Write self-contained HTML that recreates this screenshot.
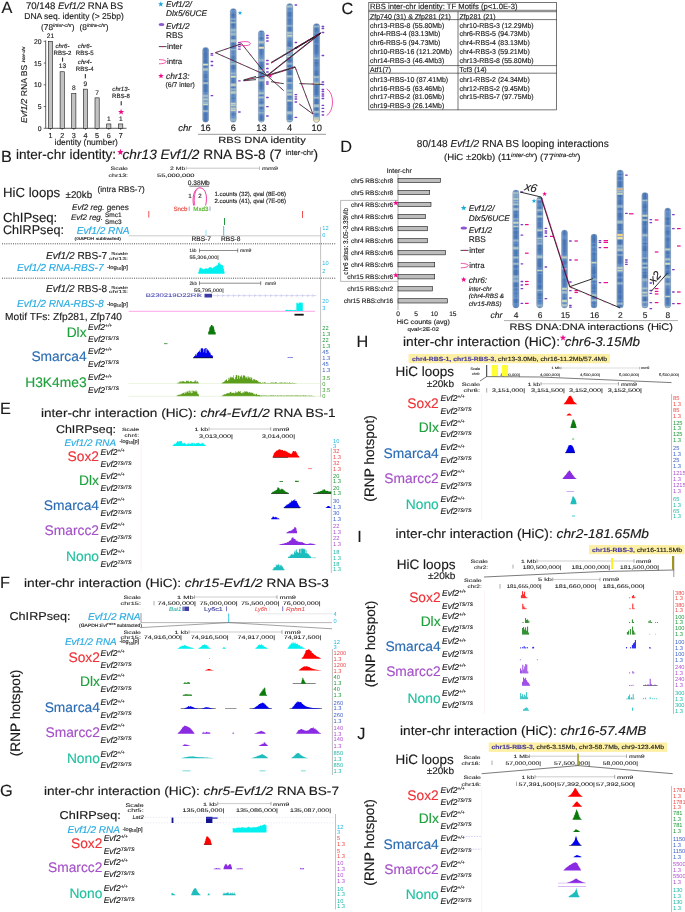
<!DOCTYPE html>
<html lang="en"><head><meta charset="utf-8"><title>Figure</title>
<style>
html,body{margin:0;padding:0;background:#fff}
body{width:685px;height:912px;overflow:hidden}
svg text{stroke-width:.14px}
svg{display:block;text-rendering:geometricPrecision;font-family:"Liberation Sans",Arial,Helvetica,sans-serif;fill:#1a1a1a}
</style></head><body>
<svg width="685" height="912" viewBox="0 0 685 912">
<defs><linearGradient id="cyl" x1="0" x2="1" y1="0" y2="0"><stop offset="0" stop-color="#8a9ab0" stop-opacity=".55"/><stop offset=".25" stop-color="#fff" stop-opacity=".08"/><stop offset=".6" stop-color="#fff" stop-opacity="0"/><stop offset="1" stop-color="#7a8aa2" stop-opacity=".5"/></linearGradient></defs>
<text x="1.5" y="13.17" font-size="16.3" stroke="#1a1a1a">A</text>
<text x="74.5" y="8.66" font-size="9.6" stroke="#1a1a1a" text-anchor="middle"><tspan>70/148 </tspan><tspan font-style="italic">Evf1/2</tspan><tspan> RNA BS</tspan></text>
<text x="74" y="19.36" font-size="8.5" text-anchor="middle" stroke="#1a1a1a">DNA seq. identity (&gt; 25bp)</text>
<text x="41" y="29.99" font-size="8.3" stroke="#1a1a1a"><tspan>(78</tspan><tspan font-style="italic" font-size="5.15" dy="-3.49">inter-chr</tspan><tspan dy="3.49">)</tspan></text>
<text x="79.5" y="29.99" font-size="8.3" stroke="#1a1a1a"><tspan>(8</tspan><tspan font-style="italic" font-size="5.15" dy="-3.49">intra-chr</tspan><tspan dy="3.49">)</tspan></text>
<line x1="45.7" y1="40.5" x2="45.7" y2="128.3" stroke="#1a1a1a" stroke-width="0.7"/>
<line x1="45.7" y1="128.3" x2="126.5" y2="128.3" stroke="#1a1a1a" stroke-width="0.7"/>
<line x1="43.7" y1="128.3" x2="45.7" y2="128.3" stroke="#1a1a1a" stroke-width="0.6"/>
<text x="41.5" y="130.75" font-size="6.8" text-anchor="end" stroke="#1a1a1a">0</text>
<line x1="43.7" y1="106.55" x2="45.7" y2="106.55" stroke="#1a1a1a" stroke-width="0.6"/>
<text x="41.5" y="109" font-size="6.8" text-anchor="end" stroke="#1a1a1a">5</text>
<line x1="43.7" y1="84.8" x2="45.7" y2="84.8" stroke="#1a1a1a" stroke-width="0.6"/>
<text x="41.5" y="87.25" font-size="6.8" text-anchor="end" stroke="#1a1a1a">10</text>
<line x1="43.7" y1="63.05" x2="45.7" y2="63.05" stroke="#1a1a1a" stroke-width="0.6"/>
<text x="41.5" y="65.5" font-size="6.8" text-anchor="end" stroke="#1a1a1a">15</text>
<line x1="43.7" y1="41.3" x2="45.7" y2="41.3" stroke="#1a1a1a" stroke-width="0.6"/>
<text x="41.5" y="43.75" font-size="6.8" text-anchor="end" stroke="#1a1a1a">20</text>
<rect x="48.3" y="41.3" width="4.2" height="87" fill="#c2c2c2" stroke="#1a1a1a" stroke-width="0.6"/>
<text x="50.4" y="137.89" font-size="7.2" text-anchor="middle" stroke="#1a1a1a">1</text>
<line x1="50.4" y1="128.3" x2="50.4" y2="129.9" stroke="#1a1a1a" stroke-width="0.6"/>
<rect x="60.1" y="71.75" width="4.2" height="56.55" fill="#c2c2c2" stroke="#1a1a1a" stroke-width="0.6"/>
<text x="62.2" y="137.89" font-size="7.2" text-anchor="middle" stroke="#1a1a1a">2</text>
<line x1="62.2" y1="128.3" x2="62.2" y2="129.9" stroke="#1a1a1a" stroke-width="0.6"/>
<rect x="71.7" y="93.5" width="4.2" height="34.8" fill="#c2c2c2" stroke="#1a1a1a" stroke-width="0.6"/>
<text x="73.8" y="137.89" font-size="7.2" text-anchor="middle" stroke="#1a1a1a">3</text>
<line x1="73.8" y1="128.3" x2="73.8" y2="129.9" stroke="#1a1a1a" stroke-width="0.6"/>
<rect x="83.3" y="89.15" width="4.2" height="39.15" fill="#c2c2c2" stroke="#1a1a1a" stroke-width="0.6"/>
<text x="85.4" y="137.89" font-size="7.2" text-anchor="middle" stroke="#1a1a1a">4</text>
<line x1="85.4" y1="128.3" x2="85.4" y2="129.9" stroke="#1a1a1a" stroke-width="0.6"/>
<rect x="95" y="97.85" width="4.2" height="30.45" fill="#c2c2c2" stroke="#1a1a1a" stroke-width="0.6"/>
<text x="97.1" y="137.89" font-size="7.2" text-anchor="middle" stroke="#1a1a1a">5</text>
<line x1="97.1" y1="128.3" x2="97.1" y2="129.9" stroke="#1a1a1a" stroke-width="0.6"/>
<rect x="106.7" y="123.95" width="4.2" height="4.35" fill="#c2c2c2" stroke="#1a1a1a" stroke-width="0.6"/>
<text x="108.8" y="137.89" font-size="7.2" text-anchor="middle" stroke="#1a1a1a">6</text>
<line x1="108.8" y1="128.3" x2="108.8" y2="129.9" stroke="#1a1a1a" stroke-width="0.6"/>
<rect x="118.6" y="123.95" width="4.2" height="4.35" fill="#c2c2c2" stroke="#1a1a1a" stroke-width="0.6"/>
<text x="120.7" y="137.89" font-size="7.2" text-anchor="middle" stroke="#1a1a1a">7</text>
<line x1="120.7" y1="128.3" x2="120.7" y2="129.9" stroke="#1a1a1a" stroke-width="0.6"/>
<text x="86.2" y="144.54" font-size="8.45" text-anchor="middle" stroke="#1a1a1a">identity (number)</text>
<text x="27.3" y="123" font-size="8.6" stroke="#1a1a1a" transform="rotate(-90 27.3 123)"><tspan font-style="italic">Evf1/2</tspan><tspan> RNA BS </tspan><tspan font-style="italic" font-size="4.3" dy="-2.58">inter-chr</tspan></text>
<text x="50.4" y="38.38" font-size="6.6" text-anchor="middle" stroke="#1a1a1a">21</text>
<text x="62.5" y="48.4" font-size="6.1" text-anchor="middle" font-style="italic" stroke="#1a1a1a">chr6-</text>
<text x="62.5" y="55.4" font-size="6.1" text-anchor="middle" stroke="#1a1a1a">RBS-2</text>
<line x1="62.6" y1="57.6" x2="62.6" y2="61.6" stroke="#1a1a1a" stroke-width="1"/>
<text x="62.4" y="68.38" font-size="6.6" text-anchor="middle" stroke="#1a1a1a">13</text>
<text x="84.8" y="48.4" font-size="6.1" text-anchor="middle" font-style="italic" stroke="#1a1a1a">chr6-</text>
<text x="84.8" y="55.4" font-size="6.1" text-anchor="middle" stroke="#1a1a1a">RBS-5</text>
<text x="84.8" y="63.5" font-size="6.1" text-anchor="middle" font-style="italic" stroke="#1a1a1a">chr4-</text>
<text x="84.8" y="70.5" font-size="6.1" text-anchor="middle" stroke="#1a1a1a">RBS-4</text>
<line x1="85.3" y1="74" x2="85.3" y2="78.4" stroke="#1a1a1a" stroke-width="1"/>
<text x="85.4" y="85.68" font-size="6.6" text-anchor="middle" stroke="#1a1a1a">9</text>
<text x="73.9" y="90.18" font-size="6.6" text-anchor="middle" stroke="#1a1a1a">8</text>
<text x="97.2" y="94.68" font-size="6.6" text-anchor="middle" stroke="#1a1a1a">7</text>
<text x="121" y="91.2" font-size="6.1" text-anchor="middle" font-style="italic" stroke="#1a1a1a">chr13-</text>
<text x="121" y="98.4" font-size="6.1" text-anchor="middle" stroke="#1a1a1a">RBS-8</text>
<line x1="121.2" y1="101.2" x2="121.2" y2="105.4" stroke="#1a1a1a" stroke-width="1"/>
<polygon points="121.1,108.8 121.89,110.91 124.14,111.01 122.38,112.42 122.98,114.59 121.1,113.34 119.22,114.59 119.82,112.42 118.06,111.01 120.31,110.91" fill="#ec0c8c"/>
<text x="108.8" y="121.08" font-size="6.6" text-anchor="middle" stroke="#1a1a1a">1</text>
<text x="120.8" y="121.08" font-size="6.6" text-anchor="middle" stroke="#1a1a1a">1</text>
<polygon points="160.8,1.3 161.52,3.21 163.56,3.3 161.96,4.58 162.5,6.55 160.8,5.42 159.1,6.55 159.64,4.58 158.04,3.3 160.08,3.21" fill="#1aa7e0"/>
<text x="166" y="7.29" font-size="8.3" font-style="italic" stroke="#1a1a1a">Evf1/2/</text>
<text x="166" y="15.99" font-size="8.3" font-style="italic" stroke="#1a1a1a">Dlx5/6UCE</text>
<ellipse cx="161.5" cy="24.6" rx="2.9" ry="1.5" fill="#8a55d0"/>
<text x="166" y="29.19" font-size="8.3" font-style="italic" stroke="#1a1a1a">Evf1/2</text>
<text x="166" y="37.79" font-size="8.3" stroke="#1a1a1a">RBS</text>
<line x1="158.8" y1="46.6" x2="166.6" y2="46.6" stroke="#1a1a1a" stroke-width="0.8"/>
<line x1="161.5" y1="46.6" x2="164" y2="46.6" stroke="#ec0c8c" stroke-width="0.8"/>
<text x="167" y="49.44" font-size="7.9" stroke="#1a1a1a">inter</text>
<path d="M159 59.6 C163 59.6 166.3 60.6 166.3 61.6 C166.3 62.8 163 63.8 159 63.8" fill="none" stroke="#ec0c8c" stroke-width="0.7"/>
<text x="167" y="64.11" font-size="7.8" stroke="#1a1a1a">intra</text>
<polygon points="161,73.1 161.72,75.01 163.76,75.1 162.16,76.38 162.7,78.35 161,77.22 159.3,78.35 159.84,76.38 158.24,75.1 160.28,75.01" fill="#ec0c8c"/>
<text x="166" y="79.26" font-size="8.5" font-style="italic" stroke="#1a1a1a">chr13:</text>
<text x="165.6" y="86.75" font-size="6.8" stroke="#1a1a1a">(6/7 inter)</text>
<clipPath id="c1"><rect x="202.6" y="47.3" width="6" height="75" rx="3" ry="3"/></clipPath>
<g clip-path="url(#c1)">
<rect x="202.6" y="47.3" width="6" height="75" fill="#4677b8"/>
<rect x="202.6" y="48.8" width="6" height="2.13" fill="#4474b6"/>
<rect x="202.6" y="50.83" width="6" height="2.02" fill="#4877b9"/>
<rect x="202.6" y="52.75" width="6" height="2.67" fill="#4070b0"/>
<rect x="202.6" y="55.32" width="6" height="2.64" fill="#4272b4"/>
<rect x="202.6" y="57.86" width="6" height="1.21" fill="#4877b9"/>
<rect x="202.6" y="58.97" width="6" height="2.43" fill="#4272b4"/>
<rect x="202.6" y="61.3" width="6" height="1.77" fill="#4070b0"/>
<rect x="202.6" y="62.97" width="6" height="2.25" fill="#4b7cbc"/>
<rect x="202.6" y="65.13" width="6" height="2.73" fill="#4272b4"/>
<rect x="202.6" y="67.75" width="6" height="0.7" fill="#7da2c6"/>
<rect x="202.6" y="68.35" width="6" height="2.46" fill="#a9c2c4"/>
<rect x="202.6" y="70.71" width="6" height="0.7" fill="#7da2c6"/>
<rect x="202.6" y="71.51" width="6" height="2.61" fill="#5585c2"/>
<rect x="202.6" y="74.03" width="6" height="2.75" fill="#4877b9"/>
<rect x="202.6" y="76.68" width="6" height="1.55" fill="#4272b4"/>
<rect x="202.6" y="78.13" width="6" height="1.91" fill="#5585c2"/>
<rect x="202.6" y="79.93" width="6" height="2.11" fill="#4474b6"/>
<rect x="202.6" y="81.95" width="6" height="0.7" fill="#7da2c6"/>
<rect x="202.6" y="82.55" width="6" height="1.33" fill="#b6c9be"/>
<rect x="202.6" y="83.78" width="6" height="0.7" fill="#7da2c6"/>
<rect x="202.6" y="84.58" width="6" height="1.54" fill="#4272b4"/>
<rect x="202.6" y="86.01" width="6" height="1.14" fill="#4272b4"/>
<rect x="202.6" y="87.05" width="6" height="1.75" fill="#4272b4"/>
<rect x="202.6" y="88.7" width="6" height="0.9" fill="#4b7cbc"/>
<rect x="202.6" y="89.5" width="6" height="1.02" fill="#4070b0"/>
<rect x="202.6" y="90.42" width="6" height="1.77" fill="#4272b4"/>
<rect x="202.6" y="92.09" width="6" height="1.34" fill="#5c8bc6"/>
<rect x="202.6" y="93.33" width="6" height="1.09" fill="#5585c2"/>
<rect x="202.6" y="94.32" width="6" height="0.7" fill="#7da2c6"/>
<rect x="202.6" y="94.92" width="6" height="2.22" fill="#93b4c8"/>
<rect x="202.6" y="97.03" width="6" height="0.7" fill="#7da2c6"/>
<rect x="202.6" y="97.83" width="6" height="0.7" fill="#7da2c6"/>
<rect x="202.6" y="98.43" width="6" height="2.11" fill="#a9c2c4"/>
<rect x="202.6" y="100.45" width="6" height="0.7" fill="#7da2c6"/>
<rect x="202.6" y="101.25" width="6" height="0.7" fill="#7da2c6"/>
<rect x="202.6" y="101.85" width="6" height="2.29" fill="#93b4c8"/>
<rect x="202.6" y="104.04" width="6" height="0.7" fill="#7da2c6"/>
<rect x="202.6" y="104.84" width="6" height="2.13" fill="#4070b0"/>
<rect x="202.6" y="106.87" width="6" height="3.07" fill="#4474b6"/>
<rect x="202.6" y="109.84" width="6" height="0.7" fill="#7da2c6"/>
<rect x="202.6" y="110.44" width="6" height="1.47" fill="#a4bfc6"/>
<rect x="202.6" y="111.81" width="6" height="0.7" fill="#7da2c6"/>
<rect x="202.6" y="112.61" width="6" height="3.08" fill="#4272b4"/>
<rect x="202.6" y="115.59" width="6" height="3.04" fill="#4474b6"/>
<rect x="202.6" y="118.52" width="6" height="3.1" fill="#4272b4"/>
<rect x="202.6" y="63.5" width="6" height="2.2" fill="#8fb0c6"/>
<rect x="202.6" y="64" width="6" height="1.2" fill="#d9e2b8"/>
<rect x="202.6" y="103.5" width="6" height="2" fill="#8fb0c6"/>
<rect x="202.6" y="104" width="6" height="1" fill="#c6d4bc"/>
<rect x="202.6" y="47.3" width="6" height="75" fill="url(#cyl)"/>
</g>
<rect x="202.6" y="47.3" width="6" height="75" rx="3" ry="3" fill="none" stroke="#93a0b0" stroke-width="0.45"/>
<clipPath id="c2"><rect x="230.3" y="8.4" width="6" height="113.9" rx="3" ry="3"/></clipPath>
<g clip-path="url(#c2)">
<rect x="230.3" y="8.4" width="6" height="113.9" fill="#4677b8"/>
<rect x="230.3" y="9.9" width="6" height="2.35" fill="#5c8bc6"/>
<rect x="230.3" y="12.15" width="6" height="1.74" fill="#5585c2"/>
<rect x="230.3" y="13.79" width="6" height="2.32" fill="#4070b0"/>
<rect x="230.3" y="16" width="6" height="2.22" fill="#4877b9"/>
<rect x="230.3" y="18.12" width="6" height="0.7" fill="#7da2c6"/>
<rect x="230.3" y="18.72" width="6" height="0.99" fill="#8aadc8"/>
<rect x="230.3" y="19.62" width="6" height="0.7" fill="#7da2c6"/>
<rect x="230.3" y="20.42" width="6" height="1.26" fill="#4b7cbc"/>
<rect x="230.3" y="21.57" width="6" height="0.7" fill="#7da2c6"/>
<rect x="230.3" y="22.17" width="6" height="0.85" fill="#a9c2c4"/>
<rect x="230.3" y="22.92" width="6" height="0.7" fill="#7da2c6"/>
<rect x="230.3" y="23.72" width="6" height="1.64" fill="#4070b0"/>
<rect x="230.3" y="25.26" width="6" height="1.09" fill="#4272b4"/>
<rect x="230.3" y="26.26" width="6" height="2.36" fill="#4b7cbc"/>
<rect x="230.3" y="28.51" width="6" height="0.7" fill="#7da2c6"/>
<rect x="230.3" y="29.11" width="6" height="2.59" fill="#93b4c8"/>
<rect x="230.3" y="31.61" width="6" height="0.7" fill="#7da2c6"/>
<rect x="230.3" y="32.41" width="6" height="0.7" fill="#7da2c6"/>
<rect x="230.3" y="33.01" width="6" height="2.64" fill="#93b4c8"/>
<rect x="230.3" y="35.55" width="6" height="0.7" fill="#7da2c6"/>
<rect x="230.3" y="36.35" width="6" height="2.84" fill="#4877b9"/>
<rect x="230.3" y="39.09" width="6" height="0.7" fill="#7da2c6"/>
<rect x="230.3" y="39.69" width="6" height="2.47" fill="#a4bfc6"/>
<rect x="230.3" y="42.06" width="6" height="0.7" fill="#7da2c6"/>
<rect x="230.3" y="42.86" width="6" height="2.02" fill="#4272b4"/>
<rect x="230.3" y="44.78" width="6" height="1.82" fill="#4877b9"/>
<rect x="230.3" y="46.5" width="6" height="2.24" fill="#4877b9"/>
<rect x="230.3" y="48.64" width="6" height="0.7" fill="#7da2c6"/>
<rect x="230.3" y="49.24" width="6" height="0.87" fill="#a4bfc6"/>
<rect x="230.3" y="50" width="6" height="0.7" fill="#7da2c6"/>
<rect x="230.3" y="50.8" width="6" height="2.63" fill="#5585c2"/>
<rect x="230.3" y="53.33" width="6" height="1.7" fill="#5c8bc6"/>
<rect x="230.3" y="54.93" width="6" height="1.58" fill="#5585c2"/>
<rect x="230.3" y="56.42" width="6" height="1.7" fill="#4877b9"/>
<rect x="230.3" y="58.01" width="6" height="2.58" fill="#4b7cbc"/>
<rect x="230.3" y="60.5" width="6" height="0.7" fill="#7da2c6"/>
<rect x="230.3" y="61.1" width="6" height="0.77" fill="#93b4c8"/>
<rect x="230.3" y="61.76" width="6" height="0.7" fill="#7da2c6"/>
<rect x="230.3" y="62.56" width="6" height="0.7" fill="#7da2c6"/>
<rect x="230.3" y="63.16" width="6" height="1.55" fill="#a4bfc6"/>
<rect x="230.3" y="64.62" width="6" height="0.7" fill="#7da2c6"/>
<rect x="230.3" y="65.42" width="6" height="2.6" fill="#4272b4"/>
<rect x="230.3" y="67.92" width="6" height="1.39" fill="#4272b4"/>
<rect x="230.3" y="69.2" width="6" height="0.98" fill="#5585c2"/>
<rect x="230.3" y="70.08" width="6" height="2.22" fill="#5c8bc6"/>
<rect x="230.3" y="72.21" width="6" height="0.7" fill="#7da2c6"/>
<rect x="230.3" y="72.81" width="6" height="1.44" fill="#93b4c8"/>
<rect x="230.3" y="74.14" width="6" height="0.7" fill="#7da2c6"/>
<rect x="230.3" y="74.94" width="6" height="1.9" fill="#5c8bc6"/>
<rect x="230.3" y="76.75" width="6" height="1.96" fill="#4b7cbc"/>
<rect x="230.3" y="78.6" width="6" height="2.11" fill="#4b7cbc"/>
<rect x="230.3" y="80.61" width="6" height="2.55" fill="#4877b9"/>
<rect x="230.3" y="83.06" width="6" height="0.7" fill="#7da2c6"/>
<rect x="230.3" y="83.66" width="6" height="2.53" fill="#b6c9be"/>
<rect x="230.3" y="86.09" width="6" height="0.7" fill="#7da2c6"/>
<rect x="230.3" y="86.89" width="6" height="1.29" fill="#4474b6"/>
<rect x="230.3" y="88.08" width="6" height="0.7" fill="#7da2c6"/>
<rect x="230.3" y="88.68" width="6" height="1.2" fill="#9fbcc8"/>
<rect x="230.3" y="89.78" width="6" height="0.7" fill="#7da2c6"/>
<rect x="230.3" y="90.58" width="6" height="0.7" fill="#7da2c6"/>
<rect x="230.3" y="91.18" width="6" height="2.7" fill="#b6c9be"/>
<rect x="230.3" y="93.78" width="6" height="0.7" fill="#7da2c6"/>
<rect x="230.3" y="94.58" width="6" height="0.95" fill="#5585c2"/>
<rect x="230.3" y="95.43" width="6" height="2.37" fill="#5585c2"/>
<rect x="230.3" y="97.7" width="6" height="1.4" fill="#4877b9"/>
<rect x="230.3" y="99" width="6" height="1.98" fill="#5585c2"/>
<rect x="230.3" y="100.88" width="6" height="2.98" fill="#5c8bc6"/>
<rect x="230.3" y="103.76" width="6" height="0.7" fill="#7da2c6"/>
<rect x="230.3" y="104.36" width="6" height="1.93" fill="#b6c9be"/>
<rect x="230.3" y="106.2" width="6" height="0.7" fill="#7da2c6"/>
<rect x="230.3" y="107" width="6" height="0.7" fill="#7da2c6"/>
<rect x="230.3" y="107.6" width="6" height="2.59" fill="#b6c9be"/>
<rect x="230.3" y="110.09" width="6" height="0.7" fill="#7da2c6"/>
<rect x="230.3" y="110.89" width="6" height="2.43" fill="#5c8bc6"/>
<rect x="230.3" y="113.22" width="6" height="2.51" fill="#4877b9"/>
<rect x="230.3" y="115.63" width="6" height="2.4" fill="#5c8bc6"/>
<rect x="230.3" y="117.94" width="6" height="0.7" fill="#7da2c6"/>
<rect x="230.3" y="118.54" width="6" height="2.47" fill="#8aadc8"/>
<rect x="230.3" y="120.91" width="6" height="0.7" fill="#7da2c6"/>
<rect x="230.3" y="75.5" width="6" height="2.3" fill="#8fb0c6"/>
<rect x="230.3" y="76" width="6" height="1.3" fill="#d9e2b8"/>
<rect x="230.3" y="102.5" width="6" height="2.2" fill="#8fb0c6"/>
<rect x="230.3" y="103" width="6" height="1.2" fill="#c6d4bc"/>
<rect x="230.3" y="109.5" width="6" height="2" fill="#8fb0c6"/>
<rect x="230.3" y="110" width="6" height="1" fill="#c6d4bc"/>
<rect x="230.3" y="8.4" width="6" height="113.9" fill="url(#cyl)"/>
</g>
<rect x="230.3" y="8.4" width="6" height="113.9" rx="3" ry="3" fill="none" stroke="#93a0b0" stroke-width="0.45"/>
<clipPath id="c3"><rect x="258.4" y="30.4" width="6" height="91.9" rx="3" ry="3"/></clipPath>
<g clip-path="url(#c3)">
<rect x="258.4" y="30.4" width="6" height="91.9" fill="#4677b8"/>
<rect x="258.4" y="31.9" width="6" height="2.41" fill="#5c8bc6"/>
<rect x="258.4" y="34.21" width="6" height="2.86" fill="#5c8bc6"/>
<rect x="258.4" y="36.97" width="6" height="1.22" fill="#4b7cbc"/>
<rect x="258.4" y="38.09" width="6" height="1.31" fill="#4272b4"/>
<rect x="258.4" y="39.3" width="6" height="1.37" fill="#5585c2"/>
<rect x="258.4" y="40.57" width="6" height="0.7" fill="#7da2c6"/>
<rect x="258.4" y="41.17" width="6" height="2.38" fill="#a9c2c4"/>
<rect x="258.4" y="43.45" width="6" height="0.7" fill="#7da2c6"/>
<rect x="258.4" y="44.25" width="6" height="0.93" fill="#5585c2"/>
<rect x="258.4" y="45.08" width="6" height="1.09" fill="#4474b6"/>
<rect x="258.4" y="46.07" width="6" height="2.67" fill="#4474b6"/>
<rect x="258.4" y="48.64" width="6" height="1.86" fill="#4b7cbc"/>
<rect x="258.4" y="50.4" width="6" height="1.46" fill="#4474b6"/>
<rect x="258.4" y="51.77" width="6" height="2.88" fill="#4877b9"/>
<rect x="258.4" y="54.54" width="6" height="1.85" fill="#5585c2"/>
<rect x="258.4" y="56.29" width="6" height="2.31" fill="#5c8bc6"/>
<rect x="258.4" y="58.49" width="6" height="0.7" fill="#7da2c6"/>
<rect x="258.4" y="59.09" width="6" height="2.3" fill="#8aadc8"/>
<rect x="258.4" y="61.29" width="6" height="0.7" fill="#7da2c6"/>
<rect x="258.4" y="62.09" width="6" height="2.42" fill="#4877b9"/>
<rect x="258.4" y="64.41" width="6" height="3.07" fill="#4070b0"/>
<rect x="258.4" y="67.38" width="6" height="1.88" fill="#4b7cbc"/>
<rect x="258.4" y="69.16" width="6" height="1.29" fill="#5585c2"/>
<rect x="258.4" y="70.35" width="6" height="1.91" fill="#4877b9"/>
<rect x="258.4" y="72.16" width="6" height="2.86" fill="#4877b9"/>
<rect x="258.4" y="74.92" width="6" height="1.42" fill="#4b7cbc"/>
<rect x="258.4" y="76.23" width="6" height="2.44" fill="#4b7cbc"/>
<rect x="258.4" y="78.58" width="6" height="0.7" fill="#7da2c6"/>
<rect x="258.4" y="79.18" width="6" height="1.96" fill="#a4bfc6"/>
<rect x="258.4" y="81.04" width="6" height="0.7" fill="#7da2c6"/>
<rect x="258.4" y="81.84" width="6" height="0.9" fill="#4070b0"/>
<rect x="258.4" y="82.64" width="6" height="1" fill="#4b7cbc"/>
<rect x="258.4" y="83.54" width="6" height="2.44" fill="#4070b0"/>
<rect x="258.4" y="85.87" width="6" height="1.25" fill="#4070b0"/>
<rect x="258.4" y="87.02" width="6" height="1.45" fill="#4474b6"/>
<rect x="258.4" y="88.38" width="6" height="1.35" fill="#4474b6"/>
<rect x="258.4" y="89.62" width="6" height="2.04" fill="#5c8bc6"/>
<rect x="258.4" y="91.57" width="6" height="0.7" fill="#7da2c6"/>
<rect x="258.4" y="92.17" width="6" height="1.91" fill="#a4bfc6"/>
<rect x="258.4" y="93.98" width="6" height="0.7" fill="#7da2c6"/>
<rect x="258.4" y="94.78" width="6" height="1.37" fill="#4877b9"/>
<rect x="258.4" y="96.04" width="6" height="0.7" fill="#7da2c6"/>
<rect x="258.4" y="96.64" width="6" height="1.88" fill="#a4bfc6"/>
<rect x="258.4" y="98.42" width="6" height="0.7" fill="#7da2c6"/>
<rect x="258.4" y="99.22" width="6" height="2.5" fill="#5585c2"/>
<rect x="258.4" y="101.62" width="6" height="1.32" fill="#4474b6"/>
<rect x="258.4" y="102.85" width="6" height="1.15" fill="#4b7cbc"/>
<rect x="258.4" y="103.9" width="6" height="0.7" fill="#7da2c6"/>
<rect x="258.4" y="104.5" width="6" height="1.99" fill="#93b4c8"/>
<rect x="258.4" y="106.38" width="6" height="0.7" fill="#7da2c6"/>
<rect x="258.4" y="107.18" width="6" height="2.1" fill="#4272b4"/>
<rect x="258.4" y="109.18" width="6" height="2.72" fill="#5c8bc6"/>
<rect x="258.4" y="111.79" width="6" height="0.7" fill="#7da2c6"/>
<rect x="258.4" y="112.39" width="6" height="0.95" fill="#9fbcc8"/>
<rect x="258.4" y="113.25" width="6" height="0.7" fill="#7da2c6"/>
<rect x="258.4" y="114.05" width="6" height="1.8" fill="#5585c2"/>
<rect x="258.4" y="115.74" width="6" height="2.44" fill="#4070b0"/>
<rect x="258.4" y="118.08" width="6" height="2.77" fill="#4272b4"/>
<rect x="258.4" y="120.76" width="6" height="0.7" fill="#7da2c6"/>
<rect x="258.4" y="121.36" width="6" height="1.01" fill="#b6c9be"/>
<rect x="258.4" y="122.27" width="6" height="0.7" fill="#7da2c6"/>
<rect x="258.4" y="46.5" width="6" height="2.5" fill="#8fb0c6"/>
<rect x="258.4" y="47" width="6" height="1.5" fill="#f1e0a0"/>
<rect x="258.4" y="69.5" width="6" height="2" fill="#8fb0c6"/>
<rect x="258.4" y="70" width="6" height="1" fill="#c6d4bc"/>
<rect x="258.4" y="30.4" width="6" height="91.9" fill="url(#cyl)"/>
</g>
<rect x="258.4" y="30.4" width="6" height="91.9" rx="3" ry="3" fill="none" stroke="#93a0b0" stroke-width="0.45"/>
<clipPath id="c4"><rect x="286.6" y="3.4" width="6.2" height="118.9" rx="3.1" ry="3.1"/></clipPath>
<g clip-path="url(#c4)">
<rect x="286.6" y="3.4" width="6.2" height="118.9" fill="#4677b8"/>
<rect x="286.6" y="4.9" width="6.2" height="0.7" fill="#7da2c6"/>
<rect x="286.6" y="5.5" width="6.2" height="2.21" fill="#a4bfc6"/>
<rect x="286.6" y="7.61" width="6.2" height="0.7" fill="#7da2c6"/>
<rect x="286.6" y="8.41" width="6.2" height="1.44" fill="#5c8bc6"/>
<rect x="286.6" y="9.75" width="6.2" height="2.51" fill="#5c8bc6"/>
<rect x="286.6" y="12.17" width="6.2" height="1.93" fill="#4474b6"/>
<rect x="286.6" y="14" width="6.2" height="2.61" fill="#4272b4"/>
<rect x="286.6" y="16.51" width="6.2" height="2.82" fill="#5585c2"/>
<rect x="286.6" y="19.22" width="6.2" height="1.47" fill="#4474b6"/>
<rect x="286.6" y="20.59" width="6.2" height="2.04" fill="#4b7cbc"/>
<rect x="286.6" y="22.53" width="6.2" height="2.36" fill="#4b7cbc"/>
<rect x="286.6" y="24.79" width="6.2" height="0.7" fill="#7da2c6"/>
<rect x="286.6" y="25.39" width="6.2" height="0.95" fill="#9fbcc8"/>
<rect x="286.6" y="26.24" width="6.2" height="0.7" fill="#7da2c6"/>
<rect x="286.6" y="27.04" width="6.2" height="1.08" fill="#4b7cbc"/>
<rect x="286.6" y="28.02" width="6.2" height="1.74" fill="#4877b9"/>
<rect x="286.6" y="29.66" width="6.2" height="1.87" fill="#4877b9"/>
<rect x="286.6" y="31.43" width="6.2" height="0.7" fill="#7da2c6"/>
<rect x="286.6" y="32.03" width="6.2" height="2.07" fill="#a4bfc6"/>
<rect x="286.6" y="34" width="6.2" height="0.7" fill="#7da2c6"/>
<rect x="286.6" y="34.8" width="6.2" height="0.7" fill="#7da2c6"/>
<rect x="286.6" y="35.4" width="6.2" height="1.97" fill="#8aadc8"/>
<rect x="286.6" y="37.27" width="6.2" height="0.7" fill="#7da2c6"/>
<rect x="286.6" y="38.07" width="6.2" height="2.8" fill="#5c8bc6"/>
<rect x="286.6" y="40.78" width="6.2" height="2.03" fill="#4b7cbc"/>
<rect x="286.6" y="42.71" width="6.2" height="2.27" fill="#4070b0"/>
<rect x="286.6" y="44.88" width="6.2" height="2" fill="#4272b4"/>
<rect x="286.6" y="46.78" width="6.2" height="0.7" fill="#7da2c6"/>
<rect x="286.6" y="47.38" width="6.2" height="1.26" fill="#9fbcc8"/>
<rect x="286.6" y="48.54" width="6.2" height="0.7" fill="#7da2c6"/>
<rect x="286.6" y="49.34" width="6.2" height="0.7" fill="#7da2c6"/>
<rect x="286.6" y="49.94" width="6.2" height="2.18" fill="#a9c2c4"/>
<rect x="286.6" y="52.02" width="6.2" height="0.7" fill="#7da2c6"/>
<rect x="286.6" y="52.82" width="6.2" height="0.7" fill="#7da2c6"/>
<rect x="286.6" y="53.42" width="6.2" height="1.87" fill="#8aadc8"/>
<rect x="286.6" y="55.19" width="6.2" height="0.7" fill="#7da2c6"/>
<rect x="286.6" y="55.99" width="6.2" height="3.04" fill="#4b7cbc"/>
<rect x="286.6" y="58.93" width="6.2" height="1.9" fill="#4070b0"/>
<rect x="286.6" y="60.73" width="6.2" height="1.82" fill="#4474b6"/>
<rect x="286.6" y="62.45" width="6.2" height="0.7" fill="#7da2c6"/>
<rect x="286.6" y="63.05" width="6.2" height="1.49" fill="#93b4c8"/>
<rect x="286.6" y="64.44" width="6.2" height="0.7" fill="#7da2c6"/>
<rect x="286.6" y="65.24" width="6.2" height="2.25" fill="#4070b0"/>
<rect x="286.6" y="67.4" width="6.2" height="0.7" fill="#7da2c6"/>
<rect x="286.6" y="68" width="6.2" height="1.68" fill="#a9c2c4"/>
<rect x="286.6" y="69.57" width="6.2" height="0.7" fill="#7da2c6"/>
<rect x="286.6" y="70.37" width="6.2" height="1.87" fill="#4474b6"/>
<rect x="286.6" y="72.14" width="6.2" height="2.98" fill="#4070b0"/>
<rect x="286.6" y="75.02" width="6.2" height="0.7" fill="#7da2c6"/>
<rect x="286.6" y="75.62" width="6.2" height="1.84" fill="#a4bfc6"/>
<rect x="286.6" y="77.36" width="6.2" height="0.7" fill="#7da2c6"/>
<rect x="286.6" y="78.16" width="6.2" height="1.48" fill="#5585c2"/>
<rect x="286.6" y="79.54" width="6.2" height="0.99" fill="#4877b9"/>
<rect x="286.6" y="80.43" width="6.2" height="1.46" fill="#4070b0"/>
<rect x="286.6" y="81.8" width="6.2" height="0.7" fill="#7da2c6"/>
<rect x="286.6" y="82.4" width="6.2" height="1.32" fill="#a9c2c4"/>
<rect x="286.6" y="83.62" width="6.2" height="0.7" fill="#7da2c6"/>
<rect x="286.6" y="84.42" width="6.2" height="2.19" fill="#5585c2"/>
<rect x="286.6" y="86.51" width="6.2" height="2.67" fill="#5585c2"/>
<rect x="286.6" y="89.08" width="6.2" height="0.7" fill="#7da2c6"/>
<rect x="286.6" y="89.68" width="6.2" height="2.25" fill="#a9c2c4"/>
<rect x="286.6" y="91.83" width="6.2" height="0.7" fill="#7da2c6"/>
<rect x="286.6" y="92.63" width="6.2" height="0.7" fill="#7da2c6"/>
<rect x="286.6" y="93.23" width="6.2" height="2.45" fill="#b6c9be"/>
<rect x="286.6" y="95.58" width="6.2" height="0.7" fill="#7da2c6"/>
<rect x="286.6" y="96.38" width="6.2" height="1.45" fill="#4877b9"/>
<rect x="286.6" y="97.72" width="6.2" height="1.63" fill="#5c8bc6"/>
<rect x="286.6" y="99.25" width="6.2" height="1.71" fill="#4877b9"/>
<rect x="286.6" y="100.87" width="6.2" height="2.53" fill="#4474b6"/>
<rect x="286.6" y="103.3" width="6.2" height="2.02" fill="#4474b6"/>
<rect x="286.6" y="105.21" width="6.2" height="1.98" fill="#4b7cbc"/>
<rect x="286.6" y="107.09" width="6.2" height="2.1" fill="#4474b6"/>
<rect x="286.6" y="109.09" width="6.2" height="1.97" fill="#4877b9"/>
<rect x="286.6" y="110.97" width="6.2" height="0.7" fill="#7da2c6"/>
<rect x="286.6" y="111.57" width="6.2" height="2.57" fill="#a4bfc6"/>
<rect x="286.6" y="114.04" width="6.2" height="0.7" fill="#7da2c6"/>
<rect x="286.6" y="114.84" width="6.2" height="1.65" fill="#5585c2"/>
<rect x="286.6" y="116.38" width="6.2" height="1.19" fill="#4272b4"/>
<rect x="286.6" y="117.47" width="6.2" height="1.21" fill="#5585c2"/>
<rect x="286.6" y="118.58" width="6.2" height="1.18" fill="#4070b0"/>
<rect x="286.6" y="119.65" width="6.2" height="0.7" fill="#7da2c6"/>
<rect x="286.6" y="120.25" width="6.2" height="1.21" fill="#9fbcc8"/>
<rect x="286.6" y="121.37" width="6.2" height="0.7" fill="#7da2c6"/>
<rect x="286.6" y="34.5" width="6.2" height="2.3" fill="#8fb0c6"/>
<rect x="286.6" y="35" width="6.2" height="1.3" fill="#c6d4bc"/>
<rect x="286.6" y="55.5" width="6.2" height="2" fill="#8fb0c6"/>
<rect x="286.6" y="56" width="6.2" height="1" fill="#c6d4bc"/>
<rect x="286.6" y="99.5" width="6.2" height="2.2" fill="#8fb0c6"/>
<rect x="286.6" y="100" width="6.2" height="1.2" fill="#c6d4bc"/>
<rect x="286.6" y="3.4" width="6.2" height="118.9" fill="url(#cyl)"/>
</g>
<rect x="286.6" y="3.4" width="6.2" height="118.9" rx="3.1" ry="3.1" fill="none" stroke="#93a0b0" stroke-width="0.45"/>
<clipPath id="c5"><rect x="313.4" y="23.4" width="6.2" height="98.9" rx="3.1" ry="3.1"/></clipPath>
<g clip-path="url(#c5)">
<rect x="313.4" y="23.4" width="6.2" height="98.9" fill="#4677b8"/>
<rect x="313.4" y="24.9" width="6.2" height="0.93" fill="#5c8bc6"/>
<rect x="313.4" y="25.73" width="6.2" height="0.7" fill="#7da2c6"/>
<rect x="313.4" y="26.33" width="6.2" height="0.73" fill="#a9c2c4"/>
<rect x="313.4" y="26.96" width="6.2" height="0.7" fill="#7da2c6"/>
<rect x="313.4" y="27.76" width="6.2" height="2.4" fill="#4474b6"/>
<rect x="313.4" y="30.06" width="6.2" height="1.71" fill="#4272b4"/>
<rect x="313.4" y="31.67" width="6.2" height="2.46" fill="#5585c2"/>
<rect x="313.4" y="34.02" width="6.2" height="1.66" fill="#4474b6"/>
<rect x="313.4" y="35.58" width="6.2" height="1.68" fill="#5585c2"/>
<rect x="313.4" y="37.16" width="6.2" height="2.93" fill="#4877b9"/>
<rect x="313.4" y="40" width="6.2" height="2.17" fill="#4474b6"/>
<rect x="313.4" y="42.07" width="6.2" height="1.07" fill="#4877b9"/>
<rect x="313.4" y="43.04" width="6.2" height="1.87" fill="#5585c2"/>
<rect x="313.4" y="44.81" width="6.2" height="2.32" fill="#4070b0"/>
<rect x="313.4" y="47.03" width="6.2" height="2.68" fill="#4272b4"/>
<rect x="313.4" y="49.61" width="6.2" height="2.98" fill="#4272b4"/>
<rect x="313.4" y="52.49" width="6.2" height="2.07" fill="#4877b9"/>
<rect x="313.4" y="54.46" width="6.2" height="2.42" fill="#5c8bc6"/>
<rect x="313.4" y="56.78" width="6.2" height="0.7" fill="#7da2c6"/>
<rect x="313.4" y="57.38" width="6.2" height="1.69" fill="#8aadc8"/>
<rect x="313.4" y="58.97" width="6.2" height="0.7" fill="#7da2c6"/>
<rect x="313.4" y="59.77" width="6.2" height="1.12" fill="#4272b4"/>
<rect x="313.4" y="60.79" width="6.2" height="1.06" fill="#5c8bc6"/>
<rect x="313.4" y="61.75" width="6.2" height="2.12" fill="#4070b0"/>
<rect x="313.4" y="63.77" width="6.2" height="1.41" fill="#4877b9"/>
<rect x="313.4" y="65.09" width="6.2" height="1.68" fill="#4b7cbc"/>
<rect x="313.4" y="66.66" width="6.2" height="1.26" fill="#5c8bc6"/>
<rect x="313.4" y="67.83" width="6.2" height="2.89" fill="#5585c2"/>
<rect x="313.4" y="70.62" width="6.2" height="2.62" fill="#4474b6"/>
<rect x="313.4" y="73.14" width="6.2" height="2.65" fill="#4070b0"/>
<rect x="313.4" y="75.69" width="6.2" height="0.7" fill="#7da2c6"/>
<rect x="313.4" y="76.29" width="6.2" height="1.68" fill="#a4bfc6"/>
<rect x="313.4" y="77.87" width="6.2" height="0.7" fill="#7da2c6"/>
<rect x="313.4" y="78.67" width="6.2" height="2.75" fill="#5c8bc6"/>
<rect x="313.4" y="81.32" width="6.2" height="0.7" fill="#7da2c6"/>
<rect x="313.4" y="81.92" width="6.2" height="0.78" fill="#9fbcc8"/>
<rect x="313.4" y="82.6" width="6.2" height="0.7" fill="#7da2c6"/>
<rect x="313.4" y="83.4" width="6.2" height="2.98" fill="#4b7cbc"/>
<rect x="313.4" y="86.28" width="6.2" height="2.14" fill="#4474b6"/>
<rect x="313.4" y="88.33" width="6.2" height="0.99" fill="#4272b4"/>
<rect x="313.4" y="89.22" width="6.2" height="1.08" fill="#4070b0"/>
<rect x="313.4" y="90.2" width="6.2" height="2.56" fill="#4070b0"/>
<rect x="313.4" y="92.66" width="6.2" height="1.46" fill="#4272b4"/>
<rect x="313.4" y="94.02" width="6.2" height="1.02" fill="#4474b6"/>
<rect x="313.4" y="94.95" width="6.2" height="1.74" fill="#5585c2"/>
<rect x="313.4" y="96.58" width="6.2" height="0.7" fill="#7da2c6"/>
<rect x="313.4" y="97.18" width="6.2" height="1.3" fill="#a4bfc6"/>
<rect x="313.4" y="98.39" width="6.2" height="0.7" fill="#7da2c6"/>
<rect x="313.4" y="99.19" width="6.2" height="2.11" fill="#4272b4"/>
<rect x="313.4" y="101.19" width="6.2" height="2.87" fill="#4070b0"/>
<rect x="313.4" y="103.96" width="6.2" height="0.7" fill="#7da2c6"/>
<rect x="313.4" y="104.56" width="6.2" height="2.53" fill="#a4bfc6"/>
<rect x="313.4" y="106.99" width="6.2" height="0.7" fill="#7da2c6"/>
<rect x="313.4" y="107.79" width="6.2" height="2.9" fill="#4272b4"/>
<rect x="313.4" y="110.59" width="6.2" height="0.7" fill="#7da2c6"/>
<rect x="313.4" y="111.19" width="6.2" height="1.7" fill="#a9c2c4"/>
<rect x="313.4" y="112.79" width="6.2" height="0.7" fill="#7da2c6"/>
<rect x="313.4" y="113.59" width="6.2" height="1.61" fill="#4b7cbc"/>
<rect x="313.4" y="115.1" width="6.2" height="1.59" fill="#5585c2"/>
<rect x="313.4" y="116.59" width="6.2" height="0.7" fill="#7da2c6"/>
<rect x="313.4" y="117.19" width="6.2" height="2.1" fill="#b6c9be"/>
<rect x="313.4" y="119.2" width="6.2" height="0.7" fill="#7da2c6"/>
<rect x="313.4" y="120" width="6.2" height="1.03" fill="#4b7cbc"/>
<rect x="313.4" y="120.93" width="6.2" height="2.01" fill="#4272b4"/>
<rect x="313.4" y="82.5" width="6.2" height="2.2" fill="#8fb0c6"/>
<rect x="313.4" y="83" width="6.2" height="1.2" fill="#e9dfa0"/>
<rect x="313.4" y="119.3" width="6.2" height="3" fill="#f3e2a8"/>
<rect x="313.4" y="23.4" width="6.2" height="98.9" fill="url(#cyl)"/>
</g>
<rect x="313.4" y="23.4" width="6.2" height="98.9" rx="3.1" ry="3.1" fill="none" stroke="#93a0b0" stroke-width="0.45"/>
<rect x="210.5" y="52.95" width="2.8" height="1.3" fill="#7a3fc4" rx="0.6"/>
<rect x="210.5" y="54.55" width="2.8" height="1.3" fill="#7a3fc4" rx="0.6"/>
<rect x="210.5" y="60.85" width="2.8" height="1.3" fill="#7a3fc4" rx="0.6"/>
<rect x="210.5" y="64.85" width="2.8" height="1.3" fill="#7a3fc4" rx="0.6"/>
<rect x="210.5" y="95.05" width="2.8" height="1.3" fill="#7a3fc4" rx="0.6"/>
<rect x="238" y="41.95" width="2.8" height="1.3" fill="#7a3fc4" rx="0.6"/>
<rect x="238" y="43.95" width="2.8" height="1.3" fill="#7a3fc4" rx="0.6"/>
<rect x="238" y="45.95" width="2.8" height="1.3" fill="#7a3fc4" rx="0.6"/>
<rect x="238" y="48.55" width="2.8" height="1.3" fill="#7a3fc4" rx="0.6"/>
<rect x="238" y="80.15" width="2.8" height="1.3" fill="#7a3fc4" rx="0.6"/>
<rect x="238" y="111.35" width="2.8" height="1.3" fill="#7a3fc4" rx="0.6"/>
<rect x="266" y="34.85" width="2.8" height="1.3" fill="#7a3fc4" rx="0.6"/>
<rect x="266" y="37.35" width="2.8" height="1.3" fill="#7a3fc4" rx="0.6"/>
<rect x="266" y="40.35" width="2.8" height="1.3" fill="#7a3fc4" rx="0.6"/>
<rect x="266" y="59.85" width="2.8" height="1.3" fill="#7a3fc4" rx="0.6"/>
<rect x="266" y="63.35" width="2.8" height="1.3" fill="#7a3fc4" rx="0.6"/>
<rect x="266" y="67.85" width="2.8" height="1.3" fill="#7a3fc4" rx="0.6"/>
<rect x="266" y="71.35" width="2.8" height="1.3" fill="#7a3fc4" rx="0.6"/>
<rect x="266" y="81.35" width="2.8" height="1.3" fill="#7a3fc4" rx="0.6"/>
<rect x="266" y="83.35" width="2.8" height="1.3" fill="#7a3fc4" rx="0.6"/>
<rect x="266" y="96.85" width="2.8" height="1.3" fill="#7a3fc4" rx="0.6"/>
<rect x="266" y="106.05" width="2.8" height="1.3" fill="#7a3fc4" rx="0.6"/>
<rect x="266" y="115.35" width="2.8" height="1.3" fill="#7a3fc4" rx="0.6"/>
<rect x="294.5" y="4.35" width="2.8" height="1.3" fill="#7a3fc4" rx="0.6"/>
<rect x="294.5" y="41.85" width="2.8" height="1.3" fill="#7a3fc4" rx="0.6"/>
<rect x="294.5" y="47.35" width="2.8" height="1.3" fill="#7a3fc4" rx="0.6"/>
<rect x="294.5" y="93.95" width="2.8" height="1.3" fill="#7a3fc4" rx="0.6"/>
<rect x="294.5" y="96.15" width="2.8" height="1.3" fill="#7a3fc4" rx="0.6"/>
<rect x="294.5" y="98.35" width="2.8" height="1.3" fill="#7a3fc4" rx="0.6"/>
<rect x="294.5" y="101.35" width="2.8" height="1.3" fill="#7a3fc4" rx="0.6"/>
<rect x="294.5" y="116.75" width="2.8" height="1.3" fill="#7a3fc4" rx="0.6"/>
<rect x="321.5" y="25.85" width="2.8" height="1.3" fill="#7a3fc4" rx="0.6"/>
<rect x="321.5" y="27.85" width="2.8" height="1.3" fill="#7a3fc4" rx="0.6"/>
<rect x="321.5" y="31.85" width="2.8" height="1.3" fill="#7a3fc4" rx="0.6"/>
<rect x="321.5" y="54.85" width="2.8" height="1.3" fill="#7a3fc4" rx="0.6"/>
<rect x="321.5" y="81.35" width="2.8" height="1.3" fill="#7a3fc4" rx="0.6"/>
<rect x="321.5" y="83.85" width="2.8" height="1.3" fill="#7a3fc4" rx="0.6"/>
<rect x="321.5" y="88.85" width="2.8" height="1.3" fill="#7a3fc4" rx="0.6"/>
<rect x="321.5" y="90.85" width="2.8" height="1.3" fill="#7a3fc4" rx="0.6"/>
<rect x="321.5" y="93.35" width="2.8" height="1.3" fill="#7a3fc4" rx="0.6"/>
<rect x="321.5" y="95.35" width="2.8" height="1.3" fill="#7a3fc4" rx="0.6"/>
<rect x="321.5" y="97.85" width="2.8" height="1.3" fill="#7a3fc4" rx="0.6"/>
<rect x="321.5" y="104.65" width="2.8" height="1.3" fill="#7a3fc4" rx="0.6"/>
<rect x="321.5" y="107.75" width="2.8" height="1.3" fill="#7a3fc4" rx="0.6"/>
<rect x="321.5" y="110.95" width="2.8" height="1.3" fill="#7a3fc4" rx="0.6"/>
<rect x="321.5" y="114.35" width="2.8" height="1.3" fill="#7a3fc4" rx="0.6"/>
<line x1="215.4" y1="52.7" x2="241.6" y2="43.7" stroke="#1a1a1a" stroke-width="0.8"/>
<line x1="215.4" y1="52.7" x2="241.6" y2="43.7" stroke="#ec0c8c" stroke-width="0.8" stroke-dasharray="2.5 7" stroke-dashoffset="0" opacity=".75"/>
<line x1="215.4" y1="52.7" x2="266.9" y2="75.5" stroke="#1a1a1a" stroke-width="0.8"/>
<line x1="215.4" y1="52.7" x2="266.9" y2="75.5" stroke="#ec0c8c" stroke-width="0.8" stroke-dasharray="2.5 7" stroke-dashoffset="3" opacity=".75"/>
<line x1="241.6" y1="43.7" x2="266.9" y2="75.5" stroke="#1a1a1a" stroke-width="0.8"/>
<line x1="241.6" y1="43.7" x2="266.9" y2="75.5" stroke="#ec0c8c" stroke-width="0.8" stroke-dasharray="2.5 7" stroke-dashoffset="6" opacity=".75"/>
<line x1="266.9" y1="75.5" x2="320.5" y2="33" stroke="#1a1a1a" stroke-width="0.8"/>
<line x1="266.9" y1="75.5" x2="320.5" y2="33" stroke="#ec0c8c" stroke-width="0.8" stroke-dasharray="2.5 7" stroke-dashoffset="9" opacity=".75"/>
<line x1="267.2" y1="75.9" x2="320.5" y2="33.6" stroke="#1a1a1a" stroke-width="0.8"/>
<line x1="267.2" y1="75.9" x2="320.5" y2="33.6" stroke="#ec0c8c" stroke-width="0.8" stroke-dasharray="2.5 7" stroke-dashoffset="12" opacity=".75"/>
<line x1="271" y1="62.5" x2="320.5" y2="33" stroke="#1a1a1a" stroke-width="0.8"/>
<line x1="271" y1="62.5" x2="320.5" y2="33" stroke="#ec0c8c" stroke-width="0.8" stroke-dasharray="2.5 7" stroke-dashoffset="15" opacity=".75"/>
<line x1="271.2" y1="63.1" x2="320.5" y2="33.5" stroke="#1a1a1a" stroke-width="0.8"/>
<line x1="271.2" y1="63.1" x2="320.5" y2="33.5" stroke="#ec0c8c" stroke-width="0.8" stroke-dasharray="2.5 7" stroke-dashoffset="18" opacity=".75"/>
<line x1="266.9" y1="75.5" x2="295" y2="66.8" stroke="#1a1a1a" stroke-width="0.8"/>
<line x1="266.9" y1="75.5" x2="295" y2="66.8" stroke="#ec0c8c" stroke-width="0.8" stroke-dasharray="2.5 7" stroke-dashoffset="21" opacity=".75"/>
<line x1="267.2" y1="76" x2="295.2" y2="67.3" stroke="#1a1a1a" stroke-width="0.8"/>
<line x1="267.2" y1="76" x2="295.2" y2="67.3" stroke="#ec0c8c" stroke-width="0.8" stroke-dasharray="2.5 7" stroke-dashoffset="24" opacity=".75"/>
<line x1="295" y1="66.8" x2="312.9" y2="114" stroke="#1a1a1a" stroke-width="0.8"/>
<line x1="295" y1="66.8" x2="312.9" y2="114" stroke="#ec0c8c" stroke-width="0.8" stroke-dasharray="2.5 7" stroke-dashoffset="27" opacity=".75"/>
<line x1="243.6" y1="80.4" x2="266.9" y2="75.5" stroke="#1a1a1a" stroke-width="0.8"/>
<line x1="243.6" y1="80.4" x2="266.9" y2="75.5" stroke="#ec0c8c" stroke-width="0.8" stroke-dasharray="2.5 7" stroke-dashoffset="30" opacity=".75"/>
<line x1="243.6" y1="80" x2="256" y2="76.4" stroke="#1a1a1a" stroke-width="0.8"/>
<line x1="243.6" y1="80" x2="256" y2="76.4" stroke="#ec0c8c" stroke-width="0.8" stroke-dasharray="2.5 7" stroke-dashoffset="33" opacity=".75"/>
<line x1="243.6" y1="80.8" x2="256" y2="79.6" stroke="#1a1a1a" stroke-width="0.8"/>
<line x1="243.6" y1="80.8" x2="256" y2="79.6" stroke="#ec0c8c" stroke-width="0.8" stroke-dasharray="2.5 7" stroke-dashoffset="36" opacity=".75"/>
<line x1="266.9" y1="75.5" x2="283.8" y2="90.7" stroke="#1a1a1a" stroke-width="0.8"/>
<line x1="266.9" y1="75.5" x2="283.8" y2="90.7" stroke="#ec0c8c" stroke-width="0.8" stroke-dasharray="2.5 7" stroke-dashoffset="39" opacity=".75"/>
<line x1="271" y1="81.7" x2="283.8" y2="83.7" stroke="#1a1a1a" stroke-width="0.8"/>
<line x1="271" y1="81.7" x2="283.8" y2="83.7" stroke="#ec0c8c" stroke-width="0.8" stroke-dasharray="2.5 7" stroke-dashoffset="42" opacity=".75"/>
<line x1="299.4" y1="83.6" x2="322" y2="84.4" stroke="#1a1a1a" stroke-width="0.8"/>
<line x1="299.4" y1="83.6" x2="322" y2="84.4" stroke="#ec0c8c" stroke-width="0.8" stroke-dasharray="2.5 7" stroke-dashoffset="45" opacity=".75"/>
<line x1="299.3" y1="104" x2="312.9" y2="114" stroke="#1a1a1a" stroke-width="0.8"/>
<line x1="299.3" y1="104" x2="312.9" y2="114" stroke="#ec0c8c" stroke-width="0.8" stroke-dasharray="2.5 7" stroke-dashoffset="48" opacity=".75"/>
<line x1="295" y1="48" x2="320.5" y2="33" stroke="#1a1a1a" stroke-width="0.8"/>
<line x1="295" y1="48" x2="320.5" y2="33" stroke="#ec0c8c" stroke-width="0.8" stroke-dasharray="2.5 7" stroke-dashoffset="51" opacity=".75"/>
<line x1="295.3" y1="48.6" x2="320.5" y2="33.5" stroke="#1a1a1a" stroke-width="0.8"/>
<line x1="295.3" y1="48.6" x2="320.5" y2="33.5" stroke="#ec0c8c" stroke-width="0.8" stroke-dasharray="2.5 7" stroke-dashoffset="54" opacity=".75"/>
<path d="M238.5 42.6 C246 40.5 250.5 42 250.3 43.8 C250 45.5 245 46.2 240 45" fill="none" stroke="#ec0c8c" stroke-width="0.7"/>
<path d="M326.6 88.8 C334.5 93 334.5 111 326.6 115.6" fill="none" stroke="#ec0c8c" stroke-width="0.7"/>
<polygon points="270.2,73.6 270.79,75.18 272.48,75.26 271.16,76.31 271.61,77.94 270.2,77.01 268.79,77.94 269.24,76.31 267.92,75.26 269.61,75.18" fill="#ec0c8c"/>
<polygon points="240,10.7 240.57,12.22 242.19,12.29 240.92,13.3 241.35,14.86 240,13.97 238.65,14.86 239.08,13.3 237.81,12.29 239.43,12.22" fill="#1aa7e0"/>
<text x="178.2" y="130.91" font-size="9.2" font-style="italic" stroke="#1a1a1a" textLength="13.4" lengthAdjust="spacingAndGlyphs">chr</text>
<text x="205.6" y="131.15" font-size="9.3" text-anchor="middle" stroke="#1a1a1a">16</text>
<text x="233.3" y="131.15" font-size="9.3" text-anchor="middle" stroke="#1a1a1a">6</text>
<text x="261.5" y="131.15" font-size="9.3" text-anchor="middle" stroke="#1a1a1a">13</text>
<text x="289.7" y="131.15" font-size="9.3" text-anchor="middle" stroke="#1a1a1a">4</text>
<text x="316.7" y="131.15" font-size="9.3" text-anchor="middle" stroke="#1a1a1a">10</text>
<line x1="198" y1="134.3" x2="326" y2="134.3" stroke="#555" stroke-width="0.6"/>
<text x="218.3" y="143.18" font-size="9.1" stroke="#1a1a1a" textLength="87.5" lengthAdjust="spacingAndGlyphs">RBS DNA identity</text>
<text x="1" y="162.07" font-size="16.3" stroke="#1a1a1a">B</text>
<text x="16" y="159.28" font-size="13.55" stroke="#1a1a1a">inter-chr identity:</text>
<polygon points="120.4,148.8 121.24,151.04 123.63,151.15 121.76,152.64 122.4,154.95 120.4,153.63 118.4,154.95 119.04,152.64 117.17,151.15 119.56,151.04" fill="#ec0c8c"/>
<text x="122.5" y="159.28" font-size="13.55" stroke="#1a1a1a" textLength="195.7" lengthAdjust="spacingAndGlyphs"><tspan font-style="italic">chr13 Evf1/2</tspan><tspan> RNA BS-8 (7 </tspan><tspan font-size="7.59" dy="-4.07">inter-chr</tspan><tspan dy="4.07">)</tspan></text>
<text x="110.5" y="170.33" font-size="4.8" stroke="#1a1a1a" textLength="17.5" lengthAdjust="spacingAndGlyphs" style="stroke-width:.08px">Scale</text>
<text x="108.5" y="176.53" font-size="4.8" stroke="#1a1a1a" textLength="19.5" lengthAdjust="spacingAndGlyphs" style="stroke-width:.08px">chr13:</text>
<text x="170" y="170.33" font-size="4.8" stroke="#1a1a1a" textLength="15.3" lengthAdjust="spacingAndGlyphs" style="stroke-width:.08px">2 Mb</text>
<line x1="186.3" y1="168.2" x2="259.5" y2="168.2" stroke="#8a8a8a" stroke-width="0.5"/>
<line x1="186.3" y1="166.4" x2="186.3" y2="170" stroke="#8a8a8a" stroke-width="0.5"/>
<line x1="259.5" y1="166.4" x2="259.5" y2="170" stroke="#8a8a8a" stroke-width="0.5"/>
<text x="262" y="170.33" font-size="4.8" stroke="#1a1a1a" textLength="16" lengthAdjust="spacingAndGlyphs" style="stroke-width:.08px">mm9</text>
<text x="157" y="176.53" font-size="4.8" stroke="#1a1a1a" textLength="37.5" lengthAdjust="spacingAndGlyphs" style="stroke-width:.08px">55,000,000</text>
<text x="3" y="197.05" font-size="13.2" stroke="#1a1a1a">HiC loops</text>
<text x="65.5" y="197.83" font-size="9.8" stroke="#1a1a1a">±20kb</text>
<text x="97.5" y="192.22" font-size="8.1" stroke="#1a1a1a">(intra RBS-7)</text>
<text x="198.8" y="184.68" font-size="6.6" text-anchor="middle" stroke="#1a1a1a">0.38Mb</text>
<line x1="189.5" y1="186.2" x2="209" y2="186.2" stroke="#1a1a1a" stroke-width="0.6"/>
<text x="190" y="198.23" font-size="6.2" text-anchor="middle" stroke="#1a1a1a">1</text>
<text x="200" y="198.23" font-size="6.2" text-anchor="middle" stroke="#1a1a1a">2</text>
<path d="M193.6 205.5 C192.2 199 193.4 188.2 199.5 187.8 C206.8 187.6 207.4 199 205.6 205.5" fill="none" stroke="#ec0c8c" stroke-width="0.8"/>
<path d="M194.8 205.5 C193.6 199 194.6 191.5 197.2 189.3" fill="none" stroke="#ec0c8c" stroke-width="0.7"/>
<text x="214.5" y="196.18" font-size="6.05" stroke="#1a1a1a">1.counts (32), qval (8E-06)</text>
<text x="214.5" y="203.18" font-size="6.05" stroke="#1a1a1a">2.counts (41), qval (7E-06)</text>
<text x="173.4" y="210.83" font-size="6.2" fill="#e8453c" stroke="#e8453c">Sncb</text>
<line x1="189.2" y1="206.5" x2="189.2" y2="210.8" stroke="#5a5ac8" stroke-width="0.6"/>
<text x="193.3" y="210.83" font-size="6.2" fill="#4caf1e" stroke="#4caf1e">Mxd3</text>
<line x1="210" y1="206.5" x2="210" y2="210.8" stroke="#5a5ac8" stroke-width="0.6"/>
<text x="72" y="210.32" font-size="8.1" stroke="#1a1a1a"><tspan font-style="italic">Evf2 reg.</tspan><tspan> genes</tspan></text>
<text x="3" y="221.75" font-size="13.2" stroke="#1a1a1a">ChIPseq:</text>
<text x="71" y="220.08" font-size="8" font-style="italic" stroke="#1a1a1a">Evf2 reg.</text>
<text x="105" y="216.84" font-size="6.5" stroke="#1a1a1a">Smc1</text>
<text x="105" y="224.04" font-size="6.5" stroke="#1a1a1a">Smc3</text>
<text x="3" y="234.14" font-size="12.6" stroke="#1a1a1a">ChIRPseq:</text>
<text x="76.7" y="234.24" font-size="10.1" font-style="italic" fill="#27aae1" stroke="#27aae1">Evf1/2 RNA</text>
<text x="74.5" y="240.28" font-size="4.1" stroke="#1a1a1a" textLength="46.5" lengthAdjust="spacingAndGlyphs">(GAPDH subtracted)</text>
<line x1="148.8" y1="211" x2="148.8" y2="217.6" stroke="#ee4040" stroke-width="0.9"/>
<line x1="302.5" y1="211" x2="302.5" y2="218" stroke="#ee4040" stroke-width="0.9"/>
<line x1="224.5" y1="218" x2="224.5" y2="225" stroke="#0a8a2a" stroke-width="0.9"/>
<line x1="206" y1="230" x2="206" y2="235.7" stroke="#7fe0f5" stroke-width="0.9"/>
<line x1="223.7" y1="226" x2="223.7" y2="235.7" stroke="#22c0e8" stroke-width="0.9"/>
<line x1="128.5" y1="235.8" x2="320.6" y2="235.8" stroke="#999" stroke-width="0.5"/>
<line x1="320.6" y1="227" x2="320.6" y2="397" stroke="#999" stroke-width="0.6"/>
<text x="322.3" y="229.65" font-size="5.7" fill="#22b8e6" stroke="#22b8e6" style="stroke-width:0">12</text>
<text x="322.3" y="237.05" font-size="5.7" fill="#22b8e6" stroke="#22b8e6" style="stroke-width:0">0</text>
<text x="191.5" y="241.28" font-size="6.6" stroke="#1a1a1a">RBS-7</text>
<text x="221" y="241.28" font-size="6.6" stroke="#1a1a1a">RBS-8</text>
<line x1="2" y1="243.8" x2="335.5" y2="243.8" stroke="#222" stroke-width="0.8" stroke-dasharray="1 1.2"/>
<text x="46" y="258.64" font-size="10.1" stroke="#1a1a1a"><tspan font-style="italic">Evf1/2</tspan><tspan> RBS-7</tspan></text>
<text x="111" y="255.31" font-size="4.2" stroke="#1a1a1a" textLength="17" lengthAdjust="spacingAndGlyphs" style="stroke-width:.08px">Scale</text>
<text x="109" y="259.71" font-size="4.2" stroke="#1a1a1a" textLength="19" lengthAdjust="spacingAndGlyphs" style="stroke-width:.08px">chr13:</text>
<text x="17" y="270.67" font-size="10.2" stroke="#1a1a1a"><tspan font-style="italic" fill="#27aae1" stroke="#27aae1">Evf1/2 RNA-RBS-7</tspan></text>
<text x="107" y="268.94" font-size="5.4" stroke="#1a1a1a" textLength="21" lengthAdjust="spacingAndGlyphs"><tspan>-log</tspan><tspan font-size="3.78" dy="1.08">10</tspan><tspan dy="-1.08">[p]</tspan></text>
<text x="189.5" y="252.33" font-size="4.8" stroke="#1a1a1a" textLength="7" lengthAdjust="spacingAndGlyphs" style="stroke-width:.08px">1kb</text>
<line x1="199.5" y1="250.5" x2="237.7" y2="250.5" stroke="#1a1a1a" stroke-width="0.5"/>
<line x1="199.5" y1="248.5" x2="199.5" y2="252.5" stroke="#1a1a1a" stroke-width="0.5"/>
<line x1="237.7" y1="248.5" x2="237.7" y2="252.5" stroke="#1a1a1a" stroke-width="0.5"/>
<text x="240" y="252.33" font-size="4.8" stroke="#1a1a1a" textLength="11.5" lengthAdjust="spacingAndGlyphs" style="stroke-width:.08px">mm9</text>
<text x="189.5" y="259.4" font-size="5" stroke="#1a1a1a" textLength="29.2" lengthAdjust="spacingAndGlyphs" style="stroke-width:.08px">55,306,000|</text>
<path d="M197.7 273.8 L197.69 273.8 L198.25 273.8 L198.25 271.94 L198.79 271.94 L198.79 269.98 L199.34 269.98 L199.34 268.29 L199.89 268.29 L199.89 267.94 L200.43 267.94 L200.43 267.58 L200.98 267.58 L200.98 267.71 L201.53 267.71 L201.53 268.7 L202.08 268.7 L202.08 268.55 L202.62 268.55 L202.62 268.89 L203.17 268.89 L203.17 269.65 L203.72 269.65 L203.72 268.93 L204.26 268.93 L204.26 268.9 L204.81 268.9 L204.81 268.25 L205.36 268.25 L205.36 268.53 L205.9 268.53 L205.9 268.28 L206.45 268.28 L206.45 268.86 L207 268.86 L207 268.89 L207.54 268.89 L207.54 268.26 L208.09 268.26 L208.09 268.13 L208.64 268.13 L208.64 267.8 L209.19 267.8 L209.19 267.01 L209.73 267.01 L209.73 267.56 L210.28 267.56 L210.28 267.28 L210.83 267.28 L210.83 267.32 L211.37 267.32 L211.37 267.41 L211.92 267.41 L211.92 268.54 L212.47 268.54 L212.47 267.78 L213.01 267.78 L213.01 267.53 L213.56 267.53 L213.56 267.22 L214.11 267.22 L214.11 266.74 L214.66 266.74 L214.66 266.82 L215.2 266.82 L215.2 266.01 L215.75 266.01 L215.75 266.25 L216.3 266.25 L216.3 265.27 L216.84 265.27 L216.84 265.47 L217.39 265.47 L217.39 264.91 L217.94 264.91 L217.94 263.17 L218.48 263.17 L218.48 262.69 L219.03 262.69 L219.03 262.3 L219.58 262.3 L219.58 264.04 L220.12 264.04 L220.12 263.82 L220.67 263.82 L220.67 264.79 L221.22 264.79 L221.22 264.73 L221.77 264.73 L221.77 265.19 L222.31 265.19 L222.31 265.19 L222.86 265.19 L222.86 265.97 L223.41 265.97 L223.41 268.77 L223.95 268.77 L223.95 271.29 L224.5 271.29 L224.5 273.8 L224.5 273.8Z" fill="#00f0f0"/>
<text x="322.3" y="264.55" font-size="5.7" fill="#22b8e6" stroke="#22b8e6" style="stroke-width:0">10</text>
<text x="322.3" y="273.05" font-size="5.7" fill="#22b8e6" stroke="#22b8e6" style="stroke-width:0">2</text>
<line x1="2" y1="278.2" x2="335.5" y2="278.2" stroke="#222" stroke-width="0.8" stroke-dasharray="1 1.2"/>
<text x="46" y="292.34" font-size="10.1" stroke="#1a1a1a"><tspan font-style="italic">Evf1/2</tspan><tspan> RBS-8</tspan></text>
<text x="111" y="288.91" font-size="4.2" stroke="#1a1a1a" textLength="17" lengthAdjust="spacingAndGlyphs" style="stroke-width:.08px">Scale</text>
<text x="109" y="293.31" font-size="4.2" stroke="#1a1a1a" textLength="19" lengthAdjust="spacingAndGlyphs" style="stroke-width:.08px">chr13:</text>
<text x="189.5" y="284.93" font-size="4.8" stroke="#1a1a1a" textLength="7.5" lengthAdjust="spacingAndGlyphs" style="stroke-width:.08px">2kb</text>
<line x1="199.5" y1="283.2" x2="260.7" y2="283.2" stroke="#1a1a1a" stroke-width="0.5"/>
<line x1="199.5" y1="281.2" x2="199.5" y2="285.2" stroke="#1a1a1a" stroke-width="0.5"/>
<line x1="260.7" y1="281.2" x2="260.7" y2="285.2" stroke="#1a1a1a" stroke-width="0.5"/>
<text x="265" y="284.93" font-size="4.8" stroke="#1a1a1a" textLength="11" lengthAdjust="spacingAndGlyphs" style="stroke-width:.08px">mm9</text>
<text x="194" y="291.8" font-size="5" stroke="#1a1a1a" textLength="29.7" lengthAdjust="spacingAndGlyphs" style="stroke-width:.08px">55,795,000|</text>
<text x="145.7" y="297.47" font-size="5.2" fill="#4848b0" stroke="#4848b0" textLength="56.3" lengthAdjust="spacingAndGlyphs" style="stroke-width:.08px">B230219D22Rik</text>
<rect x="204.5" y="293.8" width="7.5" height="3.7" fill="#3a3aa8"/>
<line x1="212" y1="295.6" x2="316.5" y2="295.6" stroke="#b8b8e8" stroke-width="0.5"/>
<path d="M217 294.4l1.4 1.2l-1.4 1.2M222.3 294.4l1.4 1.2l-1.4 1.2M227.6 294.4l1.4 1.2l-1.4 1.2M232.9 294.4l1.4 1.2l-1.4 1.2M238.2 294.4l1.4 1.2l-1.4 1.2M243.5 294.4l1.4 1.2l-1.4 1.2M248.8 294.4l1.4 1.2l-1.4 1.2M254.1 294.4l1.4 1.2l-1.4 1.2M259.4 294.4l1.4 1.2l-1.4 1.2M264.7 294.4l1.4 1.2l-1.4 1.2M270 294.4l1.4 1.2l-1.4 1.2M275.3 294.4l1.4 1.2l-1.4 1.2M280.6 294.4l1.4 1.2l-1.4 1.2M285.9 294.4l1.4 1.2l-1.4 1.2M291.2 294.4l1.4 1.2l-1.4 1.2M296.5 294.4l1.4 1.2l-1.4 1.2M301.8 294.4l1.4 1.2l-1.4 1.2M307.1 294.4l1.4 1.2l-1.4 1.2M312.4 294.4l1.4 1.2l-1.4 1.2" fill="none" stroke="#a0a0e0" stroke-width="0.45"/>
<text x="17" y="307.37" font-size="10.2" stroke="#1a1a1a"><tspan font-style="italic" fill="#27aae1" stroke="#27aae1">Evf1/2 RNA-RBS-8</tspan></text>
<text x="107" y="305.64" font-size="5.4" stroke="#1a1a1a" textLength="21" lengthAdjust="spacingAndGlyphs"><tspan>-log</tspan><tspan font-size="3.78" dy="1.08">10</tspan><tspan dy="-1.08">[p]</tspan></text>
<line x1="128.7" y1="311.3" x2="315" y2="311.3" stroke="#ff7fe0" stroke-width="0.7"/>
<path d="M284.5 311 L284.49 311 L285.05 311 L285.05 310.57 L285.59 310.57 L285.59 310.11 L286.14 310.11 L286.14 309.65 L286.68 309.65 L286.68 309.82 L287.23 309.82 L287.23 309.67 L287.77 309.67 L287.77 310.42 L288.32 310.42 L288.32 310.05 L288.86 310.05 L288.86 309.65 L289.41 309.65 L289.41 309.89 L289.95 309.89 L289.95 309.68 L290.5 309.68 L290.5 310.34 L291.05 310.34 L291.05 310.05 L291.59 310.05 L291.59 310.23 L292.14 310.23 L292.14 309.98 L292.68 309.98 L292.68 309.96 L293.23 309.96 L293.23 310.43 L293.77 310.43 L293.77 310.26 L294.32 310.26 L294.32 310.21 L294.86 310.21 L294.86 309.67 L295.41 309.67 L295.41 310.12 L295.95 310.12 L295.95 310.75 L296.5 310.75 L296.5 311 L296.5 311Z" fill="#00f0f0"/>
<path d="M295.8 311 L295.79 311 L296.34 311 L296.34 302.71 L296.88 302.71 L296.88 302.81 L297.42 302.81 L297.42 303.34 L297.95 303.34 L297.95 303.95 L298.49 303.95 L298.49 302.39 L299.03 302.39 L299.03 302.84 L299.57 302.84 L299.57 302.16 L300.11 302.16 L300.11 303.07 L300.65 303.07 L300.65 302.14 L301.18 302.14 L301.18 303.31 L301.72 303.31 L301.72 302.07 L302.26 302.07 L302.26 302.91 L302.8 302.91 L302.8 311 L302.8 311Z" fill="#00f0f0"/>
<rect x="294.5" y="313.8" width="9.2" height="1.8" fill="#111"/>
<text x="322.3" y="302.85" font-size="5.7" fill="#22b8e6" stroke="#22b8e6" style="stroke-width:0">20</text>
<text x="322.3" y="310.05" font-size="5.7" fill="#22b8e6" stroke="#22b8e6" style="stroke-width:0">3</text>
<text x="5" y="319.67" font-size="10.2" stroke="#1a1a1a">Motif TFs: Zfp281, Zfp740</text>
<text x="86.6" y="336.97" font-size="13.8" text-anchor="end" fill="#1fa03c" stroke="#1fa03c">Dlx</text>
<text x="88" y="329.9" font-size="8.5" stroke="#1a1a1a"><tspan font-style="italic">Evf2</tspan><tspan font-style="italic" font-size="4.93" dy="-2.55">+/+</tspan></text>
<text x="88" y="342.4" font-size="8.5" stroke="#1a1a1a"><tspan font-style="italic">Evf2</tspan><tspan font-style="italic" font-size="4.93" dy="-2.55">TS/TS</tspan></text>
<path d="M207.7 334.5 L207.69 334.5 L208.23 334.5 L208.23 331.65 L208.77 331.65 L208.77 330.7 L209.3 330.7 L209.3 327.53 L209.83 327.53 L209.83 327.29 L210.37 327.29 L210.37 325.95 L210.9 325.95 L210.9 325 L211.43 325 L211.43 325 L211.97 325 L211.97 325.02 L212.5 325.02 L212.5 326.25 L213.03 326.25 L213.03 325.92 L213.57 325.92 L213.57 327.35 L214.1 327.35 L214.1 329.48 L214.63 329.48 L214.63 331.88 L215.17 331.88 L215.17 332.16 L215.7 332.16 L215.7 334.5 L215.7 334.5Z" fill="#0b7a0b"/>
<rect x="164" y="343.4" width="3.5" height="0.7" fill="#0b7a0b"/>
<text x="322.3" y="330.05" font-size="5.7" fill="#1f9a3a" stroke="#1f9a3a" style="stroke-width:0">22</text>
<text x="322.3" y="335.85" font-size="5.7" fill="#1f9a3a" stroke="#1f9a3a" style="stroke-width:0">1.3</text>
<text x="322.3" y="341.65" font-size="5.7" fill="#1f9a3a" stroke="#1f9a3a" style="stroke-width:0">22</text>
<text x="322.3" y="347.55" font-size="5.7" fill="#1f9a3a" stroke="#1f9a3a" style="stroke-width:0">1.3</text>
<text x="86.6" y="360.77" font-size="13.8" text-anchor="end" fill="#2b6cb4" stroke="#2b6cb4">Smarca4</text>
<text x="88" y="353.9" font-size="8.5" stroke="#1a1a1a"><tspan font-style="italic">Evf2</tspan><tspan font-style="italic" font-size="4.93" dy="-2.55">+/+</tspan></text>
<text x="88" y="366.9" font-size="8.5" stroke="#1a1a1a"><tspan font-style="italic">Evf2</tspan><tspan font-style="italic" font-size="4.93" dy="-2.55">TS/TS</tspan></text>
<path d="M193 358 L192.99 358 L193.56 358 L193.56 357.37 L194.11 357.37 L194.11 355.98 L194.67 355.98 L194.67 355.96 L195.22 355.96 L195.22 354.45 L195.78 354.45 L195.78 353.94 L196.33 353.94 L196.33 355.51 L196.89 355.51 L196.89 352.61 L197.44 352.61 L197.44 353.29 L198 353.29 L198 352.12 L198.56 352.12 L198.56 351.58 L199.11 351.58 L199.11 351.25 L199.67 351.25 L199.67 349.67 L200.22 349.67 L200.22 352.21 L200.78 352.21 L200.78 348.33 L201.33 348.33 L201.33 348.49 L201.89 348.49 L201.89 348.01 L202.44 348.01 L202.44 348.6 L203 348.6 L203 349.19 L203.56 349.19 L203.56 352.24 L204.11 352.24 L204.11 349.06 L204.67 349.06 L204.67 348.15 L205.22 348.15 L205.22 348 L205.78 348 L205.78 352.93 L206.33 352.93 L206.33 348.06 L206.89 348.06 L206.89 350.33 L207.44 350.33 L207.44 349.05 L208 349.05 L208 350.95 L208.56 350.95 L208.56 350.12 L209.11 350.12 L209.11 352.38 L209.67 352.38 L209.67 352.26 L210.22 352.26 L210.22 353.55 L210.78 353.55 L210.78 355.14 L211.33 355.14 L211.33 354.88 L211.89 354.88 L211.89 355.21 L212.44 355.21 L212.44 356.37 L213 356.37 L213 358 L213 358Z" fill="#0000ee"/>
<rect x="193" y="357.4" width="20" height="0.8" fill="#111"/>
<rect x="287.5" y="357.2" width="5.5" height="0.7" fill="#5a5ae0"/>
<text x="322.3" y="353.85" font-size="5.7" fill="#3a5fc8" stroke="#3a5fc8" style="stroke-width:0">45</text>
<text x="322.3" y="360.05" font-size="5.7" fill="#3a5fc8" stroke="#3a5fc8" style="stroke-width:0">1.3</text>
<text x="322.3" y="366.05" font-size="5.7" fill="#3a5fc8" stroke="#3a5fc8" style="stroke-width:0">45</text>
<text x="322.3" y="372.05" font-size="5.7" fill="#3a5fc8" stroke="#3a5fc8" style="stroke-width:0">1.3</text>
<text x="86.6" y="386.97" font-size="13.8" text-anchor="end" fill="#1fa03c" stroke="#1fa03c">H3K4me3</text>
<text x="88" y="380.4" font-size="8.5" stroke="#1a1a1a"><tspan font-style="italic">Evf2</tspan><tspan font-style="italic" font-size="4.93" dy="-2.55">+/+</tspan></text>
<text x="88" y="392.9" font-size="8.5" stroke="#1a1a1a"><tspan font-style="italic">Evf2</tspan><tspan font-style="italic" font-size="4.93" dy="-2.55">TS/TS</tspan></text>
<path d="M176 383.8 L175.99 383.8 L176.55 383.8 L176.55 383.53 L177.1 383.53 L177.1 383.39 L177.64 383.39 L177.64 382.62 L178.19 382.62 L178.19 383.11 L178.74 383.11 L178.74 382.31 L179.29 382.31 L179.29 381.4 L179.83 381.4 L179.83 382.46 L180.38 382.46 L180.38 381.3 L180.93 381.3 L180.93 381.11 L181.48 381.11 L181.48 382.31 L182.02 382.31 L182.02 381.6 L182.57 381.6 L182.57 380.92 L183.12 380.92 L183.12 381.45 L183.67 381.45 L183.67 380.88 L184.21 380.88 L184.21 382.07 L184.76 382.07 L184.76 381.9 L185.31 381.9 L185.31 382.17 L185.86 382.17 L185.86 381.34 L186.4 381.34 L186.4 380.46 L186.95 380.46 L186.95 381.16 L187.5 381.16 L187.5 380.77 L188.05 380.77 L188.05 381.59 L188.6 381.59 L188.6 380.83 L189.14 380.83 L189.14 382.19 L189.69 382.19 L189.69 381.79 L190.24 381.79 L190.24 380.98 L190.79 380.98 L190.79 380.88 L191.33 380.88 L191.33 381.51 L191.88 381.51 L191.88 382.22 L192.43 382.22 L192.43 381.84 L192.98 381.84 L192.98 381.96 L193.52 381.96 L193.52 381.81 L194.07 381.81 L194.07 380.7 L194.62 380.7 L194.62 381.98 L195.17 381.98 L195.17 380.54 L195.71 380.54 L195.71 380.55 L196.26 380.55 L196.26 382.28 L196.81 382.28 L196.81 381.6 L197.36 381.6 L197.36 381.37 L197.9 381.37 L197.9 382.53 L198.45 382.53 L198.45 382.8 L199 382.8 L199 383.8 L199 383.8Z" fill="#5c9e1c"/>
<path d="M221 383.8 L220.99 383.8 L221.55 383.8 L221.55 383.12 L222.09 383.12 L222.09 382.73 L222.64 382.73 L222.64 382 L223.19 382 L223.19 382.29 L223.73 382.29 L223.73 382.01 L224.28 382.01 L224.28 381.36 L224.83 381.36 L224.83 380.21 L225.37 380.21 L225.37 380.41 L225.92 380.41 L225.92 379.66 L226.47 379.66 L226.47 379.16 L227.01 379.16 L227.01 380.95 L227.56 380.95 L227.56 380.94 L228.11 380.94 L228.11 377.76 L228.65 377.76 L228.65 379.9 L229.2 379.9 L229.2 378.52 L229.75 378.52 L229.75 377.41 L230.29 377.41 L230.29 376.79 L230.84 376.79 L230.84 378.04 L231.39 378.04 L231.39 376.76 L231.93 376.76 L231.93 377.59 L232.48 377.59 L232.48 377.27 L233.03 377.27 L233.03 375.17 L233.57 375.17 L233.57 377.88 L234.12 377.88 L234.12 379.28 L234.67 379.28 L234.67 379.19 L235.21 379.19 L235.21 377.01 L235.76 377.01 L235.76 375.03 L236.31 375.03 L236.31 375 L236.85 375 L236.85 375.18 L237.4 375.18 L237.4 378.99 L237.95 378.99 L237.95 375 L238.49 375 L238.49 375.88 L239.04 375.88 L239.04 378.71 L239.59 378.71 L239.59 375.69 L240.13 375.69 L240.13 376.69 L240.68 376.69 L240.68 376.17 L241.23 376.17 L241.23 375.06 L241.77 375.06 L241.77 376.86 L242.32 376.86 L242.32 378.35 L242.87 378.35 L242.87 375.23 L243.41 375.23 L243.41 375.4 L243.96 375.4 L243.96 376.07 L244.51 376.07 L244.51 375.02 L245.05 375.02 L245.05 376.44 L245.6 376.44 L245.6 378.19 L246.15 378.19 L246.15 377.3 L246.69 377.3 L246.69 376.86 L247.24 376.86 L247.24 378.76 L247.79 378.76 L247.79 375.99 L248.33 375.99 L248.33 377.61 L248.88 377.61 L248.88 377.07 L249.43 377.07 L249.43 378.15 L249.97 378.15 L249.97 376.9 L250.52 376.9 L250.52 379.3 L251.07 379.3 L251.07 377.39 L251.61 377.39 L251.61 377.75 L252.16 377.75 L252.16 379.95 L252.71 379.95 L252.71 380.72 L253.25 380.72 L253.25 379.08 L253.8 379.08 L253.8 379.27 L254.35 379.27 L254.35 379.18 L254.89 379.18 L254.89 379.49 L255.44 379.49 L255.44 380.48 L255.99 380.48 L255.99 379.91 L256.53 379.91 L256.53 380.14 L257.08 380.14 L257.08 380.86 L257.63 380.86 L257.63 380.77 L258.17 380.77 L258.17 381.7 L258.72 381.7 L258.72 382.23 L259.27 382.23 L259.27 382.37 L259.81 382.37 L259.81 382.29 L260.36 382.29 L260.36 382.51 L260.91 382.51 L260.91 382.91 L261.45 382.91 L261.45 383.21 L262 383.21 L262 383.8 L262 383.8Z" fill="#5c9e1c"/>
<path d="M255 383.8 L254.99 383.8 L255.55 383.8 L255.55 383.69 L256.1 383.69 L256.1 383.51 L256.65 383.51 L256.65 383.49 L257.21 383.49 L257.21 383.37 L257.76 383.37 L257.76 383.22 L258.31 383.22 L258.31 383.33 L258.86 383.33 L258.86 383.04 L259.41 383.04 L259.41 382.84 L259.96 382.84 L259.96 382.59 L260.51 382.59 L260.51 383.12 L261.06 383.12 L261.06 382.93 L261.62 382.93 L261.62 383.12 L262.17 383.12 L262.17 382.47 L262.72 382.47 L262.72 382.58 L263.27 382.58 L263.27 383.16 L263.82 383.16 L263.82 382.32 L264.37 382.32 L264.37 382.33 L264.92 382.33 L264.92 382.61 L265.47 382.61 L265.47 382.65 L266.03 382.65 L266.03 383.06 L266.58 383.06 L266.58 383.19 L267.13 383.19 L267.13 382.72 L267.68 382.72 L267.68 383.15 L268.23 383.15 L268.23 383.03 L268.78 383.03 L268.78 382.98 L269.33 382.98 L269.33 383.17 L269.88 383.17 L269.88 382.78 L270.44 382.78 L270.44 382.8 L270.99 382.8 L270.99 382.44 L271.54 382.44 L271.54 382.73 L272.09 382.73 L272.09 382.62 L272.64 382.62 L272.64 382.75 L273.19 382.75 L273.19 382.6 L273.74 382.6 L273.74 382.79 L274.29 382.79 L274.29 382.95 L274.85 382.95 L274.85 382.3 L275.4 382.3 L275.4 382.3 L275.95 382.3 L275.95 382.44 L276.5 382.44 L276.5 382.56 L277.05 382.56 L277.05 382.92 L277.6 382.92 L277.6 382.99 L278.15 382.99 L278.15 382.94 L278.71 382.94 L278.71 383.14 L279.26 383.14 L279.26 382.51 L279.81 382.51 L279.81 382.84 L280.36 382.84 L280.36 382.44 L280.91 382.44 L280.91 382.85 L281.46 382.85 L281.46 382.34 L282.01 382.34 L282.01 382.44 L282.56 382.44 L282.56 383.2 L283.12 383.2 L283.12 383.01 L283.67 383.01 L283.67 382.38 L284.22 382.38 L284.22 382.78 L284.77 382.78 L284.77 382.32 L285.32 382.32 L285.32 382.84 L285.87 382.84 L285.87 383.13 L286.42 383.13 L286.42 382.63 L286.97 382.63 L286.97 382.5 L287.53 382.5 L287.53 382.96 L288.08 382.96 L288.08 383.12 L288.63 383.12 L288.63 382.9 L289.18 382.9 L289.18 382.33 L289.73 382.33 L289.73 382.52 L290.28 382.52 L290.28 383.09 L290.83 383.09 L290.83 382.98 L291.38 382.98 L291.38 383.11 L291.94 383.11 L291.94 383.15 L292.49 383.15 L292.49 382.48 L293.04 382.48 L293.04 383.1 L293.59 383.1 L293.59 382.89 L294.14 382.89 L294.14 383.08 L294.69 383.08 L294.69 383.33 L295.24 383.33 L295.24 383.15 L295.79 383.15 L295.79 383.51 L296.35 383.51 L296.35 383.44 L296.9 383.44 L296.9 383.66 L297.45 383.66 L297.45 383.7 L298 383.7 L298 383.8 L298 383.8Z" fill="#5c9e1c"/>
<rect x="128.5" y="383.5" width="192" height="0.5" fill="#d8ecc0"/>
<path d="M176 396.2 L175.99 396.2 L176.55 396.2 L176.55 395.86 L177.1 395.86 L177.1 395.61 L177.64 395.61 L177.64 395.11 L178.19 395.11 L178.19 394.8 L178.74 394.8 L178.74 394.7 L179.29 394.7 L179.29 394.39 L179.83 394.39 L179.83 394.79 L180.38 394.79 L180.38 394.44 L180.93 394.44 L180.93 394.12 L181.48 394.12 L181.48 393.86 L182.02 393.86 L182.02 393.87 L182.57 393.87 L182.57 392.91 L183.12 392.91 L183.12 393.09 L183.67 393.09 L183.67 392.49 L184.21 392.49 L184.21 393.89 L184.76 393.89 L184.76 391.98 L185.31 391.98 L185.31 393.36 L185.86 393.36 L185.86 391.57 L186.4 391.57 L186.4 392.67 L186.95 392.67 L186.95 391.57 L187.5 391.57 L187.5 391.54 L188.05 391.54 L188.05 392.8 L188.6 392.8 L188.6 390.53 L189.14 390.53 L189.14 390.53 L189.69 390.53 L189.69 392.97 L190.24 392.97 L190.24 391.47 L190.79 391.47 L190.79 390.56 L191.33 390.56 L191.33 393.29 L191.88 393.29 L191.88 393.11 L192.43 393.11 L192.43 390.59 L192.98 390.59 L192.98 391.22 L193.52 391.22 L193.52 390.62 L194.07 390.62 L194.07 390.94 L194.62 390.94 L194.62 391.83 L195.17 391.83 L195.17 390.5 L195.71 390.5 L195.71 392.1 L196.26 392.1 L196.26 390.52 L196.81 390.52 L196.81 391.47 L197.36 391.47 L197.36 393.73 L197.9 393.73 L197.9 393.73 L198.45 393.73 L198.45 394.79 L199 394.79 L199 396.2 L199 396.2Z" fill="#5c9e1c"/>
<path d="M221 396.2 L220.99 396.2 L221.55 396.2 L221.55 395.87 L222.09 395.87 L222.09 395.62 L222.64 395.62 L222.64 395.52 L223.19 395.52 L223.19 394.85 L223.73 394.85 L223.73 394.61 L224.28 394.61 L224.28 394.32 L224.83 394.32 L224.83 394.12 L225.37 394.12 L225.37 394.51 L225.92 394.51 L225.92 393.58 L226.47 393.58 L226.47 393.83 L227.01 393.83 L227.01 393.2 L227.56 393.2 L227.56 393.08 L228.11 393.08 L228.11 393.09 L228.65 393.09 L228.65 393.83 L229.2 393.83 L229.2 393.09 L229.75 393.09 L229.75 391.98 L230.29 391.98 L230.29 392.05 L230.84 392.05 L230.84 391.66 L231.39 391.66 L231.39 393.3 L231.93 393.3 L231.93 392.95 L232.48 392.95 L232.48 392.84 L233.03 392.84 L233.03 392.92 L233.57 392.92 L233.57 392.62 L234.12 392.62 L234.12 393.39 L234.67 393.39 L234.67 392.8 L235.21 392.8 L235.21 391.3 L235.76 391.3 L235.76 393 L236.31 393 L236.31 391.82 L236.85 391.82 L236.85 392.66 L237.4 392.66 L237.4 392.04 L237.95 392.04 L237.95 391 L238.49 391 L238.49 391.52 L239.04 391.52 L239.04 391.67 L239.59 391.67 L239.59 391.41 L240.13 391.41 L240.13 391.08 L240.68 391.08 L240.68 392.89 L241.23 392.89 L241.23 392.81 L241.77 392.81 L241.77 393.54 L242.32 393.54 L242.32 392.44 L242.87 392.44 L242.87 392.01 L243.41 392.01 L243.41 392.64 L243.96 392.64 L243.96 391.11 L244.51 391.11 L244.51 392.39 L245.05 392.39 L245.05 391.71 L245.6 391.71 L245.6 391.16 L246.15 391.16 L246.15 391.24 L246.69 391.24 L246.69 392.07 L247.24 392.07 L247.24 391.6 L247.79 391.6 L247.79 392.15 L248.33 392.15 L248.33 392.64 L248.88 392.64 L248.88 392.27 L249.43 392.27 L249.43 391.99 L249.97 391.99 L249.97 392.72 L250.52 392.72 L250.52 392.41 L251.07 392.41 L251.07 392.56 L251.61 392.56 L251.61 392.65 L252.16 392.65 L252.16 393.03 L252.71 393.03 L252.71 392.86 L253.25 392.86 L253.25 393.8 L253.8 393.8 L253.8 394.57 L254.35 394.57 L254.35 393.64 L254.89 393.64 L254.89 394.28 L255.44 394.28 L255.44 394.79 L255.99 394.79 L255.99 393.83 L256.53 393.83 L256.53 394.05 L257.08 394.05 L257.08 394.89 L257.63 394.89 L257.63 395.05 L258.17 395.05 L258.17 394.95 L258.72 394.95 L258.72 394.78 L259.27 394.78 L259.27 395.09 L259.81 395.09 L259.81 395.56 L260.36 395.56 L260.36 395.71 L260.91 395.71 L260.91 395.81 L261.45 395.81 L261.45 395.86 L262 395.86 L262 396.2 L262 396.2Z" fill="#5c9e1c"/>
<path d="M255 396.2 L254.99 396.2 L255.55 396.2 L255.55 396.14 L256.1 396.14 L256.1 396.09 L256.65 396.09 L256.65 395.99 L257.2 395.99 L257.2 396.04 L257.75 396.04 L257.75 396 L258.3 396 L258.3 395.84 L258.85 395.84 L258.85 395.8 L259.4 395.8 L259.4 395.86 L259.95 395.86 L259.95 395.67 L260.5 395.67 L260.5 395.74 L261.05 395.74 L261.05 395.51 L261.59 395.51 L261.59 395.79 L262.14 395.79 L262.14 395.7 L262.69 395.7 L262.69 395.26 L263.24 395.26 L263.24 395.59 L263.79 395.59 L263.79 395.64 L264.34 395.64 L264.34 395.32 L264.89 395.32 L264.89 395.42 L265.44 395.42 L265.44 395.71 L265.99 395.71 L265.99 395.47 L266.54 395.47 L266.54 395.4 L267.09 395.4 L267.09 395.7 L267.64 395.7 L267.64 395.41 L268.19 395.41 L268.19 395.73 L268.74 395.73 L268.74 395.6 L269.29 395.6 L269.29 395.75 L269.84 395.75 L269.84 395.68 L270.39 395.68 L270.39 395.21 L270.94 395.21 L270.94 395.56 L271.49 395.56 L271.49 395.21 L272.04 395.21 L272.04 395.54 L272.59 395.54 L272.59 395.44 L273.14 395.44 L273.14 395.28 L273.68 395.28 L273.68 395.39 L274.23 395.39 L274.23 395.73 L274.78 395.73 L274.78 395.45 L275.33 395.45 L275.33 395.42 L275.88 395.42 L275.88 395.69 L276.43 395.69 L276.43 395.74 L276.98 395.74 L276.98 395.28 L277.53 395.28 L277.53 395.49 L278.08 395.49 L278.08 395.68 L278.63 395.68 L278.63 395.53 L279.18 395.53 L279.18 395.67 L279.73 395.67 L279.73 395.32 L280.28 395.32 L280.28 395.5 L280.83 395.5 L280.83 395.74 L281.38 395.74 L281.38 395.31 L281.93 395.31 L281.93 395.75 L282.48 395.75 L282.48 395.63 L283.03 395.63 L283.03 395.78 L283.58 395.78 L283.58 395.36 L284.13 395.36 L284.13 395.73 L284.68 395.73 L284.68 395.48 L285.23 395.48 L285.23 395.74 L285.77 395.74 L285.77 395.51 L286.32 395.51 L286.32 395.39 L286.87 395.39 L286.87 395.48 L287.42 395.48 L287.42 395.53 L287.97 395.53 L287.97 395.51 L288.52 395.51 L288.52 395.54 L289.07 395.54 L289.07 395.44 L289.62 395.44 L289.62 395.74 L290.17 395.74 L290.17 395.52 L290.72 395.52 L290.72 395.66 L291.27 395.66 L291.27 395.28 L291.82 395.28 L291.82 395.24 L292.37 395.24 L292.37 395.76 L292.92 395.76 L292.92 395.71 L293.47 395.71 L293.47 395.38 L294.02 395.38 L294.02 395.46 L294.57 395.46 L294.57 395.79 L295.12 395.79 L295.12 395.38 L295.67 395.38 L295.67 395.23 L296.22 395.23 L296.22 395.55 L296.77 395.55 L296.77 395.59 L297.32 395.59 L297.32 395.46 L297.86 395.46 L297.86 395.24 L298.41 395.24 L298.41 395.64 L298.96 395.64 L298.96 395.62 L299.51 395.62 L299.51 395.69 L300.06 395.69 L300.06 395.42 L300.61 395.42 L300.61 395.52 L301.16 395.52 L301.16 395.65 L301.71 395.65 L301.71 395.57 L302.26 395.57 L302.26 395.78 L302.81 395.78 L302.81 395.61 L303.36 395.61 L303.36 395.21 L303.91 395.21 L303.91 395.45 L304.46 395.45 L304.46 395.63 L305.01 395.63 L305.01 395.24 L305.56 395.24 L305.56 395.59 L306.11 395.59 L306.11 395.65 L306.66 395.65 L306.66 395.78 L307.21 395.78 L307.21 395.71 L307.76 395.71 L307.76 395.68 L308.31 395.68 L308.31 395.66 L308.86 395.66 L308.86 395.33 L309.41 395.33 L309.41 395.72 L309.95 395.72 L309.95 395.76 L310.5 395.76 L310.5 395.65 L311.05 395.65 L311.05 395.58 L311.6 395.58 L311.6 395.87 L312.15 395.87 L312.15 395.77 L312.7 395.77 L312.7 395.93 L313.25 395.93 L313.25 395.93 L313.8 395.93 L313.8 395.98 L314.35 395.98 L314.35 395.99 L314.9 395.99 L314.9 396.08 L315.45 396.08 L315.45 396.15 L316 396.15 L316 396.2 L316 396.2Z" fill="#5c9e1c"/>
<rect x="128.5" y="395.9" width="192" height="0.5" fill="#d8ecc0"/>
<text x="322.3" y="380.05" font-size="5.7" fill="#3fa02a" stroke="#3fa02a" style="stroke-width:0">3.5</text>
<text x="322.3" y="385.85" font-size="5.7" fill="#3fa02a" stroke="#3fa02a" style="stroke-width:0">0</text>
<text x="322.3" y="392.05" font-size="5.7" fill="#3fa02a" stroke="#3fa02a" style="stroke-width:0">3.5</text>
<text x="322.3" y="397.65" font-size="5.7" fill="#3fa02a" stroke="#3fa02a" style="stroke-width:0">0</text>
<text x="0" y="414.07" font-size="16.3" stroke="#1a1a1a">E</text>
<text x="41" y="416.78" font-size="11.9" stroke="#1a1a1a" textLength="294.7" lengthAdjust="spacingAndGlyphs"><tspan>inter-chr interaction (HiC): </tspan><tspan font-style="italic">chr4-Evf1/2</tspan><tspan> RNA BS-1</tspan></text>
<text x="56" y="432.83" font-size="11.2" stroke="#1a1a1a" textLength="60" lengthAdjust="spacingAndGlyphs">ChIRPseq:</text>
<text x="122" y="430.66" font-size="4.6" stroke="#1a1a1a" textLength="17" lengthAdjust="spacingAndGlyphs" style="stroke-width:.08px">Scale</text>
<text x="124.5" y="436.66" font-size="4.6" stroke="#1a1a1a" textLength="14.5" lengthAdjust="spacingAndGlyphs" style="stroke-width:.08px">chr4:</text>
<text x="119.5" y="443.28" font-size="5.5" stroke="#1a1a1a" textLength="19.5" lengthAdjust="spacingAndGlyphs"><tspan>-log</tspan><tspan font-size="3.85" dy="1.1">10</tspan><tspan dy="-1.1">[p]</tspan></text>
<text x="64.5" y="445.96" font-size="9.6" font-style="italic" fill="#27aae1" stroke="#27aae1" textLength="51.5" lengthAdjust="spacingAndGlyphs">Evf1/2 RNA</text>
<text x="194.5" y="430.93" font-size="4.8" stroke="#1a1a1a" textLength="13.7" lengthAdjust="spacingAndGlyphs" style="stroke-width:.08px">1 kb</text>
<line x1="209" y1="429" x2="270.7" y2="429" stroke="#999" stroke-width="0.5"/>
<line x1="209" y1="427.2" x2="209" y2="430.8" stroke="#555" stroke-width="0.5"/>
<line x1="270.7" y1="427.2" x2="270.7" y2="430.8" stroke="#555" stroke-width="0.5"/>
<text x="273" y="430.93" font-size="4.8" stroke="#1a1a1a" textLength="16.5" lengthAdjust="spacingAndGlyphs" style="stroke-width:.08px">mm9</text>
<text x="199" y="437.67" font-size="5.2" stroke="#1a1a1a" textLength="34" lengthAdjust="spacingAndGlyphs" style="stroke-width:.08px">3,013,000|</text>
<text x="262" y="437.67" font-size="5.2" stroke="#1a1a1a" textLength="33" lengthAdjust="spacingAndGlyphs" style="stroke-width:.08px">3,014,000|</text>
<line x1="331.3" y1="448" x2="331.3" y2="573" stroke="#999" stroke-width="0.6"/>
<line x1="141.2" y1="440" x2="141.2" y2="573" stroke="#fbe6e8" stroke-width="0.5"/>
<text x="333" y="442.55" font-size="5.7" fill="#22b8e6" stroke="#22b8e6" style="stroke-width:0">10</text>
<text x="333" y="447.65" font-size="5.7" fill="#22b8e6" stroke="#22b8e6" style="stroke-width:0">3</text>
<path d="M172 446 L171.99 446 L172.56 446 L172.56 445.41 L173.11 445.41 L173.11 444.92 L173.67 444.92 L173.67 444.33 L174.22 444.33 L174.22 443.62 L174.78 443.62 L174.78 444.06 L175.33 444.06 L175.33 443.79 L175.89 443.79 L175.89 442.78 L176.44 442.78 L176.44 442.4 L177 442.4 L177 441.49 L177.56 441.49 L177.56 441 L178.11 441 L178.11 441.51 L178.67 441.51 L178.67 442.06 L179.22 442.06 L179.22 441.03 L179.78 441.03 L179.78 441 L180.33 441 L180.33 441.24 L180.89 441.24 L180.89 441.24 L181.44 441.24 L181.44 441.02 L182 441.02 L182 443.49 L182.56 443.49 L182.56 442.67 L183.11 442.67 L183.11 443.42 L183.67 443.42 L183.67 443.06 L184.22 443.06 L184.22 442.71 L184.78 442.71 L184.78 443.47 L185.33 443.47 L185.33 444.17 L185.89 444.17 L185.89 444.44 L186.44 444.44 L186.44 445.51 L187 445.51 L187 446 L187 446Z" fill="#00f0f0"/>
<path d="M184 446 L183.99 446 L184.55 446 L184.55 445.67 L185.1 445.67 L185.1 445.44 L185.65 445.44 L185.65 443.96 L186.2 443.96 L186.2 444.61 L186.75 444.61 L186.75 444.39 L187.3 444.39 L187.3 443.31 L187.85 443.31 L187.85 443.93 L188.4 443.93 L188.4 442.83 L188.95 442.83 L188.95 444.17 L189.5 444.17 L189.5 442.68 L190.05 442.68 L190.05 443.99 L190.6 443.99 L190.6 443.41 L191.15 443.41 L191.15 442.74 L191.7 442.74 L191.7 443.24 L192.25 443.24 L192.25 442.76 L192.8 442.76 L192.8 443.2 L193.35 443.2 L193.35 444.54 L193.9 444.54 L193.9 442.84 L194.45 442.84 L194.45 443.44 L195 443.44 L195 444.01 L195.55 444.01 L195.55 444.25 L196.1 444.25 L196.1 442.91 L196.65 442.91 L196.65 443.45 L197.2 443.45 L197.2 442.73 L197.75 442.73 L197.75 443.06 L198.3 443.06 L198.3 442.68 L198.85 442.68 L198.85 443.48 L199.4 443.48 L199.4 443.22 L199.95 443.22 L199.95 443.39 L200.5 443.39 L200.5 444.11 L201.05 444.11 L201.05 442.69 L201.6 442.69 L201.6 444 L202.15 444 L202.15 443.05 L202.7 443.05 L202.7 442.69 L203.25 442.69 L203.25 443.31 L203.8 443.31 L203.8 444.68 L204.35 444.68 L204.35 444.17 L204.9 444.17 L204.9 444.91 L205.45 444.91 L205.45 445.65 L206 445.65 L206 446 L206 446Z" fill="#00f0f0"/>
<text x="99" y="460.77" font-size="13.8" text-anchor="end" fill="#ee3338" stroke="#ee3338">Sox2</text>
<text x="100.6" y="454.9" font-size="8.5" stroke="#1a1a1a"><tspan font-style="italic">Evf2</tspan><tspan font-style="italic" font-size="4.93" dy="-2.55">+/+</tspan></text>
<text x="100.6" y="467.1" font-size="8.5" stroke="#1a1a1a"><tspan font-style="italic">Evf2</tspan><tspan font-style="italic" font-size="4.93" dy="-2.55">TS/TS</tspan></text>
<path d="M272 457.6 L271.99 457.6 L272.55 457.6 L272.55 456.45 L273.1 456.45 L273.1 455.27 L273.65 455.27 L273.65 453.5 L274.2 453.5 L274.2 452.77 L274.75 452.77 L274.75 452.17 L275.3 452.17 L275.3 451.87 L275.85 451.87 L275.85 450.96 L276.4 450.96 L276.4 450.62 L276.95 450.62 L276.95 450.63 L277.5 450.63 L277.5 449.99 L278.05 449.99 L278.05 450.01 L278.6 450.01 L278.6 449.13 L279.15 449.13 L279.15 449.11 L279.7 449.11 L279.7 449.98 L280.25 449.98 L280.25 449.42 L280.8 449.42 L280.8 449.72 L281.35 449.72 L281.35 450.36 L281.9 450.36 L281.9 450.12 L282.45 450.12 L282.45 450.03 L283 450.03 L283 451.02 L283.55 451.02 L283.55 450.65 L284.1 450.65 L284.1 450.65 L284.65 450.65 L284.65 450.49 L285.2 450.49 L285.2 451.34 L285.75 451.34 L285.75 450.94 L286.3 450.94 L286.3 451.85 L286.85 451.85 L286.85 451.81 L287.4 451.81 L287.4 452.35 L287.95 452.35 L287.95 452.75 L288.5 452.75 L288.5 452.73 L289.05 452.73 L289.05 452.83 L289.6 452.83 L289.6 453.38 L290.15 453.38 L290.15 453.79 L290.7 453.79 L290.7 453.89 L291.25 453.89 L291.25 453.63 L291.8 453.63 L291.8 453.07 L292.35 453.07 L292.35 451.86 L292.9 451.86 L292.9 451.07 L293.45 451.07 L293.45 450.95 L294 450.95 L294 451.68 L294.55 451.68 L294.55 451.01 L295.1 451.01 L295.1 451.03 L295.65 451.03 L295.65 451.67 L296.2 451.67 L296.2 452.53 L296.75 452.53 L296.75 453.62 L297.3 453.62 L297.3 454.68 L297.85 454.68 L297.85 455.53 L298.4 455.53 L298.4 456.08 L298.95 456.08 L298.95 456.84 L299.5 456.84 L299.5 457.6 L299.5 457.6Z" fill="#ff0000"/>
<rect x="273" y="457.3" width="15" height="0.6" fill="#222"/>
<rect x="308" y="468.4" width="4" height="0.7" fill="#ff5050"/>
<text x="333" y="453.25" font-size="5.7" fill="#ee4a4a" stroke="#ee4a4a" style="stroke-width:0">32</text>
<text x="333" y="459.05" font-size="5.7" fill="#ee4a4a" stroke="#ee4a4a" style="stroke-width:0">1.3</text>
<text x="333" y="465.25" font-size="5.7" fill="#ee4a4a" stroke="#ee4a4a" style="stroke-width:0">32</text>
<text x="333" y="471.05" font-size="5.7" fill="#ee4a4a" stroke="#ee4a4a" style="stroke-width:0">1.3</text>
<text x="99" y="485.17" font-size="13.8" text-anchor="end" fill="#1fa03c" stroke="#1fa03c">Dlx</text>
<text x="100.6" y="478.5" font-size="8.5" stroke="#1a1a1a"><tspan font-style="italic">Evf2</tspan><tspan font-style="italic" font-size="4.93" dy="-2.55">+/+</tspan></text>
<text x="100.6" y="491.1" font-size="8.5" stroke="#1a1a1a"><tspan font-style="italic">Evf2</tspan><tspan font-style="italic" font-size="4.93" dy="-2.55">TS/TS</tspan></text>
<rect x="279.5" y="481.2" width="3.5" height="0.8" fill="#0b7a0b"/>
<path d="M294.5 482 L294.49 482 L295.02 482 L295.02 480.55 L295.55 480.55 L295.55 481.18 L296.07 481.18 L296.07 480.4 L296.6 480.4 L296.6 481.17 L297.12 481.17 L297.12 480.72 L297.65 480.72 L297.65 481.27 L298.18 481.27 L298.18 480.63 L298.7 480.63 L298.7 482 L298.7 482Z" fill="#0b7a0b"/>
<path d="M270.7 493.8 L270.69 493.8 L271.25 493.8 L271.25 493.22 L271.81 493.22 L271.81 492.62 L272.36 492.62 L272.36 491.76 L272.92 491.76 L272.92 491.73 L273.47 491.73 L273.47 491.41 L274.03 491.41 L274.03 490.85 L274.58 490.85 L274.58 491.2 L275.14 491.2 L275.14 490.53 L275.69 490.53 L275.69 490.34 L276.25 490.34 L276.25 490.12 L276.8 490.12 L276.8 489.21 L277.35 489.21 L277.35 487.58 L277.91 487.58 L277.91 487.28 L278.46 487.28 L278.46 487.93 L279.02 487.93 L279.02 488.33 L279.57 488.33 L279.57 489.47 L280.13 489.47 L280.13 489.6 L280.68 489.6 L280.68 489.6 L281.24 489.6 L281.24 488.72 L281.79 488.72 L281.79 488.8 L282.35 488.8 L282.35 489.24 L282.9 489.24 L282.9 489.22 L283.45 489.22 L283.45 490.32 L284.01 490.32 L284.01 490.52 L284.56 490.52 L284.56 490.69 L285.12 490.69 L285.12 491.52 L285.67 491.52 L285.67 491.78 L286.23 491.78 L286.23 491.91 L286.78 491.91 L286.78 492.13 L287.34 492.13 L287.34 492.51 L287.89 492.51 L287.89 492.87 L288.45 492.87 L288.45 493.38 L289 493.38 L289 493.8 L289 493.8Z" fill="#0b7a0b"/>
<path d="M313 493.8 L312.99 493.8 L313.55 493.8 L313.55 493.51 L314.11 493.51 L314.11 493.22 L314.66 493.22 L314.66 493 L315.22 493 L315.22 492.71 L315.77 492.71 L315.77 492.74 L316.33 492.74 L316.33 492.61 L316.88 492.61 L316.88 492.19 L317.44 492.19 L317.44 492.14 L317.99 492.14 L317.99 491.8 L318.55 491.8 L318.55 491.6 L319.1 491.6 L319.1 491.64 L319.65 491.64 L319.65 491.54 L320.21 491.54 L320.21 491.07 L320.76 491.07 L320.76 491.1 L321.32 491.1 L321.32 490.81 L321.87 490.81 L321.87 490.7 L322.43 490.7 L322.43 489.67 L322.98 489.67 L322.98 490.18 L323.54 490.18 L323.54 489.25 L324.09 489.25 L324.09 489.02 L324.65 489.02 L324.65 489.88 L325.2 489.88 L325.2 490.47 L325.75 490.47 L325.75 490.93 L326.31 490.93 L326.31 490.68 L326.86 490.68 L326.86 491.12 L327.42 491.12 L327.42 490.76 L327.97 490.76 L327.97 491.45 L328.53 491.45 L328.53 491.2 L329.08 491.2 L329.08 491.48 L329.64 491.48 L329.64 491.38 L330.19 491.38 L330.19 491.42 L330.75 491.42 L330.75 491.48 L331.3 491.48 L331.3 491.82 L331.3 493.8Z" fill="#0b7a0b"/>
<rect x="271" y="493.4" width="18" height="0.6" fill="#222"/>
<rect x="313" y="493.4" width="18" height="0.6" fill="#222"/>
<text x="333" y="477.65" font-size="5.7" fill="#1f9a3a" stroke="#1f9a3a" style="stroke-width:0">20</text>
<text x="333" y="483.35" font-size="5.7" fill="#1f9a3a" stroke="#1f9a3a" style="stroke-width:0">1.3</text>
<text x="333" y="489.55" font-size="5.7" fill="#1f9a3a" stroke="#1f9a3a" style="stroke-width:0">20</text>
<text x="333" y="495.25" font-size="5.7" fill="#1f9a3a" stroke="#1f9a3a" style="stroke-width:0">1.3</text>
<text x="99" y="510.17" font-size="13.8" text-anchor="end" fill="#2b6cb4" stroke="#2b6cb4">Smarca4</text>
<text x="100.6" y="503.7" font-size="8.5" stroke="#1a1a1a"><tspan font-style="italic">Evf2</tspan><tspan font-style="italic" font-size="4.93" dy="-2.55">+/+</tspan></text>
<text x="100.6" y="516.1" font-size="8.5" stroke="#1a1a1a"><tspan font-style="italic">Evf2</tspan><tspan font-style="italic" font-size="4.93" dy="-2.55">TS/TS</tspan></text>
<path d="M283 508 L282.99 508 L283.55 508 L283.55 507.52 L284.11 507.52 L284.11 507.09 L284.66 507.09 L284.66 506.38 L285.22 506.38 L285.22 505.77 L285.77 505.77 L285.77 505.65 L286.33 505.65 L286.33 504.84 L286.88 504.84 L286.88 504.45 L287.44 504.45 L287.44 504.56 L287.99 504.56 L287.99 503.76 L288.55 503.76 L288.55 504.15 L289.1 504.15 L289.1 503.25 L289.65 503.25 L289.65 502.25 L290.21 502.25 L290.21 502.78 L290.76 502.78 L290.76 501.84 L291.32 501.84 L291.32 500.59 L291.87 500.59 L291.87 501.27 L292.43 501.27 L292.43 500.81 L292.98 500.81 L292.98 500.51 L293.54 500.51 L293.54 500.12 L294.09 500.12 L294.09 500.59 L294.65 500.59 L294.65 499.06 L295.2 499.06 L295.2 501.01 L295.75 501.01 L295.75 500.68 L296.31 500.68 L296.31 501.02 L296.86 501.02 L296.86 502.53 L297.42 502.53 L297.42 503.24 L297.97 503.24 L297.97 504.51 L298.53 504.51 L298.53 505.48 L299.08 505.48 L299.08 506.33 L299.64 506.33 L299.64 507.01 L300.19 507.01 L300.19 507.38 L300.75 507.38 L300.75 507.68 L301.3 507.68 L301.3 508 L301.3 508Z" fill="#0000ee"/>
<rect x="284" y="507.6" width="16" height="0.6" fill="#222"/>
<path d="M325 508 L324.99 508 L325.57 508 L325.57 507.7 L326.15 507.7 L326.15 507.2 L326.72 507.2 L326.72 506.69 L327.29 506.69 L327.29 506.26 L327.86 506.26 L327.86 506 L328.44 506 L328.44 506 L329.01 506 L329.01 506.26 L329.58 506.26 L329.58 506.69 L330.15 506.69 L330.15 507.2 L330.73 507.2 L330.73 507.7 L331.3 507.7 L331.3 508 L331.3 508Z" fill="#0000ee"/>
<path d="M270.7 519.2 L270.69 519.2 L271.25 519.2 L271.25 518.16 L271.8 518.16 L271.8 517.97 L272.35 517.97 L272.35 516.78 L272.9 516.78 L272.9 516.6 L273.45 516.6 L273.45 516.84 L274 516.84 L274 516.92 L274.55 516.92 L274.55 517.85 L275.1 517.85 L275.1 516.63 L275.65 516.63 L275.65 517.16 L276.2 517.16 L276.2 517.21 L276.75 517.21 L276.75 517.56 L277.3 517.56 L277.3 518.44 L277.85 518.44 L277.85 518.1 L278.4 518.1 L278.4 518.53 L278.95 518.53 L278.95 518.76 L279.5 518.76 L279.5 519.2 L279.5 519.2Z" fill="#0000ee"/>
<text x="333" y="503.25" font-size="5.7" fill="#3a5fc8" stroke="#3a5fc8" style="stroke-width:0">30</text>
<text x="333" y="509.05" font-size="5.7" fill="#3a5fc8" stroke="#3a5fc8" style="stroke-width:0">1.3</text>
<text x="333" y="515.05" font-size="5.7" fill="#3a5fc8" stroke="#3a5fc8" style="stroke-width:0">30</text>
<text x="333" y="521.05" font-size="5.7" fill="#3a5fc8" stroke="#3a5fc8" style="stroke-width:0">1.3</text>
<text x="99" y="535.27" font-size="13.8" text-anchor="end" fill="#a550c8" stroke="#a550c8">Smarcc2</text>
<text x="100.6" y="528.7" font-size="8.5" stroke="#1a1a1a"><tspan font-style="italic">Evf2</tspan><tspan font-style="italic" font-size="4.93" dy="-2.55">+/+</tspan></text>
<text x="100.6" y="541.5" font-size="8.5" stroke="#1a1a1a"><tspan font-style="italic">Evf2</tspan><tspan font-style="italic" font-size="4.93" dy="-2.55">TS/TS</tspan></text>
<path d="M285.7 533.2 L285.69 533.2 L286.24 533.2 L286.24 532.76 L286.78 532.76 L286.78 532.28 L287.31 532.28 L287.31 532.04 L287.85 532.04 L287.85 531.66 L288.39 531.66 L288.39 531.37 L288.93 531.37 L288.93 531.12 L289.47 531.12 L289.47 530.92 L290 530.92 L290 530.92 L290.54 530.92 L290.54 530.57 L291.08 530.57 L291.08 530.57 L291.62 530.57 L291.62 530.31 L292.16 530.31 L292.16 529.63 L292.7 529.63 L292.7 529.23 L293.23 529.23 L293.23 528.98 L293.77 528.98 L293.77 528.35 L294.31 528.35 L294.31 527.02 L294.85 527.02 L294.85 527.17 L295.39 527.17 L295.39 527.49 L295.92 527.49 L295.92 528.19 L296.46 528.19 L296.46 530.65 L297 530.65 L297 533.2 L297 533.2Z" fill="#8a2be2"/>
<path d="M278 545 L277.99 545 L278.55 545 L278.55 544.8 L279.1 544.8 L279.1 544.63 L279.65 544.63 L279.65 544.47 L280.2 544.47 L280.2 544.21 L280.75 544.21 L280.75 544.01 L281.3 544.01 L281.3 543.88 L281.86 543.88 L281.86 543.89 L282.41 543.89 L282.41 543.6 L282.96 543.6 L282.96 543.65 L283.51 543.65 L283.51 543.51 L284.06 543.51 L284.06 543.19 L284.61 543.19 L284.61 543.18 L285.16 543.18 L285.16 542.99 L285.71 542.99 L285.71 542.82 L286.26 542.82 L286.26 542.96 L286.81 542.96 L286.81 542.32 L287.36 542.32 L287.36 541.95 L287.91 541.95 L287.91 542.24 L288.46 542.24 L288.46 541.56 L289.01 541.56 L289.01 541.08 L289.57 541.08 L289.57 540.87 L290.12 540.87 L290.12 540.22 L290.67 540.22 L290.67 540.15 L291.22 540.15 L291.22 538.44 L291.77 538.44 L291.77 537.64 L292.32 537.64 L292.32 537.46 L292.87 537.46 L292.87 537.26 L293.42 537.26 L293.42 538.52 L293.97 538.52 L293.97 538.9 L294.52 538.9 L294.52 538.82 L295.07 538.82 L295.07 539.27 L295.62 539.27 L295.62 540.55 L296.17 540.55 L296.17 540.98 L296.72 540.98 L296.72 540.36 L297.28 540.36 L297.28 541.31 L297.83 541.31 L297.83 541.7 L298.38 541.7 L298.38 541.82 L298.93 541.82 L298.93 541.63 L299.48 541.63 L299.48 542.11 L300.03 542.11 L300.03 542.13 L300.58 542.13 L300.58 541.85 L301.13 541.85 L301.13 542.22 L301.68 542.22 L301.68 542.12 L302.23 542.12 L302.23 542.26 L302.78 542.26 L302.78 542.66 L303.33 542.66 L303.33 542.9 L303.88 542.9 L303.88 543.16 L304.43 543.16 L304.43 543.46 L304.99 543.46 L304.99 543.64 L305.54 543.64 L305.54 543.79 L306.09 543.79 L306.09 543.9 L306.64 543.9 L306.64 544.02 L307.19 544.02 L307.19 544.08 L307.74 544.08 L307.74 543.87 L308.29 543.87 L308.29 543.71 L308.84 543.71 L308.84 543.71 L309.39 543.71 L309.39 543.56 L309.94 543.56 L309.94 543.49 L310.49 543.49 L310.49 543.28 L311.04 543.28 L311.04 543.4 L311.59 543.4 L311.59 543.71 L312.14 543.71 L312.14 543.69 L312.7 543.69 L312.7 543.79 L313.25 543.79 L313.25 543.75 L313.8 543.75 L313.8 544.06 L314.35 544.06 L314.35 544.38 L314.9 544.38 L314.9 544.56 L315.45 544.56 L315.45 544.8 L316 544.8 L316 545 L316 545Z" fill="#8a2be2"/>
<text x="333" y="528.25" font-size="5.7" fill="#b04fd0" stroke="#b04fd0" style="stroke-width:0">22</text>
<text x="333" y="534.05" font-size="5.7" fill="#b04fd0" stroke="#b04fd0" style="stroke-width:0">1.3</text>
<text x="333" y="540.25" font-size="5.7" fill="#b04fd0" stroke="#b04fd0" style="stroke-width:0">22</text>
<text x="333" y="545.85" font-size="5.7" fill="#b04fd0" stroke="#b04fd0" style="stroke-width:0">1.3</text>
<text x="99" y="560.97" font-size="13.8" text-anchor="end" fill="#22c0a0" stroke="#22c0a0">Nono</text>
<text x="100.6" y="555.3" font-size="8.5" stroke="#1a1a1a"><tspan font-style="italic">Evf2</tspan><tspan font-style="italic" font-size="4.93" dy="-2.55">+/+</tspan></text>
<text x="100.6" y="566.7" font-size="8.5" stroke="#1a1a1a"><tspan font-style="italic">Evf2</tspan><tspan font-style="italic" font-size="4.93" dy="-2.55">TS/TS</tspan></text>
<path d="M287.5 558 L287.49 558 L288.05 558 L288.05 557.1 L288.59 557.1 L288.59 556.48 L289.14 556.48 L289.14 556.69 L289.69 556.69 L289.69 555.6 L290.23 555.6 L290.23 555.59 L290.78 555.59 L290.78 554.09 L291.33 554.09 L291.33 554.28 L291.87 554.28 L291.87 554.91 L292.42 554.91 L292.42 553.49 L292.97 553.49 L292.97 554.76 L293.51 554.76 L293.51 554.2 L294.06 554.2 L294.06 551.81 L294.6 551.81 L294.6 550.65 L295.15 550.65 L295.15 552.69 L295.7 552.69 L295.7 549.91 L296.24 549.91 L296.24 549.33 L296.79 549.33 L296.79 551.65 L297.34 551.65 L297.34 552.18 L297.88 552.18 L297.88 552.13 L298.43 552.13 L298.43 552.95 L298.98 552.95 L298.98 548.96 L299.52 548.96 L299.52 548.69 L300.07 548.69 L300.07 548.76 L300.62 548.76 L300.62 553.13 L301.16 553.13 L301.16 548.74 L301.71 548.74 L301.71 548.6 L302.26 548.6 L302.26 548.6 L302.8 548.6 L302.8 548.64 L303.35 548.64 L303.35 548.63 L303.9 548.63 L303.9 549.49 L304.44 549.49 L304.44 548.86 L304.99 548.86 L304.99 549.32 L305.53 549.32 L305.53 553.15 L306.08 553.15 L306.08 550.21 L306.63 550.21 L306.63 553.33 L307.17 553.33 L307.17 553.46 L307.72 553.46 L307.72 553.38 L308.27 553.38 L308.27 554.03 L308.81 554.03 L308.81 555.19 L309.36 555.19 L309.36 555.38 L309.91 555.38 L309.91 555.71 L310.45 555.71 L310.45 556.73 L311 556.73 L311 558 L311 558Z" fill="#1dbdbd"/>
<rect x="305" y="557.6" width="11" height="0.5" fill="#1dbdbd"/>
<path d="M272 570.2 L271.99 570.2 L272.54 570.2 L272.54 569.21 L273.09 569.21 L273.09 568.76 L273.63 568.76 L273.63 567.28 L274.17 567.28 L274.17 567.26 L274.72 567.26 L274.72 567.45 L275.26 567.45 L275.26 567.1 L275.8 567.1 L275.8 564.26 L276.35 564.26 L276.35 565.41 L276.89 565.41 L276.89 565.28 L277.43 565.28 L277.43 564.87 L277.98 564.87 L277.98 563.8 L278.52 563.8 L278.52 564.95 L279.07 564.95 L279.07 564.68 L279.61 564.68 L279.61 566.72 L280.15 566.72 L280.15 565.35 L280.7 565.35 L280.7 564.86 L281.24 564.86 L281.24 565.49 L281.78 565.49 L281.78 566.51 L282.33 566.51 L282.33 566.53 L282.87 566.53 L282.87 567.93 L283.41 567.93 L283.41 568.73 L283.96 568.73 L283.96 569.14 L284.5 569.14 L284.5 570.2 L284.5 570.2Z" fill="#1dbdbd"/>
<text x="333" y="554.05" font-size="5.7" fill="#22b8a8" stroke="#22b8a8" style="stroke-width:0">18</text>
<text x="333" y="559.65" font-size="5.7" fill="#22b8a8" stroke="#22b8a8" style="stroke-width:0">1.3</text>
<text x="333" y="565.85" font-size="5.7" fill="#22b8a8" stroke="#22b8a8" style="stroke-width:0">18</text>
<text x="333" y="571.45" font-size="5.7" fill="#22b8a8" stroke="#22b8a8" style="stroke-width:0">1.3</text>
<text x="0" y="588.17" font-size="16.3" stroke="#1a1a1a">F</text>
<text x="24" y="587.28" font-size="11.9" stroke="#1a1a1a" textLength="305" lengthAdjust="spacingAndGlyphs"><tspan>inter-chr interaction (HiC): </tspan><tspan font-style="italic">chr15-Evf1/2</tspan><tspan> RNA BS-3</tspan></text>
<text x="123.5" y="598.73" font-size="4.8" stroke="#1a1a1a" textLength="17.5" lengthAdjust="spacingAndGlyphs" style="stroke-width:.08px">Scale</text>
<text x="120.5" y="604.73" font-size="4.8" stroke="#1a1a1a" textLength="20.5" lengthAdjust="spacingAndGlyphs" style="stroke-width:.08px">chr15:</text>
<text x="177" y="598.93" font-size="4.8" stroke="#1a1a1a" textLength="16.7" lengthAdjust="spacingAndGlyphs" style="stroke-width:.08px">1 Mb</text>
<line x1="194.5" y1="597" x2="277" y2="597" stroke="#999" stroke-width="0.5"/>
<line x1="194.5" y1="595.2" x2="194.5" y2="598.8" stroke="#555" stroke-width="0.5"/>
<line x1="277" y1="595.2" x2="277" y2="598.8" stroke="#555" stroke-width="0.5"/>
<text x="279.5" y="598.93" font-size="4.8" stroke="#1a1a1a" textLength="16.5" lengthAdjust="spacingAndGlyphs" style="stroke-width:.08px">mm9</text>
<line x1="154" y1="601" x2="154" y2="605.4" stroke="#555" stroke-width="0.5"/>
<text x="157.5" y="605.07" font-size="5.2" stroke="#1a1a1a" textLength="38.5" lengthAdjust="spacingAndGlyphs" style="stroke-width:.08px">74,500,000|</text>
<text x="199.5" y="605.07" font-size="5.2" stroke="#1a1a1a" textLength="38.2" lengthAdjust="spacingAndGlyphs" style="stroke-width:.08px">75,000,000|</text>
<text x="241" y="605.07" font-size="5.2" stroke="#1a1a1a" textLength="38.5" lengthAdjust="spacingAndGlyphs" style="stroke-width:.08px">75,500,000|</text>
<text x="282.7" y="605.07" font-size="5.2" stroke="#1a1a1a" textLength="38" lengthAdjust="spacingAndGlyphs" style="stroke-width:.08px">76,000,000|</text>
<text x="169" y="610.82" font-size="5.6" font-style="italic" fill="#22b0a0" stroke="#22b0a0" textLength="12.4" lengthAdjust="spacingAndGlyphs" style="stroke-width:.08px">Bai1</text>
<rect x="182.5" y="606.6" width="1.2" height="4.4" fill="#4040a8"/>
<rect x="184.3" y="606.6" width="4.7" height="4.4" fill="#4040a8"/>
<text x="204" y="610.82" font-size="5.6" fill="#3a3a9a" stroke="#3a3a9a" textLength="18.8" lengthAdjust="spacingAndGlyphs" style="stroke-width:.08px">Ly6c1</text>
<line x1="226.5" y1="606.4" x2="226.5" y2="611.2" stroke="#3a3aa8" stroke-width="0.7"/>
<text x="255" y="610.82" font-size="5.6" font-style="italic" fill="#ee4a4a" stroke="#ee4a4a" textLength="12" lengthAdjust="spacingAndGlyphs" style="stroke-width:.08px">Ly6h</text>
<line x1="269.6" y1="606.8" x2="269.6" y2="611" stroke="#c8c8e8" stroke-width="0.5"/>
<line x1="282.7" y1="606.4" x2="282.7" y2="611.2" stroke="#3a3aa8" stroke-width="0.7"/>
<text x="286" y="610.82" font-size="5.6" font-style="italic" fill="#ee4a4a" stroke="#ee4a4a" textLength="19" lengthAdjust="spacingAndGlyphs" style="stroke-width:.08px">Rphn1</text>
<text x="9.5" y="620.1" font-size="11.4" stroke="#1a1a1a" textLength="61" lengthAdjust="spacingAndGlyphs">ChIRPseq:</text>
<text x="88" y="620.4" font-size="10" font-style="italic" fill="#27aae1" stroke="#27aae1" textLength="52.5" lengthAdjust="spacingAndGlyphs">Evf1/2 RNA</text>
<text x="79" y="626.73" font-size="4.8" stroke="#1a1a1a" textLength="63" lengthAdjust="spacingAndGlyphs"><tspan>(GAPDH:</tspan><tspan font-style="italic">Evf</tspan><tspan font-style="italic" font-size="2.88" dy="-1.82">TS/TS</tspan><tspan dy="1.82"> subtracted)</tspan></text>
<line x1="258" y1="613.8" x2="332" y2="613.8" stroke="#d0d0d0" stroke-width="0.5"/>
<line x1="141" y1="622.6" x2="332" y2="622.6" stroke="#888" stroke-width="0.6"/>
<line x1="141" y1="613" x2="141" y2="622.6" stroke="#555" stroke-width="0.6"/>
<line x1="228.7" y1="613.5" x2="228.7" y2="622.6" stroke="#22c0e8" stroke-width="0.9"/>
<text x="333.5" y="616.05" font-size="5.7" fill="#22b8e6" stroke="#22b8e6" style="stroke-width:0">4</text>
<text x="333.5" y="623.05" font-size="5.7" fill="#22b8e6" stroke="#22b8e6" style="stroke-width:0">0</text>
<line x1="228.7" y1="622.6" x2="141" y2="627.6" stroke="#444" stroke-width="0.5"/>
<line x1="228.7" y1="622.6" x2="332" y2="628.8" stroke="#444" stroke-width="0.5"/>
<text x="123.5" y="633.53" font-size="4.8" stroke="#1a1a1a" textLength="17.5" lengthAdjust="spacingAndGlyphs" style="stroke-width:.08px">Scale</text>
<text x="120.5" y="639.33" font-size="4.8" stroke="#1a1a1a" textLength="20.5" lengthAdjust="spacingAndGlyphs" style="stroke-width:.08px">chr15:</text>
<text x="174.5" y="633.93" font-size="4.8" stroke="#1a1a1a" textLength="13.7" lengthAdjust="spacingAndGlyphs" style="stroke-width:.08px">1 kb</text>
<line x1="189" y1="632" x2="282" y2="632" stroke="#999" stroke-width="0.5"/>
<line x1="189" y1="630.2" x2="189" y2="633.8" stroke="#555" stroke-width="0.5"/>
<line x1="282" y1="630.2" x2="282" y2="633.8" stroke="#555" stroke-width="0.5"/>
<text x="284.5" y="633.93" font-size="4.8" stroke="#1a1a1a" textLength="16.2" lengthAdjust="spacingAndGlyphs" style="stroke-width:.08px">mm9</text>
<text x="143.7" y="639.47" font-size="5.2" stroke="#1a1a1a" textLength="38.3" lengthAdjust="spacingAndGlyphs" style="stroke-width:.08px">74,916,000|</text>
<text x="190.7" y="639.47" font-size="5.2" stroke="#1a1a1a" textLength="38" lengthAdjust="spacingAndGlyphs" style="stroke-width:.08px">74,916,500|</text>
<text x="237.5" y="639.47" font-size="5.2" stroke="#1a1a1a" textLength="37.5" lengthAdjust="spacingAndGlyphs" style="stroke-width:.08px">74,917,000|</text>
<text x="283.7" y="639.47" font-size="5.2" stroke="#1a1a1a" textLength="37.6" lengthAdjust="spacingAndGlyphs" style="stroke-width:.08px">74,917,500|</text>
<text x="65" y="645.29" font-size="9.7" font-style="italic" fill="#27aae1" stroke="#27aae1" textLength="51.7" lengthAdjust="spacingAndGlyphs">Evf1/2 RNA</text>
<text x="119.5" y="643.48" font-size="5.5" stroke="#1a1a1a" textLength="19.5" lengthAdjust="spacingAndGlyphs"><tspan>-log</tspan><tspan font-size="3.85" dy="1.1">10</tspan><tspan dy="-1.1">[p]</tspan></text>
<line x1="332.4" y1="649" x2="332.4" y2="775" stroke="#8c8c8c" stroke-width="0.6"/>
<text x="333.6" y="643.85" font-size="5.7" fill="#22b8e6" stroke="#22b8e6" style="stroke-width:0">12</text>
<text x="333.6" y="649.25" font-size="5.7" fill="#22b8e6" stroke="#22b8e6" style="stroke-width:0">3</text>
<path d="M177 648.8 L176.99 648.8 L177.55 648.8 L177.55 648.37 L178.09 648.37 L178.09 647.93 L178.64 647.93 L178.64 647.8 L179.19 647.8 L179.19 647.28 L179.73 647.28 L179.73 647.01 L180.28 647.01 L180.28 646.61 L180.83 646.61 L180.83 646.15 L181.38 646.15 L181.38 646.18 L181.92 646.18 L181.92 645.72 L182.47 645.72 L182.47 645.85 L183.02 645.85 L183.02 645.63 L183.56 645.63 L183.56 645.78 L184.11 645.78 L184.11 645.21 L184.66 645.21 L184.66 644.87 L185.2 644.87 L185.2 645.13 L185.75 645.13 L185.75 646 L186.3 646 L186.3 645.67 L186.84 645.67 L186.84 646.37 L187.39 646.37 L187.39 646.51 L187.94 646.51 L187.94 646.22 L188.48 646.22 L188.48 646.93 L189.03 646.93 L189.03 646.56 L189.58 646.56 L189.58 647.27 L190.12 647.27 L190.12 647.39 L190.67 647.39 L190.67 647.2 L191.22 647.2 L191.22 647.61 L191.77 647.61 L191.77 647.76 L192.31 647.76 L192.31 647.74 L192.86 647.74 L192.86 648.14 L193.41 648.14 L193.41 648.27 L193.95 648.27 L193.95 648.6 L194.5 648.6 L194.5 648.8 L194.5 648.8Z" fill="#00f0f0"/>
<path d="M197.7 648.8 L197.69 648.8 L198.24 648.8 L198.24 648.34 L198.78 648.34 L198.78 647.96 L199.32 647.96 L199.32 647.51 L199.87 647.51 L199.87 647.37 L200.41 647.37 L200.41 646.97 L200.95 646.97 L200.95 646.78 L201.49 646.78 L201.49 645.66 L202.03 645.66 L202.03 645.59 L202.57 645.59 L202.57 644.92 L203.12 644.92 L203.12 644.93 L203.66 644.93 L203.66 645.09 L204.2 645.09 L204.2 644.24 L204.74 644.24 L204.74 644.58 L205.28 644.58 L205.28 645.28 L205.82 645.28 L205.82 645.24 L206.37 645.24 L206.37 644.93 L206.91 644.93 L206.91 645.87 L207.45 645.87 L207.45 646.54 L207.99 646.54 L207.99 646.39 L208.53 646.39 L208.53 647.4 L209.07 647.4 L209.07 647.71 L209.62 647.71 L209.62 647.97 L210.16 647.97 L210.16 648.36 L210.7 648.36 L210.7 648.8 L210.7 648.8Z" fill="#00f0f0"/>
<path d="M222 648.8 L221.99 648.8 L222.57 648.8 L222.57 648.12 L223.14 648.12 L223.14 647.16 L223.71 647.16 L223.71 647.18 L224.29 647.18 L224.29 647.43 L224.86 647.43 L224.86 647.75 L225.43 647.75 L225.43 648.21 L226 648.21 L226 648.8 L226 648.8Z" fill="#00f0f0"/>
<path d="M254.5 648.8 L254.49 648.8 L255.04 648.8 L255.04 648.38 L255.58 648.38 L255.58 648.06 L256.12 648.06 L256.12 647.38 L256.66 647.38 L256.66 646.94 L257.2 646.94 L257.2 646.22 L257.74 646.22 L257.74 645.69 L258.28 645.69 L258.28 644.96 L258.82 644.96 L258.82 644.54 L259.36 644.54 L259.36 644.77 L259.9 644.77 L259.9 645.36 L260.44 645.36 L260.44 644.83 L260.98 644.83 L260.98 644.25 L261.52 644.25 L261.52 644.45 L262.06 644.45 L262.06 645.27 L262.6 645.27 L262.6 645.23 L263.14 645.23 L263.14 645.42 L263.68 645.42 L263.68 646.56 L264.22 646.56 L264.22 646.66 L264.76 646.66 L264.76 646.63 L265.3 646.63 L265.3 646.97 L265.84 646.97 L265.84 647.34 L266.38 647.34 L266.38 648 L266.92 648 L266.92 648.08 L267.46 648.08 L267.46 648.5 L268 648.5 L268 648.8 L268 648.8Z" fill="#00f0f0"/>
<path d="M287 648.8 L286.99 648.8 L287.55 648.8 L287.55 648.08 L288.1 648.08 L288.1 647.15 L288.65 647.15 L288.65 646.52 L289.2 646.52 L289.2 645.49 L289.75 645.49 L289.75 644.71 L290.3 644.71 L290.3 644.42 L290.85 644.42 L290.85 643.53 L291.4 643.53 L291.4 643.23 L291.95 643.23 L291.95 643.7 L292.5 643.7 L292.5 642.14 L293.05 642.14 L293.05 643.19 L293.6 643.19 L293.6 642.01 L294.15 642.01 L294.15 643.37 L294.7 643.37 L294.7 643.44 L295.25 643.44 L295.25 642.59 L295.8 642.59 L295.8 644.05 L296.35 644.05 L296.35 644 L296.9 644 L296.9 643.23 L297.45 643.23 L297.45 644.17 L298 644.17 L298 644.97 L298.55 644.97 L298.55 645.6 L299.1 645.6 L299.1 644.94 L299.65 644.94 L299.65 645.35 L300.2 645.35 L300.2 646.2 L300.75 646.2 L300.75 646.63 L301.3 646.63 L301.3 646.21 L301.85 646.21 L301.85 646.62 L302.4 646.62 L302.4 647.39 L302.95 647.39 L302.95 647.54 L303.5 647.54 L303.5 647.9 L304.05 647.9 L304.05 648.24 L304.6 648.24 L304.6 648.41 L305.15 648.41 L305.15 648.6 L305.7 648.6 L305.7 648.8 L305.7 648.8Z" fill="#00f0f0"/>
<text x="99.9" y="662.17" font-size="13.8" text-anchor="end" fill="#ee3338" stroke="#ee3338">Sox2</text>
<text x="100.5" y="655.9" font-size="8.5" stroke="#1a1a1a"><tspan font-style="italic">Evf2</tspan><tspan font-style="italic" font-size="4.93" dy="-2.55">+/+</tspan></text>
<text x="100.5" y="668.1" font-size="8.5" stroke="#1a1a1a"><tspan font-style="italic">Evf2</tspan><tspan font-style="italic" font-size="4.93" dy="-2.55">TS/TS</tspan></text>
<path d="M301 658.8 L300.99 658.8 L301.56 658.8 L301.56 658.19 L302.11 658.19 L302.11 657.62 L302.67 657.62 L302.67 657.08 L303.22 657.08 L303.22 656.32 L303.78 656.32 L303.78 655.09 L304.33 655.09 L304.33 653.82 L304.89 653.82 L304.89 652.81 L305.44 652.81 L305.44 650.67 L306 650.67 L306 650.2 L306.56 650.2 L306.56 649.97 L307.11 649.97 L307.11 650.07 L307.67 650.07 L307.67 649.63 L308.22 649.63 L308.22 648.89 L308.78 648.89 L308.78 649.95 L309.33 649.95 L309.33 649.6 L309.89 649.6 L309.89 650.24 L310.44 650.24 L310.44 650.99 L311 650.99 L311 650.98 L311.56 650.98 L311.56 652.61 L312.11 652.61 L312.11 653.03 L312.67 653.03 L312.67 653.3 L313.22 653.3 L313.22 653.98 L313.78 653.98 L313.78 654.25 L314.33 654.25 L314.33 655.09 L314.89 655.09 L314.89 655.34 L315.44 655.34 L315.44 655.53 L316 655.53 L316 655.95 L316.56 655.95 L316.56 656.41 L317.11 656.41 L317.11 656.72 L317.67 656.72 L317.67 656.83 L318.22 656.83 L318.22 657.04 L318.78 657.04 L318.78 657.34 L319.33 657.34 L319.33 657.66 L319.89 657.66 L319.89 658.07 L320.44 658.07 L320.44 658.46 L321 658.46 L321 658.8 L321 658.8Z" fill="#ff0000"/>
<rect x="209" y="658" width="1" height="0.7" fill="#ff7070"/>
<path d="M204.5 670.6 L204.49 670.6 L205.06 670.6 L205.06 670.34 L205.61 670.34 L205.61 670.08 L206.17 670.08 L206.17 669.79 L206.72 669.79 L206.72 669.62 L207.28 669.62 L207.28 669.4 L207.83 669.4 L207.83 669.06 L208.39 669.06 L208.39 669.06 L208.94 669.06 L208.94 668.93 L209.5 668.93 L209.5 669.12 L210.06 669.12 L210.06 669.33 L210.61 669.33 L210.61 669.73 L211.17 669.73 L211.17 669.73 L211.72 669.73 L211.72 669.91 L212.28 669.91 L212.28 670.15 L212.83 670.15 L212.83 670.27 L213.39 670.27 L213.39 670.35 L213.94 670.35 L213.94 670.46 L214.5 670.46 L214.5 670.6 L214.5 670.6Z" fill="#ff0000"/>
<path d="M298 670.6 L297.99 670.6 L298.55 670.6 L298.55 670.14 L299.09 670.14 L299.09 669.73 L299.64 669.73 L299.64 669.23 L300.18 669.23 L300.18 668.89 L300.73 668.89 L300.73 668.3 L301.27 668.3 L301.27 668.09 L301.82 668.09 L301.82 667.56 L302.36 667.56 L302.36 667.46 L302.91 667.46 L302.91 667.09 L303.45 667.09 L303.45 666.48 L304 666.48 L304 666.62 L304.55 666.62 L304.55 666.35 L305.09 666.35 L305.09 666.38 L305.64 666.38 L305.64 666.45 L306.18 666.45 L306.18 666.13 L306.73 666.13 L306.73 666.35 L307.27 666.35 L307.27 666.47 L307.82 666.47 L307.82 666.65 L308.36 666.65 L308.36 667 L308.91 667 L308.91 667.1 L309.45 667.1 L309.45 667.37 L310 667.37 L310 667.82 L310.55 667.82 L310.55 667.97 L311.09 667.97 L311.09 668.26 L311.64 668.26 L311.64 668.48 L312.18 668.48 L312.18 668.76 L312.73 668.76 L312.73 668.83 L313.27 668.83 L313.27 669.07 L313.82 669.07 L313.82 669.29 L314.36 669.29 L314.36 669.36 L314.91 669.36 L314.91 669.41 L315.45 669.41 L315.45 669.49 L316 669.49 L316 669.63 L316.55 669.63 L316.55 669.68 L317.09 669.68 L317.09 669.79 L317.64 669.79 L317.64 669.91 L318.18 669.91 L318.18 669.99 L318.73 669.99 L318.73 670.05 L319.27 670.05 L319.27 670.15 L319.82 670.15 L319.82 670.23 L320.36 670.23 L320.36 670.33 L320.91 670.33 L320.91 670.42 L321.45 670.42 L321.45 670.51 L322 670.51 L322 670.6 L322 670.6Z" fill="#ff0000"/>
<text x="333.6" y="655.05" font-size="5.7" fill="#ee4a4a" stroke="#ee4a4a" style="stroke-width:0">1200</text>
<text x="333.6" y="660.85" font-size="5.7" fill="#ee4a4a" stroke="#ee4a4a" style="stroke-width:0">1.3</text>
<text x="333.6" y="666.65" font-size="5.7" fill="#ee4a4a" stroke="#ee4a4a" style="stroke-width:0">1200</text>
<text x="333.6" y="672.65" font-size="5.7" fill="#ee4a4a" stroke="#ee4a4a" style="stroke-width:0">1.3</text>
<text x="99.9" y="686.17" font-size="13.8" text-anchor="end" fill="#1fa03c" stroke="#1fa03c">Dlx</text>
<text x="100.5" y="679.7" font-size="8.5" stroke="#1a1a1a"><tspan font-style="italic">Evf2</tspan><tspan font-style="italic" font-size="4.93" dy="-2.55">+/+</tspan></text>
<text x="100.5" y="692.1" font-size="8.5" stroke="#1a1a1a"><tspan font-style="italic">Evf2</tspan><tspan font-style="italic" font-size="4.93" dy="-2.55">TS/TS</tspan></text>
<path d="M183 683.8 L182.99 683.8 L183.54 683.8 L183.54 683 L184.08 683 L184.08 682.87 L184.62 682.87 L184.62 682.1 L185.15 682.1 L185.15 682.39 L185.69 682.39 L185.69 682.94 L186.23 682.94 L186.23 682.95 L186.77 682.95 L186.77 682.12 L187.31 682.12 L187.31 682.81 L187.85 682.81 L187.85 682.12 L188.38 682.12 L188.38 682.24 L188.92 682.24 L188.92 682.39 L189.46 682.39 L189.46 682.68 L190 682.68 L190 683.8 L190 683.8Z" fill="#0b7a0b"/>
<rect x="292.7" y="683.3" width="23" height="0.6" fill="#333"/>
<path d="M300.7 683.8 L300.69 683.8 L301.23 683.8 L301.23 681.81 L301.76 681.81 L301.76 679.98 L302.29 679.98 L302.29 677.83 L302.82 677.83 L302.82 678.1 L303.35 678.1 L303.35 679.5 L303.88 679.5 L303.88 680.29 L304.41 680.29 L304.41 681.43 L304.94 681.43 L304.94 682.28 L305.47 682.28 L305.47 682.99 L306 682.99 L306 683.8 L306 683.8Z" fill="#0b7a0b"/>
<path d="M182 695.8 L181.99 695.8 L182.56 695.8 L182.56 695.24 L183.11 695.24 L183.11 695 L183.67 695 L183.67 694.19 L184.22 694.19 L184.22 694.83 L184.78 694.83 L184.78 694.48 L185.33 694.48 L185.33 694.08 L185.89 694.08 L185.89 694.65 L186.44 694.65 L186.44 694.03 L187 694.03 L187 694.29 L187.56 694.29 L187.56 694.49 L188.11 694.49 L188.11 694.4 L188.67 694.4 L188.67 694.45 L189.22 694.45 L189.22 694.69 L189.78 694.69 L189.78 694 L190.33 694 L190.33 694.64 L190.89 694.64 L190.89 694.22 L191.44 694.22 L191.44 695.07 L192 695.07 L192 695.8 L192 695.8Z" fill="#0b7a0b"/>
<path d="M258.7 695.8 L258.69 695.8 L259.25 695.8 L259.25 694.58 L259.81 694.58 L259.81 693.6 L260.36 693.6 L260.36 692.7 L260.91 692.7 L260.91 692.22 L261.47 692.22 L261.47 691.12 L262.02 691.12 L262.02 690.79 L262.57 690.79 L262.57 689.33 L263.13 689.33 L263.13 689.46 L263.68 689.46 L263.68 688.21 L264.23 688.21 L264.23 687.53 L264.79 687.53 L264.79 688.35 L265.34 688.35 L265.34 691.66 L265.89 691.66 L265.89 694.17 L266.45 694.17 L266.45 695.03 L267 695.03 L267 695.8 L267 695.8Z" fill="#0b7a0b"/>
<text x="333.6" y="678.85" font-size="5.7" fill="#1f9a3a" stroke="#1f9a3a" style="stroke-width:0">40</text>
<text x="333.6" y="684.65" font-size="5.7" fill="#1f9a3a" stroke="#1f9a3a" style="stroke-width:0">1.3</text>
<text x="333.6" y="690.85" font-size="5.7" fill="#1f9a3a" stroke="#1f9a3a" style="stroke-width:0">40</text>
<text x="333.6" y="696.65" font-size="5.7" fill="#1f9a3a" stroke="#1f9a3a" style="stroke-width:0">1.3</text>
<text x="99.9" y="712.17" font-size="13.8" text-anchor="end" fill="#2b6cb4" stroke="#2b6cb4">Smarca4</text>
<text x="100.5" y="705.1" font-size="8.5" stroke="#1a1a1a"><tspan font-style="italic">Evf2</tspan><tspan font-style="italic" font-size="4.93" dy="-2.55">+/+</tspan></text>
<text x="100.5" y="717.5" font-size="8.5" stroke="#1a1a1a"><tspan font-style="italic">Evf2</tspan><tspan font-style="italic" font-size="4.93" dy="-2.55">TS/TS</tspan></text>
<rect x="180.7" y="708.3" width="35" height="0.6" fill="#333"/>
<rect x="225" y="708.3" width="11.5" height="0.6" fill="#555"/>
<rect x="249.5" y="708.3" width="22.5" height="0.6" fill="#333"/>
<rect x="289.5" y="708.3" width="32.5" height="0.6" fill="#333"/>
<path d="M183 708.8 L182.99 708.8 L183.55 708.8 L183.55 708.6 L184.1 708.6 L184.1 708.33 L184.65 708.33 L184.65 708.16 L185.19 708.16 L185.19 708.02 L185.74 708.02 L185.74 707.62 L186.29 707.62 L186.29 707.45 L186.84 707.45 L186.84 707.18 L187.39 707.18 L187.39 707.01 L187.94 707.01 L187.94 706.12 L188.48 706.12 L188.48 706.16 L189.03 706.16 L189.03 706.81 L189.58 706.81 L189.58 706.54 L190.13 706.54 L190.13 706.05 L190.68 706.05 L190.68 706.62 L191.23 706.62 L191.23 706.39 L191.77 706.39 L191.77 706.78 L192.32 706.78 L192.32 707.07 L192.87 707.07 L192.87 707.18 L193.42 707.18 L193.42 707.33 L193.97 707.33 L193.97 707.67 L194.52 707.67 L194.52 707.89 L195.06 707.89 L195.06 707.96 L195.61 707.96 L195.61 708.17 L196.16 708.17 L196.16 708.34 L196.71 708.34 L196.71 708.3 L197.26 708.3 L197.26 708.45 L197.81 708.45 L197.81 708.54 L198.35 708.54 L198.35 708.64 L198.9 708.64 L198.9 708.68 L199.45 708.68 L199.45 708.74 L200 708.74 L200 708.8 L200 708.8Z" fill="#0000ee"/>
<path d="M200 708.8 L199.99 708.8 L200.56 708.8 L200.56 708.65 L201.12 708.65 L201.12 708.53 L201.68 708.53 L201.68 708.39 L202.24 708.39 L202.24 708.34 L202.8 708.34 L202.8 708.09 L203.36 708.09 L203.36 707.9 L203.92 707.9 L203.92 707.74 L204.48 707.74 L204.48 707.45 L205.04 707.45 L205.04 707.52 L205.6 707.52 L205.6 707.33 L206.16 707.33 L206.16 707.3 L206.72 707.3 L206.72 706.99 L207.28 706.99 L207.28 707.56 L207.84 707.56 L207.84 707.4 L208.4 707.4 L208.4 707.49 L208.96 707.49 L208.96 707.63 L209.52 707.63 L209.52 707.79 L210.08 707.79 L210.08 708.08 L210.64 708.08 L210.64 708.07 L211.2 708.07 L211.2 708.23 L211.76 708.23 L211.76 708.46 L212.32 708.46 L212.32 708.47 L212.88 708.47 L212.88 708.58 L213.44 708.58 L213.44 708.7 L214 708.7 L214 708.8 L214 708.8Z" fill="#0000ee"/>
<path d="M252 708.8 L251.99 708.8 L252.54 708.8 L252.54 708.55 L253.09 708.55 L253.09 708.23 L253.63 708.23 L253.63 708.02 L254.17 708.02 L254.17 707.78 L254.71 707.78 L254.71 707.42 L255.26 707.42 L255.26 706.9 L255.8 706.9 L255.8 706.5 L256.34 706.5 L256.34 706.24 L256.89 706.24 L256.89 705.97 L257.43 705.97 L257.43 705.42 L257.97 705.42 L257.97 704.95 L258.51 704.95 L258.51 704.44 L259.06 704.44 L259.06 704.04 L259.6 704.04 L259.6 704 L260.14 704 L260.14 703.5 L260.69 703.5 L260.69 703.32 L261.23 703.32 L261.23 703.14 L261.77 703.14 L261.77 703.04 L262.31 703.04 L262.31 702.55 L262.86 702.55 L262.86 702.8 L263.4 702.8 L263.4 703.31 L263.94 703.31 L263.94 703.32 L264.49 703.32 L264.49 704.13 L265.03 704.13 L265.03 704.16 L265.57 704.16 L265.57 704.92 L266.11 704.92 L266.11 705.69 L266.66 705.69 L266.66 706.3 L267.2 706.3 L267.2 706.56 L267.74 706.56 L267.74 707.21 L268.29 707.21 L268.29 707.6 L268.83 707.6 L268.83 707.96 L269.37 707.96 L269.37 708.22 L269.91 708.22 L269.91 708.37 L270.46 708.37 L270.46 708.61 L271 708.61 L271 708.8 L271 708.8Z" fill="#0000ee"/>
<path d="M291 708.8 L290.99 708.8 L291.55 708.8 L291.55 708.15 L292.09 708.15 L292.09 707.48 L292.64 707.48 L292.64 706.84 L293.18 706.84 L293.18 706.29 L293.73 706.29 L293.73 705.78 L294.27 705.78 L294.27 704.81 L294.82 704.81 L294.82 704.01 L295.36 704.01 L295.36 703.45 L295.91 703.45 L295.91 702.48 L296.45 702.48 L296.45 702.39 L297 702.39 L297 702.16 L297.55 702.16 L297.55 701.31 L298.09 701.31 L298.09 702.01 L298.64 702.01 L298.64 701.45 L299.18 701.45 L299.18 702.33 L299.73 702.33 L299.73 701.98 L300.27 701.98 L300.27 702.05 L300.82 702.05 L300.82 702.16 L301.36 702.16 L301.36 702.77 L301.91 702.77 L301.91 703.89 L302.45 703.89 L302.45 703.77 L303 703.77 L303 704.55 L303.55 704.55 L303.55 704.9 L304.09 704.9 L304.09 705.23 L304.64 705.23 L304.64 705.76 L305.18 705.76 L305.18 705.88 L305.73 705.88 L305.73 706.5 L306.27 706.5 L306.27 706.55 L306.82 706.55 L306.82 706.74 L307.36 706.74 L307.36 707.02 L307.91 707.02 L307.91 707.01 L308.45 707.01 L308.45 707.13 L309 707.13 L309 707.36 L309.55 707.36 L309.55 707.49 L310.09 707.49 L310.09 707.47 L310.64 707.47 L310.64 707.7 L311.18 707.7 L311.18 707.79 L311.73 707.79 L311.73 707.81 L312.27 707.81 L312.27 707.96 L312.82 707.96 L312.82 707.91 L313.36 707.91 L313.36 708.01 L313.91 708.01 L313.91 708.04 L314.45 708.04 L314.45 708.04 L315 708.04 L315 708.06 L315.55 708.06 L315.55 708.14 L316.09 708.14 L316.09 708.1 L316.64 708.1 L316.64 708.15 L317.18 708.15 L317.18 708.18 L317.73 708.18 L317.73 708.17 L318.27 708.17 L318.27 708.31 L318.82 708.31 L318.82 708.36 L319.36 708.36 L319.36 708.5 L319.91 708.5 L319.91 708.59 L320.45 708.59 L320.45 708.69 L321 708.69 L321 708.8 L321 708.8Z" fill="#0000ee"/>
<text x="333.6" y="704.65" font-size="5.7" fill="#3a5fc8" stroke="#3a5fc8" style="stroke-width:0">260</text>
<text x="333.6" y="710.25" font-size="5.7" fill="#3a5fc8" stroke="#3a5fc8" style="stroke-width:0">1.3</text>
<text x="333.6" y="716.65" font-size="5.7" fill="#3a5fc8" stroke="#3a5fc8" style="stroke-width:0">260</text>
<text x="333.6" y="722.65" font-size="5.7" fill="#3a5fc8" stroke="#3a5fc8" style="stroke-width:0">1.3</text>
<text x="99.9" y="737.17" font-size="13.8" text-anchor="end" fill="#a550c8" stroke="#a550c8">Smarcc2</text>
<text x="100.5" y="729.7" font-size="8.5" stroke="#1a1a1a"><tspan font-style="italic">Evf2</tspan><tspan font-style="italic" font-size="4.93" dy="-2.55">+/+</tspan></text>
<text x="100.5" y="742.5" font-size="8.5" stroke="#1a1a1a"><tspan font-style="italic">Evf2</tspan><tspan font-style="italic" font-size="4.93" dy="-2.55">TS/TS</tspan></text>
<path d="M177 733.8 L176.99 733.8 L177.55 733.8 L177.55 733.25 L178.09 733.25 L178.09 732.6 L178.64 732.6 L178.64 732.13 L179.19 732.13 L179.19 731.74 L179.73 731.74 L179.73 730.83 L180.28 730.83 L180.28 730.46 L180.83 730.46 L180.83 729.53 L181.38 729.53 L181.38 729.01 L181.92 729.01 L181.92 727.49 L182.47 727.49 L182.47 727.61 L183.02 727.61 L183.02 726.82 L183.56 726.82 L183.56 726.38 L184.11 726.38 L184.11 725.53 L184.66 725.53 L184.66 726 L185.2 726 L185.2 725.74 L185.75 725.74 L185.75 726.01 L186.3 726.01 L186.3 726.14 L186.84 726.14 L186.84 726.15 L187.39 726.15 L187.39 726.78 L187.94 726.78 L187.94 726.91 L188.48 726.91 L188.48 727.22 L189.03 727.22 L189.03 727.16 L189.58 727.16 L189.58 727.98 L190.12 727.98 L190.12 728.18 L190.67 728.18 L190.67 729.11 L191.22 729.11 L191.22 729.55 L191.77 729.55 L191.77 730.31 L192.31 730.31 L192.31 730.86 L192.86 730.86 L192.86 731.52 L193.41 731.52 L193.41 732.32 L193.95 732.32 L193.95 733.02 L194.5 733.02 L194.5 733.8 L194.5 733.8Z" fill="#8a2be2"/>
<path d="M201.5 733.8 L201.49 733.8 L202.04 733.8 L202.04 733.31 L202.58 733.31 L202.58 732.32 L203.12 732.32 L203.12 731.86 L203.66 731.86 L203.66 732.95 L204.21 732.95 L204.21 732.46 L204.75 732.46 L204.75 732.58 L205.29 732.58 L205.29 732.65 L205.83 732.65 L205.83 731.95 L206.37 731.95 L206.37 731.84 L206.91 731.84 L206.91 732.04 L207.45 732.04 L207.45 732.5 L207.99 732.5 L207.99 731.95 L208.54 731.95 L208.54 732.87 L209.08 732.87 L209.08 732.41 L209.62 732.41 L209.62 732.52 L210.16 732.52 L210.16 733.38 L210.7 733.38 L210.7 733.8 L210.7 733.8Z" fill="#8a2be2"/>
<rect x="232.6" y="732.6" width="1.2" height="1.2" fill="#8a2be2"/>
<path d="M253.7 733.8 L253.69 733.8 L254.25 733.8 L254.25 733.62 L254.79 733.62 L254.79 733.45 L255.34 733.45 L255.34 733.07 L255.88 733.07 L255.88 733.07 L256.43 733.07 L256.43 732.8 L256.97 732.8 L256.97 732.52 L257.52 732.52 L257.52 731.88 L258.06 731.88 L258.06 732.1 L258.61 732.1 L258.61 731.52 L259.15 731.52 L259.15 731.67 L259.7 731.67 L259.7 731.23 L260.25 731.23 L260.25 731.25 L260.79 731.25 L260.79 731.03 L261.34 731.03 L261.34 730.68 L261.88 730.68 L261.88 731.16 L262.43 731.16 L262.43 731.57 L262.97 731.57 L262.97 731.62 L263.52 731.62 L263.52 731.89 L264.06 731.89 L264.06 731.9 L264.61 731.9 L264.61 732.74 L265.15 732.74 L265.15 733.31 L265.7 733.31 L265.7 733.8 L265.7 733.8Z" fill="#8a2be2"/>
<path d="M295.7 733.8 L295.69 733.8 L296.25 733.8 L296.25 733.01 L296.8 733.01 L296.8 732.15 L297.35 732.15 L297.35 731.53 L297.9 731.53 L297.9 730.6 L298.45 730.6 L298.45 729.93 L299 729.93 L299 730.02 L299.55 730.02 L299.55 729.7 L300.1 729.7 L300.1 729.5 L300.65 729.5 L300.65 729.1 L301.2 729.1 L301.2 728.89 L301.75 728.89 L301.75 729.32 L302.3 729.32 L302.3 729.48 L302.85 729.48 L302.85 730.11 L303.4 730.11 L303.4 729.87 L303.95 729.87 L303.95 730.46 L304.5 730.46 L304.5 730.25 L305.05 730.25 L305.05 730.46 L305.6 730.46 L305.6 730.76 L306.15 730.76 L306.15 730.76 L306.7 730.76 L306.7 730.54 L307.25 730.54 L307.25 730.43 L307.8 730.43 L307.8 730.32 L308.35 730.32 L308.35 730.2 L308.9 730.2 L308.9 729.48 L309.45 729.48 L309.45 729.2 L310 729.2 L310 728.56 L310.55 728.56 L310.55 728.6 L311.1 728.6 L311.1 728.07 L311.65 728.07 L311.65 727.88 L312.2 727.88 L312.2 727.77 L312.75 727.77 L312.75 728.28 L313.3 728.28 L313.3 727.36 L313.85 727.36 L313.85 728.39 L314.4 728.39 L314.4 728.76 L314.95 728.76 L314.95 728.57 L315.5 728.57 L315.5 729.45 L316.05 729.45 L316.05 729.43 L316.6 729.43 L316.6 730.25 L317.15 730.25 L317.15 730.5 L317.7 730.5 L317.7 731.15 L318.25 731.15 L318.25 731.75 L318.8 731.75 L318.8 732.18 L319.35 732.18 L319.35 732.67 L319.9 732.67 L319.9 733.02 L320.45 733.02 L320.45 733.37 L321 733.37 L321 733.8 L321 733.8Z" fill="#8a2be2"/>
<path d="M182 746 L181.99 746 L182.54 746 L182.54 745.58 L183.09 745.58 L183.09 745.24 L183.63 745.24 L183.63 744.64 L184.18 744.64 L184.18 744.19 L184.72 744.19 L184.72 744.53 L185.26 744.53 L185.26 744.55 L185.81 744.55 L185.81 744.62 L186.35 744.62 L186.35 744.77 L186.89 744.77 L186.89 744.87 L187.44 744.87 L187.44 744.96 L187.98 744.96 L187.98 745.23 L188.52 745.23 L188.52 745.41 L189.07 745.41 L189.07 745.52 L189.61 745.52 L189.61 745.68 L190.16 745.68 L190.16 745.82 L190.7 745.82 L190.7 746 L190.7 746Z" fill="#8a2be2"/>
<path d="M258 746 L257.99 746 L258.56 746 L258.56 745.68 L259.11 745.68 L259.11 745.53 L259.67 745.53 L259.67 745.07 L260.22 745.07 L260.22 744.85 L260.78 744.85 L260.78 744.78 L261.33 744.78 L261.33 744.21 L261.89 744.21 L261.89 744.02 L262.44 744.02 L262.44 743.38 L263 743.38 L263 743.72 L263.56 743.72 L263.56 743.43 L264.11 743.43 L264.11 742.29 L264.67 742.29 L264.67 742.66 L265.22 742.66 L265.22 743.41 L265.78 743.41 L265.78 743.82 L266.33 743.82 L266.33 744.47 L266.89 744.47 L266.89 744.8 L267.44 744.8 L267.44 745.45 L268 745.45 L268 746 L268 746Z" fill="#8a2be2"/>
<rect x="263.6" y="742.6" width="1" height="0.8" fill="#8a2be2"/>
<text x="333.6" y="729.65" font-size="5.7" fill="#b04fd0" stroke="#b04fd0" style="stroke-width:0">140</text>
<text x="333.6" y="735.65" font-size="5.7" fill="#b04fd0" stroke="#b04fd0" style="stroke-width:0">1.3</text>
<text x="333.6" y="741.45" font-size="5.7" fill="#b04fd0" stroke="#b04fd0" style="stroke-width:0">140</text>
<text x="333.6" y="747.65" font-size="5.7" fill="#b04fd0" stroke="#b04fd0" style="stroke-width:0">1.3</text>
<text x="99.9" y="763.17" font-size="13.8" text-anchor="end" fill="#22c0a0" stroke="#22c0a0">Nono</text>
<text x="100.5" y="756.7" font-size="8.5" stroke="#1a1a1a"><tspan font-style="italic">Evf2</tspan><tspan font-style="italic" font-size="4.93" dy="-2.55">+/+</tspan></text>
<text x="100.5" y="768.1" font-size="8.5" stroke="#1a1a1a"><tspan font-style="italic">Evf2</tspan><tspan font-style="italic" font-size="4.93" dy="-2.55">TS/TS</tspan></text>
<path d="M180.7 758.2 L180.69 758.2 L181.25 758.2 L181.25 758.07 L181.79 758.07 L181.79 757.97 L182.34 757.97 L182.34 757.82 L182.89 757.82 L182.89 757.66 L183.44 757.66 L183.44 757.6 L183.98 757.6 L183.98 757.4 L184.53 757.4 L184.53 757.28 L185.08 757.28 L185.08 757.14 L185.63 757.14 L185.63 757.13 L186.17 757.13 L186.17 757.08 L186.72 757.08 L186.72 756.93 L187.27 756.93 L187.27 756.75 L187.82 756.75 L187.82 756.79 L188.36 756.79 L188.36 756.71 L188.91 756.71 L188.91 756.48 L189.46 756.48 L189.46 756.44 L190.01 756.44 L190.01 756.53 L190.55 756.53 L190.55 756.59 L191.1 756.59 L191.1 756.55 L191.65 756.55 L191.65 756.51 L192.2 756.51 L192.2 756.44 L192.74 756.44 L192.74 756.27 L193.29 756.27 L193.29 756.47 L193.84 756.47 L193.84 756.52 L194.39 756.52 L194.39 756.67 L194.93 756.67 L194.93 756.74 L195.48 756.74 L195.48 756.77 L196.03 756.77 L196.03 757.02 L196.58 757.02 L196.58 756.95 L197.12 756.95 L197.12 757.07 L197.67 757.07 L197.67 757.1 L198.22 757.1 L198.22 757.23 L198.77 757.23 L198.77 757.11 L199.31 757.11 L199.31 757.22 L199.86 757.22 L199.86 757.3 L200.41 757.3 L200.41 757.27 L200.96 757.27 L200.96 757.34 L201.5 757.34 L201.5 757.29 L202.05 757.29 L202.05 757.32 L202.6 757.32 L202.6 757.34 L203.15 757.34 L203.15 757.36 L203.69 757.36 L203.69 757.38 L204.24 757.38 L204.24 757.38 L204.79 757.38 L204.79 757.51 L205.34 757.51 L205.34 757.51 L205.88 757.51 L205.88 757.52 L206.43 757.52 L206.43 757.53 L206.98 757.53 L206.98 757.52 L207.53 757.52 L207.53 757.55 L208.07 757.55 L208.07 757.65 L208.62 757.65 L208.62 757.66 L209.17 757.66 L209.17 757.67 L209.72 757.67 L209.72 757.77 L210.26 757.77 L210.26 757.85 L210.81 757.85 L210.81 757.88 L211.36 757.88 L211.36 757.97 L211.91 757.97 L211.91 758.05 L212.45 758.05 L212.45 758.12 L213 758.12 L213 758.2 L213 758.2Z" fill="#1dbdbd"/>
<path d="M250.7 758.2 L250.69 758.2 L251.26 758.2 L251.26 758.06 L251.82 758.06 L251.82 757.91 L252.37 757.91 L252.37 757.79 L252.93 757.79 L252.93 757.58 L253.49 757.58 L253.49 757.52 L254.05 757.52 L254.05 757.29 L254.61 757.29 L254.61 757.09 L255.16 757.09 L255.16 756.88 L255.72 756.88 L255.72 756.55 L256.28 756.55 L256.28 756.47 L256.84 756.47 L256.84 756.21 L257.4 756.21 L257.4 755.86 L257.95 755.86 L257.95 755.85 L258.51 755.85 L258.51 755.5 L259.07 755.5 L259.07 755.38 L259.63 755.38 L259.63 754.96 L260.19 754.96 L260.19 755.05 L260.75 755.05 L260.75 754.62 L261.3 754.62 L261.3 754.49 L261.86 754.49 L261.86 754.35 L262.42 754.35 L262.42 754.32 L262.98 754.32 L262.98 754.87 L263.54 754.87 L263.54 755.01 L264.09 755.01 L264.09 755.3 L264.65 755.3 L264.65 755.8 L265.21 755.8 L265.21 756.09 L265.77 756.09 L265.77 756.43 L266.33 756.43 L266.33 756.84 L266.88 756.84 L266.88 757.35 L267.44 757.35 L267.44 757.77 L268 757.77 L268 758.2 L268 758.2Z" fill="#1dbdbd"/>
<path d="M290.7 758.2 L290.69 758.2 L291.26 758.2 L291.26 757.83 L291.82 757.83 L291.82 757.52 L292.37 757.52 L292.37 757.12 L292.93 757.12 L292.93 756.78 L293.49 756.78 L293.49 756.29 L294.05 756.29 L294.05 755.64 L294.61 755.64 L294.61 755.15 L295.16 755.15 L295.16 754.69 L295.72 754.69 L295.72 753.72 L296.28 753.72 L296.28 753.75 L296.84 753.75 L296.84 753.34 L297.4 753.34 L297.4 753.34 L297.95 753.34 L297.95 753.09 L298.51 753.09 L298.51 752.99 L299.07 752.99 L299.07 753.53 L299.63 753.53 L299.63 754.24 L300.19 754.24 L300.19 754.86 L300.75 754.86 L300.75 755.26 L301.3 755.26 L301.3 755.61 L301.86 755.61 L301.86 755.75 L302.42 755.75 L302.42 756.18 L302.98 756.18 L302.98 756.59 L303.54 756.59 L303.54 756.8 L304.09 756.8 L304.09 757.02 L304.65 757.02 L304.65 757.35 L305.21 757.35 L305.21 757.55 L305.77 757.55 L305.77 757.72 L306.33 757.72 L306.33 757.84 L306.88 757.84 L306.88 757.97 L307.44 757.97 L307.44 758.09 L308 758.09 L308 758.2 L308 758.2Z" fill="#1dbdbd"/>
<rect x="182.5" y="770.6" width="8" height="0.6" fill="#1dbdbd"/>
<rect x="259.5" y="770.6" width="6" height="0.6" fill="#1dbdbd"/>
<rect x="301" y="770.6" width="4.7" height="0.6" fill="#1dbdbd"/>
<text x="333.6" y="755.05" font-size="5.7" fill="#22b8a8" stroke="#22b8a8" style="stroke-width:0">850</text>
<text x="333.6" y="760.85" font-size="5.7" fill="#22b8a8" stroke="#22b8a8" style="stroke-width:0">1.3</text>
<text x="333.6" y="767.05" font-size="5.7" fill="#22b8a8" stroke="#22b8a8" style="stroke-width:0">850</text>
<text x="333.6" y="772.85" font-size="5.7" fill="#22b8a8" stroke="#22b8a8" style="stroke-width:0">1.3</text>
<text x="20.4" y="713" font-size="13.7" text-anchor="middle" stroke="#1a1a1a" transform="rotate(-90 20.4 713)">(RNP hotspot)</text>
<text x="0" y="795.67" font-size="16.3" stroke="#1a1a1a">G</text>
<text x="44" y="795.08" font-size="11.9" stroke="#1a1a1a" textLength="295" lengthAdjust="spacingAndGlyphs"><tspan>inter-chr interaction (HiC): </tspan><tspan font-style="italic">chr5-Evf1/2</tspan><tspan> RNA BS-7</tspan></text>
<text x="59.5" y="819.4" font-size="11.4" stroke="#1a1a1a" textLength="61.2" lengthAdjust="spacingAndGlyphs">ChIRPseq:</text>
<text x="125.5" y="806.67" font-size="5.2" stroke="#1a1a1a" textLength="18.2" lengthAdjust="spacingAndGlyphs" style="stroke-width:.08px">Scale</text>
<text x="127.5" y="812.47" font-size="5.2" stroke="#1a1a1a" textLength="16.2" lengthAdjust="spacingAndGlyphs" style="stroke-width:.08px">chr5:</text>
<text x="132.4" y="818.74" font-size="5.4" font-style="italic" stroke="#1a1a1a" textLength="11.3" lengthAdjust="spacingAndGlyphs" style="stroke-width:.08px">Lat2</text>
<text x="203" y="805.53" font-size="4.8" stroke="#1a1a1a" textLength="13.9" lengthAdjust="spacingAndGlyphs" style="stroke-width:.08px">1 kb</text>
<line x1="217.7" y1="803.6" x2="271" y2="803.6" stroke="#999" stroke-width="0.5"/>
<line x1="217.7" y1="801.8" x2="217.7" y2="805.4" stroke="#555" stroke-width="0.5"/>
<line x1="271" y1="801.8" x2="271" y2="805.4" stroke="#555" stroke-width="0.5"/>
<text x="273" y="805.53" font-size="4.8" stroke="#1a1a1a" textLength="16.5" lengthAdjust="spacingAndGlyphs" style="stroke-width:.08px">mm9</text>
<text x="182.5" y="812.47" font-size="5.2" stroke="#1a1a1a" textLength="42" lengthAdjust="spacingAndGlyphs" style="stroke-width:.08px">135,085,000|</text>
<text x="236" y="812.47" font-size="5.2" stroke="#1a1a1a" textLength="42" lengthAdjust="spacingAndGlyphs" style="stroke-width:.08px">135,086,000|</text>
<text x="290" y="812.47" font-size="5.2" stroke="#1a1a1a" textLength="41" lengthAdjust="spacingAndGlyphs" style="stroke-width:.08px">135,087,000|</text>
<line x1="144.5" y1="817.4" x2="335" y2="817.4" stroke="#cfcfee" stroke-width="0.5" stroke-dasharray="1.2 1.6"/>
<line x1="144.5" y1="822.8" x2="335" y2="822.8" stroke="#cfcfee" stroke-width="0.5" stroke-dasharray="1.2 1.6"/>
<rect x="171.6" y="817.6" width="1.8" height="5.4" fill="#14148c"/>
<rect x="206" y="816.8" width="6.4" height="6.2" fill="#14148c"/>
<rect x="206" y="817.4" width="11.6" height="1.4" fill="#3a3ac0"/>
<text x="67.5" y="832.53" font-size="9.8" font-style="italic" fill="#27aae1" stroke="#27aae1" textLength="52.5" lengthAdjust="spacingAndGlyphs">Evf1/2 RNA</text>
<text x="122.5" y="830.98" font-size="5.5" stroke="#1a1a1a" textLength="20" lengthAdjust="spacingAndGlyphs"><tspan>-log</tspan><tspan font-size="3.85" dy="1.1">10</tspan><tspan dy="-1.1">[p]</tspan></text>
<line x1="335.5" y1="814" x2="335.5" y2="909.5" stroke="#999" stroke-width="0.6"/>
<path d="M232.7 832.6 L232.69 828.05 L233.25 828.05 L233.25 828.22 L233.81 828.22 L233.81 827.87 L234.36 827.87 L234.36 828.43 L234.92 828.43 L234.92 828.34 L235.47 828.34 L235.47 828.44 L236.02 828.44 L236.02 827.99 L236.58 827.99 L236.58 827.87 L237.13 827.87 L237.13 827.71 L237.69 827.71 L237.69 827.72 L238.24 827.72 L238.24 827.54 L238.8 827.54 L238.8 827.87 L239.35 827.87 L239.35 827.6 L239.9 827.6 L239.9 827.81 L240.46 827.81 L240.46 827.71 L241.01 827.71 L241.01 827.37 L241.57 827.37 L241.57 827.17 L242.12 827.17 L242.12 827.27 L242.67 827.27 L242.67 827.14 L243.23 827.14 L243.23 827.61 L243.78 827.61 L243.78 827.39 L244.34 827.39 L244.34 827.44 L244.89 827.44 L244.89 827.98 L245.44 827.98 L245.44 827.59 L246 827.59 L246 827.78 L246.55 827.78 L246.55 827.66 L247.11 827.66 L247.11 827.31 L247.66 827.31 L247.66 826.87 L248.21 826.87 L248.21 826.73 L248.77 826.73 L248.77 826.95 L249.32 826.95 L249.32 827.43 L249.88 827.43 L249.88 827.43 L250.43 827.43 L250.43 827.43 L250.99 827.43 L250.99 827.41 L251.54 827.41 L251.54 827.6 L252.09 827.6 L252.09 827.56 L252.65 827.56 L252.65 827.27 L253.2 827.27 L253.2 827.31 L253.76 827.31 L253.76 827.27 L254.31 827.27 L254.31 827.28 L254.86 827.28 L254.86 827.26 L255.42 827.26 L255.42 827.23 L255.97 827.23 L255.97 827.36 L256.53 827.36 L256.53 826.9 L257.08 826.9 L257.08 826.68 L257.63 826.68 L257.63 826.66 L258.19 826.66 L258.19 826.37 L258.74 826.37 L258.74 826.42 L259.3 826.42 L259.3 826.13 L259.85 826.13 L259.85 825.77 L260.4 825.77 L260.4 825.35 L260.96 825.35 L260.96 825.72 L261.51 825.72 L261.51 825.39 L262.07 825.39 L262.07 825.17 L262.62 825.17 L262.62 825.04 L263.18 825.04 L263.18 824.98 L263.73 824.98 L263.73 824.12 L264.28 824.12 L264.28 824.43 L264.84 824.43 L264.84 824.86 L265.39 824.86 L265.39 825.23 L265.95 825.23 L265.95 825.18 L266.5 825.18 L266.5 825.33 L266.5 832.6Z" fill="#00f0f0"/>
<text x="337" y="829.05" font-size="5.7" fill="#22b8e6" stroke="#22b8e6" style="stroke-width:0">12</text>
<text x="337" y="833.85" font-size="5.7" fill="#22b8e6" stroke="#22b8e6" style="stroke-width:0">3</text>
<text x="102.4" y="848.17" font-size="13.8" text-anchor="end" fill="#ee3338" stroke="#ee3338">Sox2</text>
<text x="103.7" y="840.9" font-size="8.5" stroke="#1a1a1a"><tspan font-style="italic">Evf2</tspan><tspan font-style="italic" font-size="4.93" dy="-2.55">+/+</tspan></text>
<text x="103.7" y="853.5" font-size="8.5" stroke="#1a1a1a"><tspan font-style="italic">Evf2</tspan><tspan font-style="italic" font-size="4.93" dy="-2.55">TS/TS</tspan></text>
<path d="M203.7 844.8 L203.69 844.8 L204.26 844.8 L204.26 843 L204.81 843 L204.81 841.33 L205.37 841.33 L205.37 839.3 L205.93 839.3 L205.93 837.59 L206.49 837.59 L206.49 836.26 L207.04 836.26 L207.04 836.52 L207.6 836.52 L207.6 836.48 L208.16 836.48 L208.16 837.14 L208.71 837.14 L208.71 838.08 L209.27 838.08 L209.27 838.63 L209.83 838.63 L209.83 839.18 L210.39 839.18 L210.39 840.41 L210.94 840.41 L210.94 842.65 L211.5 842.65 L211.5 844.8 L211.5 844.8Z" fill="#ff0000"/>
<rect x="203.7" y="844.4" width="8" height="0.5" fill="#400"/>
<text x="337" y="840.05" font-size="5.7" fill="#ee4a4a" stroke="#ee4a4a" style="stroke-width:0">5</text>
<text x="337" y="845.85" font-size="5.7" fill="#ee4a4a" stroke="#ee4a4a" style="stroke-width:0">1.3</text>
<text x="337" y="852.55" font-size="5.7" fill="#ee4a4a" stroke="#ee4a4a" style="stroke-width:0">5</text>
<text x="337" y="858.05" font-size="5.7" fill="#ee4a4a" stroke="#ee4a4a" style="stroke-width:0">1.3</text>
<text x="102.4" y="872.17" font-size="13.8" text-anchor="end" fill="#a550c8" stroke="#a550c8">Smarcc2</text>
<text x="103.7" y="864.9" font-size="8.5" stroke="#1a1a1a"><tspan font-style="italic">Evf2</tspan><tspan font-style="italic" font-size="4.93" dy="-2.55">+/+</tspan></text>
<text x="103.7" y="877.1" font-size="8.5" stroke="#1a1a1a"><tspan font-style="italic">Evf2</tspan><tspan font-style="italic" font-size="4.93" dy="-2.55">TS/TS</tspan></text>
<path d="M223 869.2 L222.99 869.2 L223.56 869.2 L223.56 867.55 L224.12 867.55 L224.12 865.92 L224.69 865.92 L224.69 864.64 L225.25 864.64 L225.25 864.29 L225.81 864.29 L225.81 863.82 L226.38 863.82 L226.38 864.39 L226.94 864.39 L226.94 865.29 L227.5 865.29 L227.5 866.33 L228.06 866.33 L228.06 865.53 L228.62 865.53 L228.62 864.92 L229.19 864.92 L229.19 863.99 L229.75 863.99 L229.75 864.16 L230.31 864.16 L230.31 864.2 L230.88 864.2 L230.88 865.5 L231.44 865.5 L231.44 867.33 L232 867.33 L232 869.2 L232 869.2Z" fill="#8a2be2"/>
<path d="M213 869.2 L212.99 869.2 L213.55 869.2 L213.55 868.71 L214.1 868.71 L214.1 868.64 L214.65 868.64 L214.65 868.63 L215.2 868.63 L215.2 868.5 L215.75 868.5 L215.75 868.09 L216.3 868.09 L216.3 868.05 L216.85 868.05 L216.85 868.47 L217.4 868.47 L217.4 868.4 L217.95 868.4 L217.95 868.39 L218.5 868.39 L218.5 868.05 L219.05 868.05 L219.05 868.4 L219.6 868.4 L219.6 868.49 L220.15 868.49 L220.15 868.72 L220.7 868.72 L220.7 869.2 L220.7 869.2Z" fill="#8a2be2"/>
<path d="M235.7 869.2 L235.69 869.2 L236.26 869.2 L236.26 868.79 L236.82 868.79 L236.82 868.78 L237.38 868.78 L237.38 868.34 L237.95 868.34 L237.95 868.4 L238.51 868.4 L238.51 868.4 L239.07 868.4 L239.07 868.52 L239.63 868.52 L239.63 868.4 L240.19 868.4 L240.19 868.27 L240.75 868.27 L240.75 868.38 L241.32 868.38 L241.32 868.59 L241.88 868.59 L241.88 868.26 L242.44 868.26 L242.44 868.84 L243 868.84 L243 869.2 L243 869.2Z" fill="#8a2be2"/>
<path d="M299.5 869.2 L299.49 869.2 L300.06 869.2 L300.06 867.84 L300.62 867.84 L300.62 868.47 L301.19 868.47 L301.19 868.39 L301.75 868.39 L301.75 868.29 L302.31 868.29 L302.31 868.44 L302.88 868.44 L302.88 868.39 L303.44 868.39 L303.44 867.93 L304 867.93 L304 869.2 L304 869.2Z" fill="#8a2be2"/>
<text x="337" y="865.05" font-size="5.7" fill="#b04fd0" stroke="#b04fd0" style="stroke-width:0">10</text>
<text x="337" y="870.65" font-size="5.7" fill="#b04fd0" stroke="#b04fd0" style="stroke-width:0">1.3</text>
<text x="337" y="877.05" font-size="5.7" fill="#b04fd0" stroke="#b04fd0" style="stroke-width:0">10</text>
<text x="337" y="882.65" font-size="5.7" fill="#b04fd0" stroke="#b04fd0" style="stroke-width:0">1.3</text>
<text x="102.4" y="898.17" font-size="13.8" text-anchor="end" fill="#22c0a0" stroke="#22c0a0">Nono</text>
<text x="103.7" y="890.9" font-size="8.5" stroke="#1a1a1a"><tspan font-style="italic">Evf2</tspan><tspan font-style="italic" font-size="4.93" dy="-2.55">+/+</tspan></text>
<text x="103.7" y="903.1" font-size="8.5" stroke="#1a1a1a"><tspan font-style="italic">Evf2</tspan><tspan font-style="italic" font-size="4.93" dy="-2.55">TS/TS</tspan></text>
<path d="M190.7 895.2 L190.69 895.2 L191.26 895.2 L191.26 893.81 L191.81 893.81 L191.81 892.39 L192.37 892.39 L192.37 891.24 L192.92 891.24 L192.92 889.98 L193.48 889.98 L193.48 889.26 L194.03 889.26 L194.03 888.4 L194.59 888.4 L194.59 888.44 L195.14 888.44 L195.14 888.1 L195.7 888.1 L195.7 888.45 L196.26 888.45 L196.26 889.5 L196.81 889.5 L196.81 890.81 L197.37 890.81 L197.37 891.61 L197.92 891.61 L197.92 892.6 L198.48 892.6 L198.48 893.08 L199.03 893.08 L199.03 893.88 L199.59 893.88 L199.59 894.29 L200.14 894.29 L200.14 894.76 L200.7 894.76 L200.7 895.2 L200.7 895.2Z" fill="#1dbdbd"/>
<path d="M171.5 895.2 L171.49 893.08 L172.07 893.08 L172.07 892.71 L172.64 892.71 L172.64 893.52 L173.21 893.52 L173.21 893.76 L173.79 893.76 L173.79 894.06 L174.36 894.06 L174.36 894.57 L174.93 894.57 L174.93 894.84 L175.5 894.84 L175.5 895.2 L175.5 895.2Z" fill="#1dbdbd"/>
<path d="M207 895.2 L206.99 895.2 L207.56 895.2 L207.56 894.41 L208.12 894.41 L208.12 893.53 L208.68 893.53 L208.68 893.57 L209.24 893.57 L209.24 894.5 L209.8 894.5 L209.8 895.2 L209.8 895.2Z" fill="#1dbdbd"/>
<path d="M222 895.2 L221.99 895.2 L222.56 895.2 L222.56 894.55 L223.12 894.55 L223.12 893.72 L223.68 893.72 L223.68 892.58 L224.24 892.58 L224.24 893.46 L224.8 893.46 L224.8 893.18 L225.36 893.18 L225.36 893.45 L225.92 893.45 L225.92 893.16 L226.48 893.16 L226.48 892.67 L227.04 892.67 L227.04 892.41 L227.6 892.41 L227.6 892.52 L228.16 892.52 L228.16 892.5 L228.72 892.5 L228.72 893.99 L229.28 893.99 L229.28 893.67 L229.84 893.67 L229.84 892.49 L230.4 892.49 L230.4 893.13 L230.96 893.13 L230.96 893.84 L231.52 893.84 L231.52 893.04 L232.08 893.04 L232.08 892.51 L232.64 892.51 L232.64 893.69 L233.2 893.69 L233.2 893.49 L233.76 893.49 L233.76 893.79 L234.32 893.79 L234.32 892.55 L234.88 892.55 L234.88 894.26 L235.44 894.26 L235.44 894.7 L236 894.7 L236 895.2 L236 895.2Z" fill="#1dbdbd"/>
<text x="337" y="890.65" font-size="5.7" fill="#22b8a8" stroke="#22b8a8" style="stroke-width:0">10</text>
<text x="337" y="896.25" font-size="5.7" fill="#22b8a8" stroke="#22b8a8" style="stroke-width:0">1.3</text>
<text x="337" y="902.65" font-size="5.7" fill="#22b8a8" stroke="#22b8a8" style="stroke-width:0">10</text>
<text x="337" y="908.25" font-size="5.7" fill="#22b8a8" stroke="#22b8a8" style="stroke-width:0">1.3</text>
<text x="341.6" y="14.27" font-size="16.3" stroke="#1a1a1a">C</text>
<rect x="368.8" y="2.6" width="187.8" height="107.3" fill="none" stroke="#1a1a1a" stroke-width="0.6"/>
<line x1="368.8" y1="10.3" x2="556.6" y2="10.3" stroke="#1a1a1a" stroke-width="0.6"/>
<line x1="368.8" y1="11.7" x2="556.6" y2="11.7" stroke="#1a1a1a" stroke-width="0.6"/>
<line x1="368.8" y1="19.6" x2="556.6" y2="19.6" stroke="#1a1a1a" stroke-width="0.6"/>
<line x1="368.8" y1="65.6" x2="556.6" y2="65.6" stroke="#1a1a1a" stroke-width="0.6"/>
<line x1="368.8" y1="73.2" x2="556.6" y2="73.2" stroke="#1a1a1a" stroke-width="0.6"/>
<line x1="458" y1="11.7" x2="458" y2="109.9" stroke="#1a1a1a" stroke-width="0.6"/>
<text x="370" y="9.27" font-size="7.7" stroke="#1a1a1a">RBS inter-chr identity: TF Motifs (p&lt;1.0E-3)</text>
<text x="370" y="19.22" font-size="7" stroke="#1a1a1a">Zfp740 (31) &amp; Zfp281 (21)</text>
<text x="459.4" y="19.22" font-size="7" stroke="#1a1a1a">Zfp281 (21)</text>
<text x="370" y="27.52" font-size="7" stroke="#1a1a1a">chr13-RBS-8 (55.80Mb)</text>
<text x="459.4" y="27.52" font-size="7" stroke="#1a1a1a">chr10-RBS-3 (12.29Mb)</text>
<text x="370" y="36.42" font-size="7" stroke="#1a1a1a">chr4-RBS-4 (83.13Mb)</text>
<text x="459.4" y="36.42" font-size="7" stroke="#1a1a1a">chr6-RBS-5 (94.73Mb)</text>
<text x="370" y="45.42" font-size="7" stroke="#1a1a1a">chr6-RBS-5 (94.73Mb)</text>
<text x="459.4" y="45.42" font-size="7" stroke="#1a1a1a">chr4-RBS-4 (83.13Mb)</text>
<text x="370" y="54.32" font-size="7" stroke="#1a1a1a">chr10-RBS-16 (121.20Mb)</text>
<text x="459.4" y="54.32" font-size="7" stroke="#1a1a1a">chr4-RBS-3 (59.21Mb)</text>
<text x="370" y="63.12" font-size="7" stroke="#1a1a1a">chr14-RBS-3 (46.4Mb3)</text>
<text x="459.4" y="63.12" font-size="7" stroke="#1a1a1a">chr13-RBS-8 (55.80Mb)</text>
<text x="370" y="71.92" font-size="7" stroke="#1a1a1a">Atf1(7)</text>
<text x="459.4" y="71.92" font-size="7" stroke="#1a1a1a">Tcf3 (14)</text>
<text x="370" y="82.32" font-size="7" stroke="#1a1a1a">chr13-RBS-10 (87.41Mb)</text>
<text x="459.4" y="82.32" font-size="7" stroke="#1a1a1a">chr1-RBS-2 (24.34Mb)</text>
<text x="370" y="90.72" font-size="7" stroke="#1a1a1a">chr16-RBS-5 (63.46Mb)</text>
<text x="459.4" y="90.72" font-size="7" stroke="#1a1a1a">chr12-RBS-2 (9.45Mb)</text>
<text x="370" y="99.12" font-size="7" stroke="#1a1a1a">chr17-RBS-2 (81.06Mb)</text>
<text x="459.4" y="99.12" font-size="7" stroke="#1a1a1a">chr15-RBS-7 (97.75Mb)</text>
<text x="370" y="107.92" font-size="7" stroke="#1a1a1a">chr19-RBS-3 (26.14Mb)</text>
<text x="340.2" y="152.07" font-size="16.3" stroke="#1a1a1a">D</text>
<text x="512.8" y="147.24" font-size="10.1" stroke="#1a1a1a" text-anchor="middle"><tspan>80/148 </tspan><tspan font-style="italic">Evf1/2</tspan><tspan> RNA BS looping interactions</tspan></text>
<text x="444" y="160.2" font-size="8.9" stroke="#1a1a1a" textLength="136.5" lengthAdjust="spacingAndGlyphs"><tspan>(HiC ±20kb) (11</tspan><tspan font-style="italic" font-size="5.87" dy="-3.2">inter-chr</tspan><tspan dy="3.2">)  (77</tspan><tspan font-style="italic" font-size="5.87" dy="-3.2">intra-chr</tspan><tspan dy="3.2">)</tspan></text>
<text x="386.7" y="173.01" font-size="6.7" stroke="#1a1a1a" textLength="25" lengthAdjust="spacingAndGlyphs">Inter-chr</text>
<line x1="398" y1="174" x2="398" y2="310" stroke="#808080" stroke-width="0.6"/>
<rect x="398" y="178.3" width="42.5" height="4.3" fill="#bdbdbd" stroke="#1a1a1a" stroke-width="0.6"/>
<text x="393.2" y="182.74" font-size="6.5" text-anchor="end" stroke="#1a1a1a">chr5 RBS:chr8</text>
<rect x="398" y="190.34" width="31.7" height="4.3" fill="#bdbdbd" stroke="#1a1a1a" stroke-width="0.6"/>
<text x="393.2" y="194.78" font-size="6.5" text-anchor="end" stroke="#1a1a1a">chr5 RBS:chr8</text>
<rect x="398" y="202.38" width="33" height="4.3" fill="#bdbdbd" stroke="#1a1a1a" stroke-width="0.6"/>
<text x="393.2" y="206.82" font-size="6.5" text-anchor="end" stroke="#1a1a1a">chr4 RBS:chr6</text>
<rect x="398" y="214.42" width="27.5" height="4.3" fill="#bdbdbd" stroke="#1a1a1a" stroke-width="0.6"/>
<text x="393.2" y="218.86" font-size="6.5" text-anchor="end" stroke="#1a1a1a">chr4 RBS:chr6</text>
<rect x="398" y="226.46" width="29.5" height="4.3" fill="#bdbdbd" stroke="#1a1a1a" stroke-width="0.6"/>
<text x="393.2" y="230.9" font-size="6.5" text-anchor="end" stroke="#1a1a1a">chr4 RBS:chr6</text>
<rect x="398" y="238.5" width="29.5" height="4.3" fill="#bdbdbd" stroke="#1a1a1a" stroke-width="0.6"/>
<text x="393.2" y="242.94" font-size="6.5" text-anchor="end" stroke="#1a1a1a">chr4 RBS:chr6</text>
<rect x="398" y="250.54" width="47.5" height="4.3" fill="#bdbdbd" stroke="#1a1a1a" stroke-width="0.6"/>
<text x="393.2" y="254.98" font-size="6.5" text-anchor="end" stroke="#1a1a1a">chr4 RBS:chr6</text>
<rect x="398" y="262.58" width="36.7" height="4.3" fill="#bdbdbd" stroke="#1a1a1a" stroke-width="0.6"/>
<text x="393.2" y="267.02" font-size="6.5" text-anchor="end" stroke="#1a1a1a">chr4 RBS:chr6</text>
<rect x="398" y="274.62" width="36.7" height="4.3" fill="#bdbdbd" stroke="#1a1a1a" stroke-width="0.6"/>
<text x="393.2" y="279.06" font-size="6.5" text-anchor="end" stroke="#1a1a1a">chr15 RBS:chr6</text>
<rect x="398" y="286.66" width="34.5" height="4.3" fill="#bdbdbd" stroke="#1a1a1a" stroke-width="0.6"/>
<text x="393.2" y="291.1" font-size="6.5" text-anchor="end" stroke="#1a1a1a">chr15 RBS:chr2</text>
<rect x="398" y="298.7" width="49.5" height="4.3" fill="#bdbdbd" stroke="#1a1a1a" stroke-width="0.6"/>
<text x="393.2" y="303.14" font-size="6.5" text-anchor="end" stroke="#1a1a1a">chr15 RBS:chr16</text>
<polygon points="395.8,200.1 396.52,202.01 398.56,202.1 396.96,203.38 397.5,205.35 395.8,204.22 394.1,205.35 394.64,203.38 393.04,202.1 395.08,202.01" fill="#ec0c8c"/>
<polygon points="395.8,272.3 396.52,274.21 398.56,274.3 396.96,275.58 397.5,277.55 395.8,276.42 394.1,277.55 394.64,275.58 393.04,274.3 395.08,274.21" fill="#ec0c8c"/>
<line x1="340.6" y1="200.4" x2="398" y2="200.4" stroke="#777" stroke-width="0.5"/>
<line x1="340.6" y1="281.4" x2="398" y2="281.4" stroke="#777" stroke-width="0.5"/>
<line x1="340.6" y1="200.4" x2="340.6" y2="281.4" stroke="#777" stroke-width="0.5"/>
<text x="347.9" y="274.8" font-size="6.9" stroke="#1a1a1a" textLength="66.8" lengthAdjust="spacingAndGlyphs" transform="rotate(-90 347.9 274.8)">chr6 sites: 3.05-3.33Mb</text>
<text x="398" y="315.58" font-size="6.6" text-anchor="middle" stroke="#1a1a1a">0</text>
<text x="416.2" y="315.58" font-size="6.6" text-anchor="middle" stroke="#1a1a1a">5</text>
<text x="434.3" y="315.58" font-size="6.6" text-anchor="middle" stroke="#1a1a1a">10</text>
<text x="452.8" y="315.58" font-size="6.6" text-anchor="middle" stroke="#1a1a1a">15</text>
<text x="396.7" y="323.58" font-size="6.6" stroke="#1a1a1a" textLength="53.3" lengthAdjust="spacingAndGlyphs">HiC counts  (avg)</text>
<text x="407.5" y="331.11" font-size="5.3" stroke="#1a1a1a" textLength="31.5" lengthAdjust="spacingAndGlyphs">qval&lt;2E-02</text>
<polygon points="463.7,205.1 464.42,207.01 466.46,207.1 464.86,208.38 465.4,210.35 463.7,209.22 462,210.35 462.54,208.38 460.94,207.1 462.98,207.01" fill="#1aa7e0"/>
<text x="468.7" y="211.19" font-size="8.3" font-style="italic" stroke="#1a1a1a">Evf1/2/</text>
<text x="468.7" y="220.59" font-size="8.3" font-style="italic" stroke="#1a1a1a">Dlx5/6UCE</text>
<ellipse cx="463.8" cy="228" rx="3.2" ry="1.6" fill="#8a55d0"/>
<text x="468.7" y="232.99" font-size="8.3" font-style="italic" stroke="#1a1a1a">Evf1/2</text>
<text x="468.7" y="241.79" font-size="8.3" stroke="#1a1a1a">RBS</text>
<line x1="460.5" y1="250.4" x2="468.6" y2="250.4" stroke="#1a1a1a" stroke-width="0.8"/>
<line x1="463.5" y1="250.4" x2="466" y2="250.4" stroke="#ec0c8c" stroke-width="0.8"/>
<text x="469.3" y="253.04" font-size="7.9" stroke="#1a1a1a">inter</text>
<path d="M460.8 263.4 C465 263.4 468.3 264.4 468.3 265.6 C468.3 266.8 465 267.8 460.8 267.8" fill="none" stroke="#ec0c8c" stroke-width="0.7"/>
<text x="469.3" y="267.71" font-size="7.8" stroke="#1a1a1a">intra</text>
<polygon points="463.7,276.7 464.42,278.61 466.46,278.7 464.86,279.98 465.4,281.95 463.7,280.82 462,281.95 462.54,279.98 460.94,278.7 462.98,278.61" fill="#ec0c8c"/>
<text x="468.7" y="282.99" font-size="8.3" font-style="italic" stroke="#1a1a1a">chr6:</text>
<text x="468.7" y="291.07" font-size="6.3" font-style="italic" stroke="#1a1a1a">inter-chr</text>
<text x="468.7" y="298.47" font-size="6.3" font-style="italic" stroke="#1a1a1a">(chr4-RBS &amp;</text>
<text x="468.7" y="306.07" font-size="6.3" font-style="italic" stroke="#1a1a1a">chr15-RBS)</text>
<clipPath id="c6"><rect x="512.7" y="190" width="6.3" height="118" rx="3.15" ry="3.15"/></clipPath>
<g clip-path="url(#c6)">
<rect x="512.7" y="190" width="6.3" height="118" fill="#4677b8"/>
<rect x="512.7" y="191.5" width="6.3" height="0.7" fill="#7da2c6"/>
<rect x="512.7" y="192.1" width="6.3" height="2.23" fill="#9fbcc8"/>
<rect x="512.7" y="194.23" width="6.3" height="0.7" fill="#7da2c6"/>
<rect x="512.7" y="195.03" width="6.3" height="0.7" fill="#7da2c6"/>
<rect x="512.7" y="195.63" width="6.3" height="0.98" fill="#9fbcc8"/>
<rect x="512.7" y="196.51" width="6.3" height="0.7" fill="#7da2c6"/>
<rect x="512.7" y="197.31" width="6.3" height="0.7" fill="#7da2c6"/>
<rect x="512.7" y="197.91" width="6.3" height="2.12" fill="#a9c2c4"/>
<rect x="512.7" y="199.93" width="6.3" height="0.7" fill="#7da2c6"/>
<rect x="512.7" y="200.73" width="6.3" height="0.7" fill="#7da2c6"/>
<rect x="512.7" y="201.33" width="6.3" height="0.77" fill="#a4bfc6"/>
<rect x="512.7" y="201.99" width="6.3" height="0.7" fill="#7da2c6"/>
<rect x="512.7" y="202.79" width="6.3" height="0.7" fill="#7da2c6"/>
<rect x="512.7" y="203.39" width="6.3" height="1.77" fill="#a9c2c4"/>
<rect x="512.7" y="205.07" width="6.3" height="0.7" fill="#7da2c6"/>
<rect x="512.7" y="205.87" width="6.3" height="1.81" fill="#4877b9"/>
<rect x="512.7" y="207.57" width="6.3" height="0.7" fill="#7da2c6"/>
<rect x="512.7" y="208.17" width="6.3" height="2.24" fill="#9fbcc8"/>
<rect x="512.7" y="210.31" width="6.3" height="0.7" fill="#7da2c6"/>
<rect x="512.7" y="211.11" width="6.3" height="1.65" fill="#4b7cbc"/>
<rect x="512.7" y="212.67" width="6.3" height="1.7" fill="#4b7cbc"/>
<rect x="512.7" y="214.27" width="6.3" height="1.38" fill="#4877b9"/>
<rect x="512.7" y="215.55" width="6.3" height="1.03" fill="#4272b4"/>
<rect x="512.7" y="216.48" width="6.3" height="1.68" fill="#4b7cbc"/>
<rect x="512.7" y="218.06" width="6.3" height="0.7" fill="#7da2c6"/>
<rect x="512.7" y="218.66" width="6.3" height="0.76" fill="#93b4c8"/>
<rect x="512.7" y="219.32" width="6.3" height="0.7" fill="#7da2c6"/>
<rect x="512.7" y="220.12" width="6.3" height="2.81" fill="#5c8bc6"/>
<rect x="512.7" y="222.83" width="6.3" height="1.36" fill="#4070b0"/>
<rect x="512.7" y="224.09" width="6.3" height="1.33" fill="#5c8bc6"/>
<rect x="512.7" y="225.31" width="6.3" height="1.96" fill="#5585c2"/>
<rect x="512.7" y="227.17" width="6.3" height="1.64" fill="#4070b0"/>
<rect x="512.7" y="228.71" width="6.3" height="2.33" fill="#5585c2"/>
<rect x="512.7" y="230.94" width="6.3" height="3.05" fill="#4272b4"/>
<rect x="512.7" y="233.89" width="6.3" height="1.57" fill="#4b7cbc"/>
<rect x="512.7" y="235.36" width="6.3" height="2.96" fill="#4474b6"/>
<rect x="512.7" y="238.22" width="6.3" height="1.11" fill="#4b7cbc"/>
<rect x="512.7" y="239.23" width="6.3" height="0.7" fill="#7da2c6"/>
<rect x="512.7" y="239.83" width="6.3" height="1.45" fill="#8aadc8"/>
<rect x="512.7" y="241.18" width="6.3" height="0.7" fill="#7da2c6"/>
<rect x="512.7" y="241.98" width="6.3" height="2.37" fill="#5585c2"/>
<rect x="512.7" y="244.25" width="6.3" height="2.33" fill="#4b7cbc"/>
<rect x="512.7" y="246.48" width="6.3" height="0.7" fill="#7da2c6"/>
<rect x="512.7" y="247.08" width="6.3" height="2.3" fill="#a9c2c4"/>
<rect x="512.7" y="249.28" width="6.3" height="0.7" fill="#7da2c6"/>
<rect x="512.7" y="250.08" width="6.3" height="2.64" fill="#4877b9"/>
<rect x="512.7" y="252.62" width="6.3" height="1.49" fill="#4474b6"/>
<rect x="512.7" y="254.01" width="6.3" height="1.16" fill="#4b7cbc"/>
<rect x="512.7" y="255.07" width="6.3" height="1.26" fill="#4474b6"/>
<rect x="512.7" y="256.23" width="6.3" height="0.7" fill="#7da2c6"/>
<rect x="512.7" y="256.83" width="6.3" height="1.7" fill="#9fbcc8"/>
<rect x="512.7" y="258.42" width="6.3" height="0.7" fill="#7da2c6"/>
<rect x="512.7" y="259.22" width="6.3" height="1.51" fill="#5585c2"/>
<rect x="512.7" y="260.63" width="6.3" height="1.98" fill="#4877b9"/>
<rect x="512.7" y="262.51" width="6.3" height="0.7" fill="#7da2c6"/>
<rect x="512.7" y="263.11" width="6.3" height="1.67" fill="#9fbcc8"/>
<rect x="512.7" y="264.68" width="6.3" height="0.7" fill="#7da2c6"/>
<rect x="512.7" y="265.48" width="6.3" height="2.23" fill="#4070b0"/>
<rect x="512.7" y="267.62" width="6.3" height="2.59" fill="#5585c2"/>
<rect x="512.7" y="270.1" width="6.3" height="2.62" fill="#4070b0"/>
<rect x="512.7" y="272.62" width="6.3" height="0.92" fill="#4070b0"/>
<rect x="512.7" y="273.45" width="6.3" height="1.88" fill="#4272b4"/>
<rect x="512.7" y="275.23" width="6.3" height="0.7" fill="#7da2c6"/>
<rect x="512.7" y="275.83" width="6.3" height="2.43" fill="#8aadc8"/>
<rect x="512.7" y="278.16" width="6.3" height="0.7" fill="#7da2c6"/>
<rect x="512.7" y="278.96" width="6.3" height="0.7" fill="#7da2c6"/>
<rect x="512.7" y="279.56" width="6.3" height="2.47" fill="#8aadc8"/>
<rect x="512.7" y="281.93" width="6.3" height="0.7" fill="#7da2c6"/>
<rect x="512.7" y="282.73" width="6.3" height="2.98" fill="#4474b6"/>
<rect x="512.7" y="285.62" width="6.3" height="1.3" fill="#4070b0"/>
<rect x="512.7" y="286.82" width="6.3" height="2.03" fill="#5c8bc6"/>
<rect x="512.7" y="288.75" width="6.3" height="1.78" fill="#4877b9"/>
<rect x="512.7" y="290.43" width="6.3" height="2.25" fill="#5585c2"/>
<rect x="512.7" y="292.59" width="6.3" height="1.93" fill="#4b7cbc"/>
<rect x="512.7" y="294.41" width="6.3" height="2.05" fill="#5585c2"/>
<rect x="512.7" y="296.36" width="6.3" height="2.97" fill="#5c8bc6"/>
<rect x="512.7" y="299.24" width="6.3" height="2.6" fill="#4272b4"/>
<rect x="512.7" y="301.74" width="6.3" height="1.16" fill="#4070b0"/>
<rect x="512.7" y="302.8" width="6.3" height="1.44" fill="#5585c2"/>
<rect x="512.7" y="304.14" width="6.3" height="2.86" fill="#5585c2"/>
<rect x="512.7" y="306.9" width="6.3" height="1.43" fill="#4474b6"/>
<rect x="512.7" y="221.5" width="6.3" height="2.5" fill="#8fb0c6"/>
<rect x="512.7" y="222" width="6.3" height="1.5" fill="#c6d4bc"/>
<rect x="512.7" y="225.5" width="6.3" height="2" fill="#8fb0c6"/>
<rect x="512.7" y="226" width="6.3" height="1" fill="#b8ccbe"/>
<rect x="512.7" y="190" width="6.3" height="118" fill="url(#cyl)"/>
</g>
<rect x="512.7" y="190" width="6.3" height="118" rx="3.15" ry="3.15" fill="none" stroke="#93a0b0" stroke-width="0.45"/>
<clipPath id="c7"><rect x="536.6" y="197" width="6.3" height="111" rx="3.15" ry="3.15"/></clipPath>
<g clip-path="url(#c7)">
<rect x="536.6" y="197" width="6.3" height="111" fill="#4677b8"/>
<rect x="536.6" y="198.5" width="6.3" height="0.7" fill="#7da2c6"/>
<rect x="536.6" y="199.1" width="6.3" height="0.99" fill="#a9c2c4"/>
<rect x="536.6" y="199.99" width="6.3" height="0.7" fill="#7da2c6"/>
<rect x="536.6" y="200.79" width="6.3" height="1.42" fill="#4272b4"/>
<rect x="536.6" y="202.11" width="6.3" height="1.12" fill="#4877b9"/>
<rect x="536.6" y="203.13" width="6.3" height="1.03" fill="#5c8bc6"/>
<rect x="536.6" y="204.06" width="6.3" height="2.84" fill="#5585c2"/>
<rect x="536.6" y="206.8" width="6.3" height="2.09" fill="#4474b6"/>
<rect x="536.6" y="208.79" width="6.3" height="0.7" fill="#7da2c6"/>
<rect x="536.6" y="209.39" width="6.3" height="1.67" fill="#9fbcc8"/>
<rect x="536.6" y="210.96" width="6.3" height="0.7" fill="#7da2c6"/>
<rect x="536.6" y="211.76" width="6.3" height="1.35" fill="#5585c2"/>
<rect x="536.6" y="213.01" width="6.3" height="1.34" fill="#4272b4"/>
<rect x="536.6" y="214.25" width="6.3" height="0.98" fill="#4877b9"/>
<rect x="536.6" y="215.13" width="6.3" height="0.7" fill="#7da2c6"/>
<rect x="536.6" y="215.73" width="6.3" height="1.58" fill="#a9c2c4"/>
<rect x="536.6" y="217.21" width="6.3" height="0.7" fill="#7da2c6"/>
<rect x="536.6" y="218.01" width="6.3" height="2.93" fill="#4877b9"/>
<rect x="536.6" y="220.84" width="6.3" height="1.26" fill="#5585c2"/>
<rect x="536.6" y="222" width="6.3" height="1.98" fill="#4877b9"/>
<rect x="536.6" y="223.88" width="6.3" height="2.52" fill="#4877b9"/>
<rect x="536.6" y="226.3" width="6.3" height="1.08" fill="#4272b4"/>
<rect x="536.6" y="227.28" width="6.3" height="1.4" fill="#5585c2"/>
<rect x="536.6" y="228.59" width="6.3" height="0.7" fill="#7da2c6"/>
<rect x="536.6" y="229.19" width="6.3" height="1.5" fill="#a4bfc6"/>
<rect x="536.6" y="230.59" width="6.3" height="0.7" fill="#7da2c6"/>
<rect x="536.6" y="231.39" width="6.3" height="1.84" fill="#4272b4"/>
<rect x="536.6" y="233.13" width="6.3" height="0.92" fill="#4b7cbc"/>
<rect x="536.6" y="233.95" width="6.3" height="2.45" fill="#4272b4"/>
<rect x="536.6" y="236.29" width="6.3" height="1.19" fill="#5585c2"/>
<rect x="536.6" y="237.38" width="6.3" height="0.7" fill="#7da2c6"/>
<rect x="536.6" y="237.98" width="6.3" height="0.99" fill="#b6c9be"/>
<rect x="536.6" y="238.88" width="6.3" height="0.7" fill="#7da2c6"/>
<rect x="536.6" y="239.68" width="6.3" height="0.7" fill="#7da2c6"/>
<rect x="536.6" y="240.28" width="6.3" height="0.77" fill="#8aadc8"/>
<rect x="536.6" y="240.95" width="6.3" height="0.7" fill="#7da2c6"/>
<rect x="536.6" y="241.75" width="6.3" height="0.7" fill="#7da2c6"/>
<rect x="536.6" y="242.35" width="6.3" height="2.08" fill="#8aadc8"/>
<rect x="536.6" y="244.33" width="6.3" height="0.7" fill="#7da2c6"/>
<rect x="536.6" y="245.13" width="6.3" height="1.98" fill="#4474b6"/>
<rect x="536.6" y="247.01" width="6.3" height="1.61" fill="#4877b9"/>
<rect x="536.6" y="248.52" width="6.3" height="1.4" fill="#4070b0"/>
<rect x="536.6" y="249.81" width="6.3" height="1.72" fill="#4474b6"/>
<rect x="536.6" y="251.43" width="6.3" height="2.02" fill="#4877b9"/>
<rect x="536.6" y="253.35" width="6.3" height="1.67" fill="#5585c2"/>
<rect x="536.6" y="254.92" width="6.3" height="0.7" fill="#7da2c6"/>
<rect x="536.6" y="255.52" width="6.3" height="2.64" fill="#a9c2c4"/>
<rect x="536.6" y="258.06" width="6.3" height="0.7" fill="#7da2c6"/>
<rect x="536.6" y="258.86" width="6.3" height="1.14" fill="#4272b4"/>
<rect x="536.6" y="259.9" width="6.3" height="3.03" fill="#4474b6"/>
<rect x="536.6" y="262.83" width="6.3" height="2.61" fill="#4070b0"/>
<rect x="536.6" y="265.34" width="6.3" height="1.9" fill="#4272b4"/>
<rect x="536.6" y="267.14" width="6.3" height="1.85" fill="#5585c2"/>
<rect x="536.6" y="268.9" width="6.3" height="2.92" fill="#4877b9"/>
<rect x="536.6" y="271.71" width="6.3" height="1.36" fill="#4474b6"/>
<rect x="536.6" y="272.98" width="6.3" height="1.48" fill="#5c8bc6"/>
<rect x="536.6" y="274.35" width="6.3" height="1.73" fill="#4474b6"/>
<rect x="536.6" y="275.98" width="6.3" height="2.24" fill="#4474b6"/>
<rect x="536.6" y="278.12" width="6.3" height="0.91" fill="#4877b9"/>
<rect x="536.6" y="278.93" width="6.3" height="2.38" fill="#4474b6"/>
<rect x="536.6" y="281.21" width="6.3" height="1.39" fill="#4070b0"/>
<rect x="536.6" y="282.5" width="6.3" height="3" fill="#4b7cbc"/>
<rect x="536.6" y="285.4" width="6.3" height="1.87" fill="#4070b0"/>
<rect x="536.6" y="287.17" width="6.3" height="0.96" fill="#4070b0"/>
<rect x="536.6" y="288.03" width="6.3" height="1.46" fill="#4877b9"/>
<rect x="536.6" y="289.39" width="6.3" height="0.7" fill="#7da2c6"/>
<rect x="536.6" y="289.99" width="6.3" height="0.87" fill="#b6c9be"/>
<rect x="536.6" y="290.75" width="6.3" height="0.7" fill="#7da2c6"/>
<rect x="536.6" y="291.55" width="6.3" height="2.01" fill="#5c8bc6"/>
<rect x="536.6" y="293.46" width="6.3" height="2.56" fill="#4272b4"/>
<rect x="536.6" y="295.92" width="6.3" height="1.3" fill="#4b7cbc"/>
<rect x="536.6" y="297.11" width="6.3" height="1.04" fill="#4b7cbc"/>
<rect x="536.6" y="298.06" width="6.3" height="0.94" fill="#4272b4"/>
<rect x="536.6" y="298.9" width="6.3" height="1.6" fill="#5c8bc6"/>
<rect x="536.6" y="300.4" width="6.3" height="1.67" fill="#4877b9"/>
<rect x="536.6" y="301.97" width="6.3" height="2.27" fill="#5585c2"/>
<rect x="536.6" y="304.14" width="6.3" height="0.7" fill="#7da2c6"/>
<rect x="536.6" y="304.74" width="6.3" height="1.72" fill="#8aadc8"/>
<rect x="536.6" y="306.36" width="6.3" height="0.7" fill="#7da2c6"/>
<rect x="536.6" y="229.5" width="6.3" height="2" fill="#8fb0c6"/>
<rect x="536.6" y="230" width="6.3" height="1" fill="#b8ccbe"/>
<rect x="536.6" y="269.5" width="6.3" height="2" fill="#8fb0c6"/>
<rect x="536.6" y="270" width="6.3" height="1" fill="#c6d4bc"/>
<rect x="536.6" y="197" width="6.3" height="111" fill="url(#cyl)"/>
</g>
<rect x="536.6" y="197" width="6.3" height="111" rx="3.15" ry="3.15" fill="none" stroke="#93a0b0" stroke-width="0.45"/>
<clipPath id="c8"><rect x="561.5" y="230" width="6" height="78" rx="3" ry="3"/></clipPath>
<g clip-path="url(#c8)">
<rect x="561.5" y="230" width="6" height="78" fill="#4677b8"/>
<rect x="561.5" y="231.5" width="6" height="2.29" fill="#4474b6"/>
<rect x="561.5" y="233.69" width="6" height="1.95" fill="#4877b9"/>
<rect x="561.5" y="235.54" width="6" height="1.31" fill="#5c8bc6"/>
<rect x="561.5" y="236.75" width="6" height="2.98" fill="#5585c2"/>
<rect x="561.5" y="239.63" width="6" height="2.06" fill="#4070b0"/>
<rect x="561.5" y="241.59" width="6" height="2.38" fill="#4272b4"/>
<rect x="561.5" y="243.87" width="6" height="1.58" fill="#4070b0"/>
<rect x="561.5" y="245.35" width="6" height="2.53" fill="#4474b6"/>
<rect x="561.5" y="247.79" width="6" height="1.84" fill="#4474b6"/>
<rect x="561.5" y="249.53" width="6" height="1.6" fill="#4474b6"/>
<rect x="561.5" y="251.03" width="6" height="1.16" fill="#4272b4"/>
<rect x="561.5" y="252.09" width="6" height="2.85" fill="#4b7cbc"/>
<rect x="561.5" y="254.84" width="6" height="1.05" fill="#5585c2"/>
<rect x="561.5" y="255.79" width="6" height="0.7" fill="#7da2c6"/>
<rect x="561.5" y="256.39" width="6" height="2.24" fill="#b6c9be"/>
<rect x="561.5" y="258.52" width="6" height="0.7" fill="#7da2c6"/>
<rect x="561.5" y="259.32" width="6" height="1.6" fill="#5585c2"/>
<rect x="561.5" y="260.83" width="6" height="1.57" fill="#4070b0"/>
<rect x="561.5" y="262.3" width="6" height="2.41" fill="#4272b4"/>
<rect x="561.5" y="264.61" width="6" height="2.28" fill="#5c8bc6"/>
<rect x="561.5" y="266.79" width="6" height="1.17" fill="#4b7cbc"/>
<rect x="561.5" y="267.86" width="6" height="0.7" fill="#7da2c6"/>
<rect x="561.5" y="268.46" width="6" height="0.71" fill="#b6c9be"/>
<rect x="561.5" y="269.07" width="6" height="0.7" fill="#7da2c6"/>
<rect x="561.5" y="269.87" width="6" height="1.67" fill="#4474b6"/>
<rect x="561.5" y="271.44" width="6" height="2.34" fill="#4070b0"/>
<rect x="561.5" y="273.67" width="6" height="2.64" fill="#4877b9"/>
<rect x="561.5" y="276.21" width="6" height="2.63" fill="#5585c2"/>
<rect x="561.5" y="278.74" width="6" height="0.92" fill="#4070b0"/>
<rect x="561.5" y="279.56" width="6" height="2.62" fill="#4272b4"/>
<rect x="561.5" y="282.08" width="6" height="1.44" fill="#4877b9"/>
<rect x="561.5" y="283.41" width="6" height="2.49" fill="#4474b6"/>
<rect x="561.5" y="285.8" width="6" height="2.44" fill="#4b7cbc"/>
<rect x="561.5" y="288.15" width="6" height="2.5" fill="#4070b0"/>
<rect x="561.5" y="290.55" width="6" height="0.7" fill="#7da2c6"/>
<rect x="561.5" y="291.15" width="6" height="2.47" fill="#9fbcc8"/>
<rect x="561.5" y="293.52" width="6" height="0.7" fill="#7da2c6"/>
<rect x="561.5" y="294.32" width="6" height="1.52" fill="#5585c2"/>
<rect x="561.5" y="295.74" width="6" height="2.02" fill="#5585c2"/>
<rect x="561.5" y="297.66" width="6" height="2.27" fill="#4474b6"/>
<rect x="561.5" y="299.83" width="6" height="0.95" fill="#4070b0"/>
<rect x="561.5" y="300.67" width="6" height="3.01" fill="#4b7cbc"/>
<rect x="561.5" y="303.58" width="6" height="0.7" fill="#7da2c6"/>
<rect x="561.5" y="304.18" width="6" height="2.53" fill="#a9c2c4"/>
<rect x="561.5" y="306.61" width="6" height="0.7" fill="#7da2c6"/>
<rect x="561.5" y="287.5" width="6" height="2.5" fill="#8fb0c6"/>
<rect x="561.5" y="288" width="6" height="1.5" fill="#c6d4bc"/>
<rect x="561.5" y="299.5" width="6" height="3" fill="#8fb0c6"/>
<rect x="561.5" y="300" width="6" height="2" fill="#c6d4bc"/>
<rect x="561.5" y="230" width="6" height="78" fill="url(#cyl)"/>
</g>
<rect x="561.5" y="230" width="6" height="78" rx="3" ry="3" fill="none" stroke="#93a0b0" stroke-width="0.45"/>
<clipPath id="c9"><rect x="591" y="234" width="6" height="74" rx="3" ry="3"/></clipPath>
<g clip-path="url(#c9)">
<rect x="591" y="234" width="6" height="74" fill="#4677b8"/>
<rect x="591" y="235.5" width="6" height="2.19" fill="#4474b6"/>
<rect x="591" y="237.59" width="6" height="0.97" fill="#4070b0"/>
<rect x="591" y="238.45" width="6" height="2.99" fill="#4070b0"/>
<rect x="591" y="241.34" width="6" height="1.65" fill="#4877b9"/>
<rect x="591" y="242.89" width="6" height="1.24" fill="#5585c2"/>
<rect x="591" y="244.03" width="6" height="0.9" fill="#4b7cbc"/>
<rect x="591" y="244.84" width="6" height="1.09" fill="#4272b4"/>
<rect x="591" y="245.83" width="6" height="2.53" fill="#5c8bc6"/>
<rect x="591" y="248.25" width="6" height="2.66" fill="#4b7cbc"/>
<rect x="591" y="250.81" width="6" height="2.3" fill="#5585c2"/>
<rect x="591" y="253.02" width="6" height="1.37" fill="#4070b0"/>
<rect x="591" y="254.28" width="6" height="2.24" fill="#4877b9"/>
<rect x="591" y="256.42" width="6" height="2.1" fill="#4b7cbc"/>
<rect x="591" y="258.42" width="6" height="2.69" fill="#4877b9"/>
<rect x="591" y="261.01" width="6" height="1.06" fill="#4070b0"/>
<rect x="591" y="261.97" width="6" height="1.16" fill="#5585c2"/>
<rect x="591" y="263.03" width="6" height="1.34" fill="#4b7cbc"/>
<rect x="591" y="264.27" width="6" height="2.61" fill="#5585c2"/>
<rect x="591" y="266.77" width="6" height="2.9" fill="#4877b9"/>
<rect x="591" y="269.57" width="6" height="3.06" fill="#4070b0"/>
<rect x="591" y="272.53" width="6" height="1.7" fill="#4070b0"/>
<rect x="591" y="274.13" width="6" height="1.41" fill="#5585c2"/>
<rect x="591" y="275.44" width="6" height="2.91" fill="#4877b9"/>
<rect x="591" y="278.25" width="6" height="0.7" fill="#7da2c6"/>
<rect x="591" y="278.85" width="6" height="1.29" fill="#8aadc8"/>
<rect x="591" y="280.05" width="6" height="0.7" fill="#7da2c6"/>
<rect x="591" y="280.85" width="6" height="1.8" fill="#4474b6"/>
<rect x="591" y="282.54" width="6" height="2.07" fill="#5c8bc6"/>
<rect x="591" y="284.51" width="6" height="3.02" fill="#4877b9"/>
<rect x="591" y="287.44" width="6" height="1.9" fill="#4272b4"/>
<rect x="591" y="289.24" width="6" height="1.64" fill="#5585c2"/>
<rect x="591" y="290.78" width="6" height="1.31" fill="#4070b0"/>
<rect x="591" y="291.99" width="6" height="1.7" fill="#5585c2"/>
<rect x="591" y="293.59" width="6" height="0.7" fill="#7da2c6"/>
<rect x="591" y="294.19" width="6" height="1.93" fill="#a4bfc6"/>
<rect x="591" y="296.02" width="6" height="0.7" fill="#7da2c6"/>
<rect x="591" y="296.82" width="6" height="2.07" fill="#4272b4"/>
<rect x="591" y="298.79" width="6" height="0.7" fill="#7da2c6"/>
<rect x="591" y="299.39" width="6" height="1.7" fill="#9fbcc8"/>
<rect x="591" y="300.99" width="6" height="0.7" fill="#7da2c6"/>
<rect x="591" y="301.79" width="6" height="2.79" fill="#4877b9"/>
<rect x="591" y="304.48" width="6" height="1.22" fill="#5c8bc6"/>
<rect x="591" y="305.6" width="6" height="3.09" fill="#4b7cbc"/>
<rect x="591" y="261.5" width="6" height="2.2" fill="#8fb0c6"/>
<rect x="591" y="262" width="6" height="1.2" fill="#c6d4bc"/>
<rect x="591" y="234" width="6" height="74" fill="url(#cyl)"/>
</g>
<rect x="591" y="234" width="6" height="74" rx="3" ry="3" fill="none" stroke="#93a0b0" stroke-width="0.45"/>
<clipPath id="c10"><rect x="616.8" y="170" width="6.6" height="138" rx="3.3" ry="3.3"/></clipPath>
<g clip-path="url(#c10)">
<rect x="616.8" y="170" width="6.6" height="138" fill="#4677b8"/>
<rect x="616.8" y="171.5" width="6.6" height="2.55" fill="#5c8bc6"/>
<rect x="616.8" y="173.95" width="6.6" height="1.24" fill="#4070b0"/>
<rect x="616.8" y="175.09" width="6.6" height="2.15" fill="#5c8bc6"/>
<rect x="616.8" y="177.14" width="6.6" height="2.8" fill="#4474b6"/>
<rect x="616.8" y="179.84" width="6.6" height="1.71" fill="#5c8bc6"/>
<rect x="616.8" y="181.44" width="6.6" height="2.95" fill="#4272b4"/>
<rect x="616.8" y="184.29" width="6.6" height="3" fill="#4272b4"/>
<rect x="616.8" y="187.19" width="6.6" height="0.7" fill="#7da2c6"/>
<rect x="616.8" y="187.79" width="6.6" height="1.45" fill="#93b4c8"/>
<rect x="616.8" y="189.14" width="6.6" height="0.7" fill="#7da2c6"/>
<rect x="616.8" y="189.94" width="6.6" height="0.7" fill="#7da2c6"/>
<rect x="616.8" y="190.54" width="6.6" height="1.69" fill="#a4bfc6"/>
<rect x="616.8" y="192.13" width="6.6" height="0.7" fill="#7da2c6"/>
<rect x="616.8" y="192.93" width="6.6" height="0.7" fill="#7da2c6"/>
<rect x="616.8" y="193.53" width="6.6" height="0.86" fill="#b6c9be"/>
<rect x="616.8" y="194.29" width="6.6" height="0.7" fill="#7da2c6"/>
<rect x="616.8" y="195.09" width="6.6" height="2.14" fill="#4070b0"/>
<rect x="616.8" y="197.13" width="6.6" height="1.08" fill="#4b7cbc"/>
<rect x="616.8" y="198.12" width="6.6" height="2.38" fill="#4b7cbc"/>
<rect x="616.8" y="200.4" width="6.6" height="2.71" fill="#4474b6"/>
<rect x="616.8" y="203.01" width="6.6" height="1.77" fill="#4070b0"/>
<rect x="616.8" y="204.68" width="6.6" height="0.7" fill="#7da2c6"/>
<rect x="616.8" y="205.28" width="6.6" height="2.24" fill="#8aadc8"/>
<rect x="616.8" y="207.42" width="6.6" height="0.7" fill="#7da2c6"/>
<rect x="616.8" y="208.22" width="6.6" height="2.12" fill="#4272b4"/>
<rect x="616.8" y="210.24" width="6.6" height="2.73" fill="#5c8bc6"/>
<rect x="616.8" y="212.86" width="6.6" height="1.94" fill="#4272b4"/>
<rect x="616.8" y="214.71" width="6.6" height="2.78" fill="#4070b0"/>
<rect x="616.8" y="217.38" width="6.6" height="0.92" fill="#4877b9"/>
<rect x="616.8" y="218.2" width="6.6" height="1.44" fill="#4877b9"/>
<rect x="616.8" y="219.54" width="6.6" height="0.94" fill="#5c8bc6"/>
<rect x="616.8" y="220.38" width="6.6" height="0.7" fill="#7da2c6"/>
<rect x="616.8" y="220.98" width="6.6" height="2.6" fill="#9fbcc8"/>
<rect x="616.8" y="223.48" width="6.6" height="0.7" fill="#7da2c6"/>
<rect x="616.8" y="224.28" width="6.6" height="1.18" fill="#4070b0"/>
<rect x="616.8" y="225.36" width="6.6" height="0.92" fill="#4070b0"/>
<rect x="616.8" y="226.19" width="6.6" height="2.55" fill="#4474b6"/>
<rect x="616.8" y="228.64" width="6.6" height="1.54" fill="#4070b0"/>
<rect x="616.8" y="230.08" width="6.6" height="2.69" fill="#5c8bc6"/>
<rect x="616.8" y="232.67" width="6.6" height="2.05" fill="#4877b9"/>
<rect x="616.8" y="234.62" width="6.6" height="2.01" fill="#5585c2"/>
<rect x="616.8" y="236.53" width="6.6" height="1.54" fill="#5c8bc6"/>
<rect x="616.8" y="237.96" width="6.6" height="0.7" fill="#7da2c6"/>
<rect x="616.8" y="238.56" width="6.6" height="0.87" fill="#8aadc8"/>
<rect x="616.8" y="239.34" width="6.6" height="0.7" fill="#7da2c6"/>
<rect x="616.8" y="240.14" width="6.6" height="1.67" fill="#4070b0"/>
<rect x="616.8" y="241.71" width="6.6" height="3" fill="#4070b0"/>
<rect x="616.8" y="244.61" width="6.6" height="0.7" fill="#7da2c6"/>
<rect x="616.8" y="245.21" width="6.6" height="2" fill="#8aadc8"/>
<rect x="616.8" y="247.11" width="6.6" height="0.7" fill="#7da2c6"/>
<rect x="616.8" y="247.91" width="6.6" height="0.7" fill="#7da2c6"/>
<rect x="616.8" y="248.51" width="6.6" height="2.6" fill="#a4bfc6"/>
<rect x="616.8" y="251.01" width="6.6" height="0.7" fill="#7da2c6"/>
<rect x="616.8" y="251.81" width="6.6" height="2.38" fill="#4877b9"/>
<rect x="616.8" y="254.09" width="6.6" height="0.7" fill="#7da2c6"/>
<rect x="616.8" y="254.69" width="6.6" height="0.91" fill="#93b4c8"/>
<rect x="616.8" y="255.5" width="6.6" height="0.7" fill="#7da2c6"/>
<rect x="616.8" y="256.3" width="6.6" height="2.48" fill="#4272b4"/>
<rect x="616.8" y="258.68" width="6.6" height="3.1" fill="#4070b0"/>
<rect x="616.8" y="261.68" width="6.6" height="2.14" fill="#4272b4"/>
<rect x="616.8" y="263.72" width="6.6" height="2.68" fill="#5c8bc6"/>
<rect x="616.8" y="266.3" width="6.6" height="0.7" fill="#7da2c6"/>
<rect x="616.8" y="266.9" width="6.6" height="2.3" fill="#b6c9be"/>
<rect x="616.8" y="269.1" width="6.6" height="0.7" fill="#7da2c6"/>
<rect x="616.8" y="269.9" width="6.6" height="1.12" fill="#5c8bc6"/>
<rect x="616.8" y="270.91" width="6.6" height="2.62" fill="#5c8bc6"/>
<rect x="616.8" y="273.43" width="6.6" height="1.88" fill="#4474b6"/>
<rect x="616.8" y="275.21" width="6.6" height="1.22" fill="#4070b0"/>
<rect x="616.8" y="276.33" width="6.6" height="2.5" fill="#5c8bc6"/>
<rect x="616.8" y="278.73" width="6.6" height="2.01" fill="#4070b0"/>
<rect x="616.8" y="280.63" width="6.6" height="1.31" fill="#4070b0"/>
<rect x="616.8" y="281.85" width="6.6" height="0.7" fill="#7da2c6"/>
<rect x="616.8" y="282.45" width="6.6" height="1.77" fill="#8aadc8"/>
<rect x="616.8" y="284.12" width="6.6" height="0.7" fill="#7da2c6"/>
<rect x="616.8" y="284.92" width="6.6" height="2.44" fill="#4877b9"/>
<rect x="616.8" y="287.25" width="6.6" height="2.52" fill="#4474b6"/>
<rect x="616.8" y="289.67" width="6.6" height="1.39" fill="#4474b6"/>
<rect x="616.8" y="290.96" width="6.6" height="2.92" fill="#4272b4"/>
<rect x="616.8" y="293.77" width="6.6" height="1.01" fill="#5585c2"/>
<rect x="616.8" y="294.69" width="6.6" height="1.53" fill="#4272b4"/>
<rect x="616.8" y="296.12" width="6.6" height="2.59" fill="#4070b0"/>
<rect x="616.8" y="298.62" width="6.6" height="1.02" fill="#4272b4"/>
<rect x="616.8" y="299.53" width="6.6" height="1.84" fill="#5585c2"/>
<rect x="616.8" y="301.27" width="6.6" height="1.19" fill="#4474b6"/>
<rect x="616.8" y="302.37" width="6.6" height="0.7" fill="#7da2c6"/>
<rect x="616.8" y="302.97" width="6.6" height="1.68" fill="#93b4c8"/>
<rect x="616.8" y="304.55" width="6.6" height="0.7" fill="#7da2c6"/>
<rect x="616.8" y="305.35" width="6.6" height="1.62" fill="#4070b0"/>
<rect x="616.8" y="306.87" width="6.6" height="0.7" fill="#7da2c6"/>
<rect x="616.8" y="307.47" width="6.6" height="1.82" fill="#8aadc8"/>
<rect x="616.8" y="309.19" width="6.6" height="0.7" fill="#7da2c6"/>
<rect x="616.8" y="188" width="6.6" height="2.2" fill="#8fb0c6"/>
<rect x="616.8" y="188.5" width="6.6" height="1.2" fill="#f0b070"/>
<rect x="616.8" y="192.5" width="6.6" height="2.5" fill="#8fb0c6"/>
<rect x="616.8" y="193" width="6.6" height="1.5" fill="#c6d4bc"/>
<rect x="616.8" y="233.5" width="6.6" height="3" fill="#8fb0c6"/>
<rect x="616.8" y="234" width="6.6" height="2" fill="#f5d080"/>
<rect x="616.8" y="236.5" width="6.6" height="3" fill="#8fb0c6"/>
<rect x="616.8" y="237" width="6.6" height="2" fill="#f0e0a0"/>
<rect x="616.8" y="269.5" width="6.6" height="2.2" fill="#8fb0c6"/>
<rect x="616.8" y="270" width="6.6" height="1.2" fill="#c6d4bc"/>
<rect x="616.8" y="170" width="6.6" height="138" fill="url(#cyl)"/>
</g>
<rect x="616.8" y="170" width="6.6" height="138" rx="3.3" ry="3.3" fill="none" stroke="#93a0b0" stroke-width="0.45"/>
<clipPath id="c11"><rect x="641.8" y="192.4" width="6.2" height="115.6" rx="3.1" ry="3.1"/></clipPath>
<g clip-path="url(#c11)">
<rect x="641.8" y="192.4" width="6.2" height="115.6" fill="#4677b8"/>
<rect x="641.8" y="193.9" width="6.2" height="3.06" fill="#4474b6"/>
<rect x="641.8" y="196.86" width="6.2" height="2.64" fill="#4272b4"/>
<rect x="641.8" y="199.4" width="6.2" height="0.7" fill="#7da2c6"/>
<rect x="641.8" y="200" width="6.2" height="1.05" fill="#a4bfc6"/>
<rect x="641.8" y="200.95" width="6.2" height="0.7" fill="#7da2c6"/>
<rect x="641.8" y="201.75" width="6.2" height="2.34" fill="#5585c2"/>
<rect x="641.8" y="203.99" width="6.2" height="2.09" fill="#4877b9"/>
<rect x="641.8" y="205.98" width="6.2" height="1.98" fill="#4070b0"/>
<rect x="641.8" y="207.86" width="6.2" height="2.67" fill="#4b7cbc"/>
<rect x="641.8" y="210.43" width="6.2" height="1.17" fill="#4070b0"/>
<rect x="641.8" y="211.51" width="6.2" height="1.35" fill="#5585c2"/>
<rect x="641.8" y="212.75" width="6.2" height="2.45" fill="#5585c2"/>
<rect x="641.8" y="215.11" width="6.2" height="2.11" fill="#4272b4"/>
<rect x="641.8" y="217.11" width="6.2" height="1.75" fill="#4070b0"/>
<rect x="641.8" y="218.76" width="6.2" height="0.7" fill="#7da2c6"/>
<rect x="641.8" y="219.36" width="6.2" height="1.54" fill="#a9c2c4"/>
<rect x="641.8" y="220.8" width="6.2" height="0.7" fill="#7da2c6"/>
<rect x="641.8" y="221.6" width="6.2" height="1.36" fill="#4070b0"/>
<rect x="641.8" y="222.86" width="6.2" height="2.5" fill="#4474b6"/>
<rect x="641.8" y="225.26" width="6.2" height="2.24" fill="#4b7cbc"/>
<rect x="641.8" y="227.4" width="6.2" height="1.92" fill="#4877b9"/>
<rect x="641.8" y="229.22" width="6.2" height="3.07" fill="#4272b4"/>
<rect x="641.8" y="232.19" width="6.2" height="1.56" fill="#4877b9"/>
<rect x="641.8" y="233.65" width="6.2" height="0.7" fill="#7da2c6"/>
<rect x="641.8" y="234.25" width="6.2" height="2.15" fill="#9fbcc8"/>
<rect x="641.8" y="236.3" width="6.2" height="0.7" fill="#7da2c6"/>
<rect x="641.8" y="237.1" width="6.2" height="1.85" fill="#5c8bc6"/>
<rect x="641.8" y="238.86" width="6.2" height="2.27" fill="#5585c2"/>
<rect x="641.8" y="241.03" width="6.2" height="2.08" fill="#5c8bc6"/>
<rect x="641.8" y="243.01" width="6.2" height="1.12" fill="#4070b0"/>
<rect x="641.8" y="244.03" width="6.2" height="2.42" fill="#5585c2"/>
<rect x="641.8" y="246.35" width="6.2" height="2.6" fill="#4474b6"/>
<rect x="641.8" y="248.85" width="6.2" height="2.31" fill="#4070b0"/>
<rect x="641.8" y="251.06" width="6.2" height="1.51" fill="#5585c2"/>
<rect x="641.8" y="252.47" width="6.2" height="2.09" fill="#5c8bc6"/>
<rect x="641.8" y="254.45" width="6.2" height="2.88" fill="#5585c2"/>
<rect x="641.8" y="257.23" width="6.2" height="0.7" fill="#7da2c6"/>
<rect x="641.8" y="257.83" width="6.2" height="0.86" fill="#a4bfc6"/>
<rect x="641.8" y="258.59" width="6.2" height="0.7" fill="#7da2c6"/>
<rect x="641.8" y="259.39" width="6.2" height="1.56" fill="#4070b0"/>
<rect x="641.8" y="260.85" width="6.2" height="1.61" fill="#4b7cbc"/>
<rect x="641.8" y="262.36" width="6.2" height="0.7" fill="#7da2c6"/>
<rect x="641.8" y="262.96" width="6.2" height="1.56" fill="#93b4c8"/>
<rect x="641.8" y="264.42" width="6.2" height="0.7" fill="#7da2c6"/>
<rect x="641.8" y="265.22" width="6.2" height="1.28" fill="#4272b4"/>
<rect x="641.8" y="266.4" width="6.2" height="0.7" fill="#7da2c6"/>
<rect x="641.8" y="267" width="6.2" height="1.32" fill="#a4bfc6"/>
<rect x="641.8" y="268.22" width="6.2" height="0.7" fill="#7da2c6"/>
<rect x="641.8" y="269.02" width="6.2" height="0.97" fill="#4b7cbc"/>
<rect x="641.8" y="269.9" width="6.2" height="2.33" fill="#5585c2"/>
<rect x="641.8" y="272.13" width="6.2" height="1.43" fill="#4272b4"/>
<rect x="641.8" y="273.46" width="6.2" height="1.21" fill="#5585c2"/>
<rect x="641.8" y="274.57" width="6.2" height="1.93" fill="#4070b0"/>
<rect x="641.8" y="276.4" width="6.2" height="1.82" fill="#4272b4"/>
<rect x="641.8" y="278.12" width="6.2" height="0.7" fill="#7da2c6"/>
<rect x="641.8" y="278.72" width="6.2" height="2.61" fill="#8aadc8"/>
<rect x="641.8" y="281.23" width="6.2" height="0.7" fill="#7da2c6"/>
<rect x="641.8" y="282.03" width="6.2" height="2.18" fill="#5c8bc6"/>
<rect x="641.8" y="284.11" width="6.2" height="2.94" fill="#5c8bc6"/>
<rect x="641.8" y="286.95" width="6.2" height="0.7" fill="#7da2c6"/>
<rect x="641.8" y="287.55" width="6.2" height="1.91" fill="#a4bfc6"/>
<rect x="641.8" y="289.36" width="6.2" height="0.7" fill="#7da2c6"/>
<rect x="641.8" y="290.16" width="6.2" height="2.96" fill="#5c8bc6"/>
<rect x="641.8" y="293.02" width="6.2" height="1.22" fill="#5c8bc6"/>
<rect x="641.8" y="294.14" width="6.2" height="0.7" fill="#7da2c6"/>
<rect x="641.8" y="294.74" width="6.2" height="1.68" fill="#9fbcc8"/>
<rect x="641.8" y="296.32" width="6.2" height="0.7" fill="#7da2c6"/>
<rect x="641.8" y="297.12" width="6.2" height="0.94" fill="#4877b9"/>
<rect x="641.8" y="297.96" width="6.2" height="1.04" fill="#4070b0"/>
<rect x="641.8" y="298.91" width="6.2" height="2.33" fill="#4070b0"/>
<rect x="641.8" y="301.14" width="6.2" height="0.7" fill="#7da2c6"/>
<rect x="641.8" y="301.74" width="6.2" height="1.17" fill="#93b4c8"/>
<rect x="641.8" y="302.81" width="6.2" height="0.7" fill="#7da2c6"/>
<rect x="641.8" y="303.61" width="6.2" height="2.36" fill="#5c8bc6"/>
<rect x="641.8" y="305.87" width="6.2" height="0.7" fill="#7da2c6"/>
<rect x="641.8" y="306.47" width="6.2" height="0.75" fill="#a9c2c4"/>
<rect x="641.8" y="307.12" width="6.2" height="0.7" fill="#7da2c6"/>
<rect x="641.8" y="214.5" width="6.2" height="2.4" fill="#8fb0c6"/>
<rect x="641.8" y="215" width="6.2" height="1.4" fill="#c6d4bc"/>
<rect x="641.8" y="291.5" width="6.2" height="2.2" fill="#8fb0c6"/>
<rect x="641.8" y="292" width="6.2" height="1.2" fill="#c6d4bc"/>
<rect x="641.8" y="192.4" width="6.2" height="115.6" fill="url(#cyl)"/>
</g>
<rect x="641.8" y="192.4" width="6.2" height="115.6" rx="3.1" ry="3.1" fill="none" stroke="#93a0b0" stroke-width="0.45"/>
<clipPath id="c12"><rect x="664.7" y="208" width="6" height="100" rx="3" ry="3"/></clipPath>
<g clip-path="url(#c12)">
<rect x="664.7" y="208" width="6" height="100" fill="#4677b8"/>
<rect x="664.7" y="209.5" width="6" height="1.1" fill="#4877b9"/>
<rect x="664.7" y="210.5" width="6" height="2.54" fill="#5c8bc6"/>
<rect x="664.7" y="212.94" width="6" height="2.29" fill="#5585c2"/>
<rect x="664.7" y="215.13" width="6" height="2.64" fill="#5c8bc6"/>
<rect x="664.7" y="217.67" width="6" height="2.65" fill="#4070b0"/>
<rect x="664.7" y="220.22" width="6" height="1.83" fill="#4b7cbc"/>
<rect x="664.7" y="221.95" width="6" height="3.04" fill="#4474b6"/>
<rect x="664.7" y="224.89" width="6" height="0.7" fill="#7da2c6"/>
<rect x="664.7" y="225.49" width="6" height="0.85" fill="#93b4c8"/>
<rect x="664.7" y="226.24" width="6" height="0.7" fill="#7da2c6"/>
<rect x="664.7" y="227.04" width="6" height="1.69" fill="#5c8bc6"/>
<rect x="664.7" y="228.63" width="6" height="2.19" fill="#5585c2"/>
<rect x="664.7" y="230.72" width="6" height="2.16" fill="#4272b4"/>
<rect x="664.7" y="232.79" width="6" height="2.26" fill="#4877b9"/>
<rect x="664.7" y="234.95" width="6" height="0.92" fill="#5c8bc6"/>
<rect x="664.7" y="235.77" width="6" height="1.69" fill="#5c8bc6"/>
<rect x="664.7" y="237.36" width="6" height="0.95" fill="#5585c2"/>
<rect x="664.7" y="238.21" width="6" height="2.71" fill="#4272b4"/>
<rect x="664.7" y="240.82" width="6" height="2.87" fill="#4b7cbc"/>
<rect x="664.7" y="243.59" width="6" height="1.59" fill="#4b7cbc"/>
<rect x="664.7" y="245.08" width="6" height="2.92" fill="#4877b9"/>
<rect x="664.7" y="247.89" width="6" height="0.7" fill="#7da2c6"/>
<rect x="664.7" y="248.49" width="6" height="2.13" fill="#b6c9be"/>
<rect x="664.7" y="250.53" width="6" height="0.7" fill="#7da2c6"/>
<rect x="664.7" y="251.33" width="6" height="1.37" fill="#4877b9"/>
<rect x="664.7" y="252.6" width="6" height="1.87" fill="#4272b4"/>
<rect x="664.7" y="254.36" width="6" height="0.91" fill="#5c8bc6"/>
<rect x="664.7" y="255.17" width="6" height="1.88" fill="#4b7cbc"/>
<rect x="664.7" y="256.94" width="6" height="0.96" fill="#4b7cbc"/>
<rect x="664.7" y="257.81" width="6" height="0.7" fill="#7da2c6"/>
<rect x="664.7" y="258.41" width="6" height="1.96" fill="#a9c2c4"/>
<rect x="664.7" y="260.26" width="6" height="0.7" fill="#7da2c6"/>
<rect x="664.7" y="261.06" width="6" height="2.7" fill="#5585c2"/>
<rect x="664.7" y="263.66" width="6" height="2.17" fill="#4877b9"/>
<rect x="664.7" y="265.73" width="6" height="1.2" fill="#4272b4"/>
<rect x="664.7" y="266.83" width="6" height="1.84" fill="#4877b9"/>
<rect x="664.7" y="268.57" width="6" height="2.41" fill="#5585c2"/>
<rect x="664.7" y="270.88" width="6" height="2.14" fill="#4272b4"/>
<rect x="664.7" y="272.92" width="6" height="1.28" fill="#4070b0"/>
<rect x="664.7" y="274.1" width="6" height="1.33" fill="#5585c2"/>
<rect x="664.7" y="275.33" width="6" height="0.7" fill="#7da2c6"/>
<rect x="664.7" y="275.93" width="6" height="2.11" fill="#a9c2c4"/>
<rect x="664.7" y="277.93" width="6" height="0.7" fill="#7da2c6"/>
<rect x="664.7" y="278.73" width="6" height="2.44" fill="#5585c2"/>
<rect x="664.7" y="281.08" width="6" height="1.52" fill="#4877b9"/>
<rect x="664.7" y="282.49" width="6" height="0.7" fill="#7da2c6"/>
<rect x="664.7" y="283.09" width="6" height="2.05" fill="#8aadc8"/>
<rect x="664.7" y="285.04" width="6" height="0.7" fill="#7da2c6"/>
<rect x="664.7" y="285.84" width="6" height="3.03" fill="#5585c2"/>
<rect x="664.7" y="288.77" width="6" height="2.99" fill="#4877b9"/>
<rect x="664.7" y="291.66" width="6" height="0.96" fill="#4877b9"/>
<rect x="664.7" y="292.52" width="6" height="1.38" fill="#4474b6"/>
<rect x="664.7" y="293.8" width="6" height="1.69" fill="#4b7cbc"/>
<rect x="664.7" y="295.39" width="6" height="2.79" fill="#4272b4"/>
<rect x="664.7" y="298.08" width="6" height="1.97" fill="#4272b4"/>
<rect x="664.7" y="299.95" width="6" height="2.23" fill="#4877b9"/>
<rect x="664.7" y="302.08" width="6" height="2.34" fill="#4877b9"/>
<rect x="664.7" y="304.32" width="6" height="1.52" fill="#5585c2"/>
<rect x="664.7" y="305.74" width="6" height="0.7" fill="#7da2c6"/>
<rect x="664.7" y="306.34" width="6" height="2.45" fill="#a9c2c4"/>
<rect x="664.7" y="308.69" width="6" height="0.7" fill="#7da2c6"/>
<rect x="664.7" y="262.5" width="6" height="2.5" fill="#8fb0c6"/>
<rect x="664.7" y="263" width="6" height="1.5" fill="#d6deb6"/>
<rect x="664.7" y="295.5" width="6" height="2" fill="#8fb0c6"/>
<rect x="664.7" y="296" width="6" height="1" fill="#c6d4bc"/>
<rect x="664.7" y="208" width="6" height="100" fill="url(#cyl)"/>
</g>
<rect x="664.7" y="208" width="6" height="100" rx="3" ry="3" fill="none" stroke="#93a0b0" stroke-width="0.45"/>
<rect x="520.5" y="191.35" width="2.8" height="1.3" fill="#7a3fc4" rx="0.6"/>
<rect x="520.5" y="223.95" width="2.8" height="1.3" fill="#7a3fc4" rx="0.6"/>
<rect x="520.5" y="234.55" width="2.8" height="1.3" fill="#7a3fc4" rx="0.6"/>
<rect x="520.5" y="263.15" width="2.8" height="1.3" fill="#7a3fc4" rx="0.6"/>
<rect x="520.5" y="280.85" width="2.8" height="1.3" fill="#7a3fc4" rx="0.6"/>
<rect x="520.5" y="284.35" width="2.8" height="1.3" fill="#7a3fc4" rx="0.6"/>
<rect x="520.5" y="287.95" width="2.8" height="1.3" fill="#7a3fc4" rx="0.6"/>
<rect x="520.5" y="302.75" width="2.8" height="1.3" fill="#7a3fc4" rx="0.6"/>
<rect x="525" y="224" width="3.6" height="1.2" fill="#ec0c8c"/>
<rect x="525" y="252.6" width="3.6" height="1.2" fill="#ec0c8c"/>
<rect x="525" y="280.9" width="3.6" height="1.2" fill="#ec0c8c"/>
<rect x="525" y="283.9" width="3.6" height="1.2" fill="#ec0c8c"/>
<rect x="525" y="302.8" width="3.6" height="1.2" fill="#ec0c8c"/>
<rect x="544.5" y="227.75" width="2.8" height="1.3" fill="#7a3fc4" rx="0.6"/>
<rect x="544.5" y="230.35" width="2.8" height="1.3" fill="#7a3fc4" rx="0.6"/>
<rect x="544.5" y="232.35" width="2.8" height="1.3" fill="#7a3fc4" rx="0.6"/>
<rect x="544.5" y="235.75" width="2.8" height="1.3" fill="#7a3fc4" rx="0.6"/>
<rect x="544.5" y="266.35" width="2.8" height="1.3" fill="#7a3fc4" rx="0.6"/>
<rect x="544.5" y="297.95" width="2.8" height="1.3" fill="#7a3fc4" rx="0.6"/>
<rect x="550" y="235.8" width="3" height="1.2" fill="#ec0c8c"/>
<rect x="569" y="240.35" width="2.8" height="1.3" fill="#7a3fc4" rx="0.6"/>
<rect x="569" y="259.35" width="2.8" height="1.3" fill="#7a3fc4" rx="0.6"/>
<rect x="569" y="281.35" width="2.8" height="1.3" fill="#7a3fc4" rx="0.6"/>
<rect x="569" y="289.95" width="2.8" height="1.3" fill="#7a3fc4" rx="0.6"/>
<rect x="569" y="297.35" width="2.8" height="1.3" fill="#7a3fc4" rx="0.6"/>
<rect x="569" y="304.85" width="2.8" height="1.3" fill="#7a3fc4" rx="0.6"/>
<rect x="569" y="306.55" width="2.8" height="1.3" fill="#7a3fc4" rx="0.6"/>
<rect x="574.5" y="240.4" width="3.4" height="1.2" fill="#ec0c8c"/>
<rect x="574.5" y="259.4" width="3.4" height="1.2" fill="#ec0c8c"/>
<rect x="574.5" y="290" width="3.4" height="1.2" fill="#ec0c8c"/>
<rect x="574.5" y="291.9" width="3.4" height="1.2" fill="#ec0c8c"/>
<rect x="598.6" y="239.95" width="2.8" height="1.3" fill="#7a3fc4" rx="0.6"/>
<rect x="598.6" y="241.75" width="2.8" height="1.3" fill="#7a3fc4" rx="0.6"/>
<rect x="598.6" y="246.95" width="2.8" height="1.3" fill="#7a3fc4" rx="0.6"/>
<rect x="598.6" y="281.95" width="2.8" height="1.3" fill="#7a3fc4" rx="0.6"/>
<rect x="603.6" y="240" width="4.4" height="1.2" fill="#ec0c8c"/>
<rect x="603.6" y="241.8" width="4.4" height="1.2" fill="#ec0c8c"/>
<rect x="603.6" y="247" width="4.4" height="1.2" fill="#ec0c8c"/>
<rect x="603.6" y="282" width="4.4" height="1.2" fill="#ec0c8c"/>
<rect x="625" y="174.55" width="2.8" height="1.3" fill="#7a3fc4" rx="0.6"/>
<rect x="625" y="212.75" width="2.8" height="1.3" fill="#7a3fc4" rx="0.6"/>
<rect x="625" y="259.35" width="2.8" height="1.3" fill="#7a3fc4" rx="0.6"/>
<rect x="625" y="261.55" width="2.8" height="1.3" fill="#7a3fc4" rx="0.6"/>
<rect x="625" y="263.75" width="2.8" height="1.3" fill="#7a3fc4" rx="0.6"/>
<rect x="629" y="213.2" width="4.6" height="1.2" fill="#ec0c8c"/>
<rect x="649.4" y="218.95" width="2.8" height="1.3" fill="#7a3fc4" rx="0.6"/>
<rect x="649.4" y="221.95" width="2.8" height="1.3" fill="#7a3fc4" rx="0.6"/>
<rect x="649.4" y="282.35" width="2.8" height="1.3" fill="#7a3fc4" rx="0.6"/>
<rect x="649.4" y="289.75" width="2.8" height="1.3" fill="#7a3fc4" rx="0.6"/>
<rect x="649.4" y="292.75" width="2.8" height="1.3" fill="#7a3fc4" rx="0.6"/>
<rect x="649.4" y="301.95" width="2.8" height="1.3" fill="#7a3fc4" rx="0.6"/>
<rect x="649.4" y="307.95" width="2.8" height="1.3" fill="#7a3fc4" rx="0.6"/>
<rect x="654.8" y="219.4" width="3.6" height="1.2" fill="#ec0c8c"/>
<rect x="654.8" y="251.4" width="3.6" height="1.2" fill="#ec0c8c"/>
<rect x="654.8" y="288" width="3.6" height="1.2" fill="#ec0c8c"/>
<rect x="654.8" y="290.8" width="3.6" height="1.2" fill="#ec0c8c"/>
<rect x="654.8" y="293.4" width="3.6" height="1.2" fill="#ec0c8c"/>
<rect x="654.8" y="302" width="3.6" height="1.2" fill="#ec0c8c"/>
<rect x="672" y="213.95" width="2.8" height="1.3" fill="#7a3fc4" rx="0.6"/>
<rect x="672" y="227.95" width="2.8" height="1.3" fill="#7a3fc4" rx="0.6"/>
<rect x="672" y="268.95" width="2.8" height="1.3" fill="#7a3fc4" rx="0.6"/>
<rect x="672" y="291.35" width="2.8" height="1.3" fill="#7a3fc4" rx="0.6"/>
<rect x="672" y="302.95" width="2.8" height="1.3" fill="#7a3fc4" rx="0.6"/>
<rect x="677" y="228" width="3.6" height="1.2" fill="#ec0c8c"/>
<rect x="677" y="245.4" width="3.6" height="1.2" fill="#ec0c8c"/>
<rect x="677" y="291.4" width="3.6" height="1.2" fill="#ec0c8c"/>
<rect x="677" y="303" width="3.6" height="1.2" fill="#ec0c8c"/>
<line x1="520" y1="192" x2="541" y2="197" stroke="#1a1a1a" stroke-width="0.9"/>
<line x1="541" y1="197" x2="569.7" y2="286.7" stroke="#1a1a1a" stroke-width="1.1"/>
<line x1="541.4" y1="197" x2="570" y2="286.4" stroke="#ec0c8c" stroke-width="0.5"/>
<line x1="569.7" y1="286.7" x2="593" y2="278.6" stroke="#1a1a1a" stroke-width="0.9"/>
<line x1="569.7" y1="286.7" x2="620" y2="307.8" stroke="#1a1a1a" stroke-width="0.9"/>
<line x1="569.7" y1="287.2" x2="620" y2="308.3" stroke="#ec0c8c" stroke-width="0.5" stroke-dasharray="3 6"/>
<line x1="651" y1="291.6" x2="667.5" y2="273" stroke="#1a1a1a" stroke-width="0.9"/>
<text x="524.2" y="190" font-size="11.6" font-style="italic" stroke="#1a1a1a" transform="rotate(12 524.2 190)">x6</text>
<text x="653.6" y="284.6" font-size="11.6" font-style="italic" stroke="#1a1a1a" transform="rotate(-47 653.6 284.6)">x2</text>
<polygon points="544.6,191.5 545.22,193.15 546.98,193.23 545.6,194.32 546.07,196.02 544.6,195.05 543.13,196.02 543.6,194.32 542.22,193.23 543.98,193.15" fill="#ec0c8c"/>
<polygon points="534,198.5 534.62,200.15 536.38,200.23 535,201.32 535.47,203.02 534,202.05 532.53,203.02 533,201.32 531.62,200.23 533.38,200.15" fill="#1aa7e0"/>
<text x="490.5" y="317.7" font-size="8.6" font-style="italic" stroke="#1a1a1a">chr</text>
<text x="516" y="317.82" font-size="8.4" text-anchor="middle" stroke="#1a1a1a">4</text>
<text x="540" y="317.82" font-size="8.4" text-anchor="middle" stroke="#1a1a1a">6</text>
<text x="565.3" y="317.82" font-size="8.4" text-anchor="middle" stroke="#1a1a1a">15</text>
<text x="594.6" y="317.82" font-size="8.4" text-anchor="middle" stroke="#1a1a1a">16</text>
<text x="620.3" y="317.82" font-size="8.4" text-anchor="middle" stroke="#1a1a1a">2</text>
<text x="645.2" y="317.82" font-size="8.4" text-anchor="middle" stroke="#1a1a1a">5</text>
<text x="667.8" y="317.82" font-size="8.4" text-anchor="middle" stroke="#1a1a1a">8</text>
<line x1="504" y1="320.6" x2="678" y2="320.6" stroke="#777" stroke-width="0.6"/>
<text x="509.5" y="330.02" font-size="9.5" stroke="#1a1a1a" textLength="163.5" lengthAdjust="spacingAndGlyphs">RBS DNA:DNA interactions (HiC)</text>
<text x="356.6" y="347.27" font-size="16.3" stroke="#1a1a1a">H</text>
<text x="403" y="346.44" font-size="12.9" stroke="#1a1a1a" textLength="157" lengthAdjust="spacingAndGlyphs">inter-chr interaction (HiC):</text>
<polygon points="563,334.4 563.84,336.64 566.23,336.75 564.36,338.24 565,340.55 563,339.23 561,340.55 561.64,338.24 559.77,336.75 562.16,336.64" fill="#ec0c8c"/>
<text x="564.8" y="346.44" font-size="12.9" font-style="italic" stroke="#1a1a1a" textLength="75.2" lengthAdjust="spacingAndGlyphs">chr6-3.15Mb</text>
<rect x="408.5" y="354" width="201.5" height="9.2" fill="#fdf0a4"/>
<text x="412" y="360.56" font-size="6" stroke="#1a1a1a" textLength="195" lengthAdjust="spacingAndGlyphs"><tspan font-weight="bold" fill="#4a3fa0" stroke="#4a3fa0">chr4-RBS-1, chr15-RBS-3</tspan><tspan>, chr13-3.0Mb, chr16-11.2Mb/57.4Mb</tspan></text>
<text x="395.5" y="375.86" font-size="13.5" stroke="#1a1a1a" textLength="58.5" lengthAdjust="spacingAndGlyphs">HiC loops</text>
<text x="426.7" y="387.26" font-size="9.6" stroke="#1a1a1a" textLength="27.3" lengthAdjust="spacingAndGlyphs">±20kb</text>
<text x="470.5" y="370.3" font-size="3.6" stroke="#1a1a1a" textLength="9.5" lengthAdjust="spacingAndGlyphs" style="stroke-width:.08px">Scale</text>
<text x="472" y="374.9" font-size="3.6" stroke="#1a1a1a" textLength="8" lengthAdjust="spacingAndGlyphs" style="stroke-width:.08px">chr6:</text>
<text x="551.5" y="369.42" font-size="3.4" stroke="#1a1a1a" textLength="8.9" lengthAdjust="spacingAndGlyphs" style="stroke-width:.08px">1 Mb</text>
<line x1="561" y1="368" x2="639.7" y2="368" stroke="#aaa" stroke-width="0.4"/>
<line x1="561" y1="366.8" x2="561" y2="369.4" stroke="#555" stroke-width="0.4"/>
<line x1="639.7" y1="366.8" x2="639.7" y2="369.4" stroke="#555" stroke-width="0.4"/>
<text x="641" y="369.42" font-size="3.4" stroke="#1a1a1a" textLength="8.5" lengthAdjust="spacingAndGlyphs" style="stroke-width:.08px">mm9</text>
<text x="500.5" y="375.86" font-size="3.5" stroke="#1a1a1a" textLength="19.5" lengthAdjust="spacingAndGlyphs" style="stroke-width:.08px">3,500,000|</text>
<text x="540" y="375.86" font-size="3.5" stroke="#1a1a1a" textLength="20" lengthAdjust="spacingAndGlyphs" style="stroke-width:.08px">4,000,000|</text>
<text x="580" y="375.86" font-size="3.5" stroke="#1a1a1a" textLength="20" lengthAdjust="spacingAndGlyphs" style="stroke-width:.08px">4,500,000|</text>
<text x="619" y="375.86" font-size="3.5" stroke="#1a1a1a" textLength="20" lengthAdjust="spacingAndGlyphs" style="stroke-width:.08px">5,000,000|</text>
<text x="659" y="375.86" font-size="3.5" stroke="#1a1a1a" textLength="20" lengthAdjust="spacingAndGlyphs" style="stroke-width:.08px">5,500,000|</text>
<rect x="491.7" y="365" width="6.3" height="11.4" fill="#ffff33"/>
<rect x="502" y="365" width="6" height="11.4" fill="#ffff33"/>
<line x1="486.7" y1="365" x2="486.7" y2="376.6" stroke="#1a1a1a" stroke-width="0.9"/>
<path d="M486.7 376.6 L540 377 L671.5 382.6" fill="none" stroke="#222" stroke-width="0.6"/>
<line x1="486.7" y1="376.6" x2="480" y2="381" stroke="#222" stroke-width="0.6"/>
<text x="461.7" y="385.73" font-size="4.8" stroke="#1a1a1a" textLength="18.3" lengthAdjust="spacingAndGlyphs" style="stroke-width:.08px">Scale</text>
<text x="463.5" y="391.73" font-size="4.8" stroke="#1a1a1a" textLength="16.5" lengthAdjust="spacingAndGlyphs" style="stroke-width:.08px">chr6:</text>
<text x="527.7" y="385.73" font-size="4.8" stroke="#1a1a1a" textLength="12.5" lengthAdjust="spacingAndGlyphs" style="stroke-width:.08px">1 kb</text>
<line x1="541" y1="383.8" x2="618.5" y2="383.8" stroke="#999" stroke-width="0.5"/>
<line x1="541" y1="382" x2="541" y2="385.6" stroke="#555" stroke-width="0.5"/>
<line x1="618.5" y1="382" x2="618.5" y2="385.6" stroke="#555" stroke-width="0.5"/>
<text x="621" y="385.73" font-size="4.8" stroke="#1a1a1a" textLength="16" lengthAdjust="spacingAndGlyphs" style="stroke-width:.08px">mm9</text>
<line x1="486.7" y1="388" x2="486.7" y2="392.6" stroke="#555" stroke-width="0.5"/>
<text x="492" y="392.47" font-size="5.2" stroke="#1a1a1a" textLength="33" lengthAdjust="spacingAndGlyphs" style="stroke-width:.08px">3,151,000|</text>
<text x="531" y="392.47" font-size="5.2" stroke="#1a1a1a" textLength="34" lengthAdjust="spacingAndGlyphs" style="stroke-width:.08px">3,151,500|</text>
<text x="569" y="392.47" font-size="5.2" stroke="#1a1a1a" textLength="34" lengthAdjust="spacingAndGlyphs" style="stroke-width:.08px">3,152,000|</text>
<text x="607.7" y="392.47" font-size="5.2" stroke="#1a1a1a" textLength="34.3" lengthAdjust="spacingAndGlyphs" style="stroke-width:.08px">3,152,500|</text>
<line x1="671.5" y1="394" x2="671.5" y2="520" stroke="#999" stroke-width="0.6"/>
<line x1="481.5" y1="394" x2="481.5" y2="520" stroke="#fbe6e8" stroke-width="0.5"/>
<text x="438.8" y="408.17" font-size="13.8" text-anchor="end" fill="#ee3338" stroke="#ee3338">Sox2</text>
<text x="440.5" y="400.9" font-size="8.5" stroke="#1a1a1a"><tspan font-style="italic">Evf2</tspan><tspan font-style="italic" font-size="4.93" dy="-2.55">+/+</tspan></text>
<text x="440.5" y="413.5" font-size="8.5" stroke="#1a1a1a"><tspan font-style="italic">Evf2</tspan><tspan font-style="italic" font-size="4.93" dy="-2.55">TS/TS</tspan></text>
<path d="M563 404.2 L562.99 404.2 L563.56 404.2 L563.56 403.66 L564.12 403.66 L564.12 403.14 L564.68 403.14 L564.68 402.58 L565.24 402.58 L565.24 401.91 L565.8 401.91 L565.8 400.91 L566.36 400.91 L566.36 400.2 L566.92 400.2 L566.92 399.36 L567.48 399.36 L567.48 398.21 L568.04 398.21 L568.04 397.38 L568.6 397.38 L568.6 396.34 L569.16 396.34 L569.16 396.12 L569.72 396.12 L569.72 395.8 L570.28 395.8 L570.28 395.79 L570.84 395.79 L570.84 396.3 L571.4 396.3 L571.4 397.19 L571.96 397.19 L571.96 397.83 L572.52 397.83 L572.52 399.21 L573.08 399.21 L573.08 400.56 L573.64 400.56 L573.64 401.55 L574.2 401.55 L574.2 402.01 L574.76 402.01 L574.76 402.45 L575.32 402.45 L575.32 402.98 L575.88 402.98 L575.88 403.43 L576.44 403.43 L576.44 403.79 L577 403.79 L577 404.2 L577 404.2Z" fill="#ff0000"/>
<path d="M566 415.6 L565.99 415.6 L566.55 415.6 L566.55 415.06 L567.09 415.06 L567.09 414.52 L567.64 414.52 L567.64 414.11 L568.18 414.11 L568.18 413.73 L568.73 413.73 L568.73 413.38 L569.27 413.38 L569.27 413.4 L569.82 413.4 L569.82 413.74 L570.36 413.74 L570.36 414.31 L570.91 414.31 L570.91 414.7 L571.45 414.7 L571.45 415.15 L572 415.15 L572 415.6 L572 415.6Z" fill="#ff0000"/>
<text x="673" y="400.05" font-size="5.7" fill="#ee4a4a" stroke="#ee4a4a" style="stroke-width:0">85</text>
<text x="673" y="406.05" font-size="5.7" fill="#ee4a4a" stroke="#ee4a4a" style="stroke-width:0">1.3</text>
<text x="673" y="412.05" font-size="5.7" fill="#ee4a4a" stroke="#ee4a4a" style="stroke-width:0">85</text>
<text x="673" y="418.05" font-size="5.7" fill="#ee4a4a" stroke="#ee4a4a" style="stroke-width:0">1.3</text>
<text x="438.8" y="432.17" font-size="13.8" text-anchor="end" fill="#1fa03c" stroke="#1fa03c">Dlx</text>
<text x="440.5" y="425.5" font-size="8.5" stroke="#1a1a1a"><tspan font-style="italic">Evf2</tspan><tspan font-style="italic" font-size="4.93" dy="-2.55">+/+</tspan></text>
<text x="440.5" y="437.3" font-size="8.5" stroke="#1a1a1a"><tspan font-style="italic">Evf2</tspan><tspan font-style="italic" font-size="4.93" dy="-2.55">TS/TS</tspan></text>
<path d="M570 428 L569.99 428 L570.54 428 L570.54 426.25 L571.08 426.25 L571.08 424.28 L571.62 424.28 L571.62 422.55 L572.17 422.55 L572.17 420.53 L572.71 420.53 L572.71 419.54 L573.25 419.54 L573.25 419.58 L573.79 419.58 L573.79 420.03 L574.33 420.03 L574.33 421.55 L574.88 421.55 L574.88 422.62 L575.42 422.62 L575.42 424.3 L575.96 424.3 L575.96 426.17 L576.5 426.17 L576.5 428 L576.5 428Z" fill="#0b7a0b"/>
<rect x="572" y="438.6" width="2.2" height="0.9" fill="#4caf50"/>
<text x="673" y="424.65" font-size="5.7" fill="#1f9a3a" stroke="#1f9a3a" style="stroke-width:0">125</text>
<text x="673" y="430.25" font-size="5.7" fill="#1f9a3a" stroke="#1f9a3a" style="stroke-width:0">1.3</text>
<text x="673" y="436.25" font-size="5.7" fill="#1f9a3a" stroke="#1f9a3a" style="stroke-width:0">125</text>
<text x="673" y="442.05" font-size="5.7" fill="#1f9a3a" stroke="#1f9a3a" style="stroke-width:0">1.3</text>
<text x="438.8" y="457.57" font-size="13.8" text-anchor="end" fill="#2b6cb4" stroke="#2b6cb4">Smarca4</text>
<text x="440.5" y="450.1" font-size="8.5" stroke="#1a1a1a"><tspan font-style="italic">Evf2</tspan><tspan font-style="italic" font-size="4.93" dy="-2.55">+/+</tspan></text>
<text x="440.5" y="462.9" font-size="8.5" stroke="#1a1a1a"><tspan font-style="italic">Evf2</tspan><tspan font-style="italic" font-size="4.93" dy="-2.55">TS/TS</tspan></text>
<path d="M565 453 L564.99 453 L565.56 453 L565.56 451.96 L566.11 451.96 L566.11 450.72 L566.67 450.72 L566.67 449.56 L567.22 449.56 L567.22 448.61 L567.78 448.61 L567.78 446.89 L568.33 446.89 L568.33 445.41 L568.89 445.41 L568.89 445.37 L569.44 445.37 L569.44 445.15 L570 445.15 L570 445.04 L570.56 445.04 L570.56 445.06 L571.11 445.06 L571.11 445.14 L571.67 445.14 L571.67 445.45 L572.22 445.45 L572.22 446.02 L572.78 446.02 L572.78 447.12 L573.33 447.12 L573.33 448.3 L573.89 448.3 L573.89 449.81 L574.44 449.81 L574.44 451.38 L575 451.38 L575 453 L575 453Z" fill="#0000ee"/>
<rect x="565" y="452.6" width="10" height="0.5" fill="#113"/>
<text x="673" y="450.05" font-size="5.7" fill="#3a5fc8" stroke="#3a5fc8" style="stroke-width:0">25</text>
<text x="673" y="455.85" font-size="5.7" fill="#3a5fc8" stroke="#3a5fc8" style="stroke-width:0">1.3</text>
<text x="673" y="462.05" font-size="5.7" fill="#3a5fc8" stroke="#3a5fc8" style="stroke-width:0">25</text>
<text x="673" y="467.85" font-size="5.7" fill="#3a5fc8" stroke="#3a5fc8" style="stroke-width:0">1.3</text>
<text x="438.8" y="483.17" font-size="13.8" text-anchor="end" fill="#a550c8" stroke="#a550c8">Smarcc2</text>
<text x="440.5" y="475.9" font-size="8.5" stroke="#1a1a1a"><tspan font-style="italic">Evf2</tspan><tspan font-style="italic" font-size="4.93" dy="-2.55">+/+</tspan></text>
<text x="440.5" y="488.5" font-size="8.5" stroke="#1a1a1a"><tspan font-style="italic">Evf2</tspan><tspan font-style="italic" font-size="4.93" dy="-2.55">TS/TS</tspan></text>
<path d="M562 479 L561.99 479 L562.56 479 L562.56 478.33 L563.12 478.33 L563.12 477.62 L563.67 477.62 L563.67 477.02 L564.23 477.02 L564.23 476.26 L564.79 476.26 L564.79 475.62 L565.35 475.62 L565.35 475.01 L565.9 475.01 L565.9 474.31 L566.46 474.31 L566.46 473.42 L567.02 473.42 L567.02 472.65 L567.58 472.65 L567.58 471.86 L568.13 471.86 L568.13 471.44 L568.69 471.44 L568.69 470.65 L569.25 470.65 L569.25 470.31 L569.81 470.31 L569.81 471.08 L570.37 471.08 L570.37 471.83 L570.92 471.83 L570.92 472.63 L571.48 472.63 L571.48 473.32 L572.04 473.32 L572.04 474.29 L572.6 474.29 L572.6 475.07 L573.15 475.07 L573.15 475.85 L573.71 475.85 L573.71 476.5 L574.27 476.5 L574.27 477.22 L574.83 477.22 L574.83 477.8 L575.38 477.8 L575.38 478.2 L575.94 478.2 L575.94 478.59 L576.5 478.59 L576.5 479 L576.5 479Z" fill="#8a2be2"/>
<rect x="566.5" y="491.4" width="7.5" height="0.6" fill="#b070f0"/>
<text x="673" y="475.05" font-size="5.7" fill="#b04fd0" stroke="#b04fd0" style="stroke-width:0">1215</text>
<text x="673" y="480.85" font-size="5.7" fill="#b04fd0" stroke="#b04fd0" style="stroke-width:0">1.3</text>
<text x="673" y="487.05" font-size="5.7" fill="#b04fd0" stroke="#b04fd0" style="stroke-width:0">1215</text>
<text x="673" y="492.85" font-size="5.7" fill="#b04fd0" stroke="#b04fd0" style="stroke-width:0">1.3</text>
<text x="438.8" y="508.77" font-size="13.8" text-anchor="end" fill="#22c0a0" stroke="#22c0a0">Nono</text>
<text x="440.5" y="502.3" font-size="8.5" stroke="#1a1a1a"><tspan font-style="italic">Evf2</tspan><tspan font-style="italic" font-size="4.93" dy="-2.55">+/+</tspan></text>
<text x="440.5" y="514.1" font-size="8.5" stroke="#1a1a1a"><tspan font-style="italic">Evf2</tspan><tspan font-style="italic" font-size="4.93" dy="-2.55">TS/TS</tspan></text>
<path d="M570 504.2 L569.99 504.2 L570.54 504.2 L570.54 502.5 L571.08 502.5 L571.08 501.07 L571.62 501.07 L571.62 499.24 L572.17 499.24 L572.17 497.37 L572.71 497.37 L572.71 496.12 L573.25 496.12 L573.25 496.8 L573.79 496.8 L573.79 497.22 L574.33 497.22 L574.33 498.18 L574.88 498.18 L574.88 499.12 L575.42 499.12 L575.42 500.14 L575.96 500.14 L575.96 502.33 L576.5 502.33 L576.5 504.2 L576.5 504.2Z" fill="#1dbdbd"/>
<rect x="572" y="515.6" width="3" height="0.8" fill="#1dbdbd"/>
<text x="673" y="500.85" font-size="5.7" fill="#22b8a8" stroke="#22b8a8" style="stroke-width:0">65</text>
<text x="673" y="506.65" font-size="5.7" fill="#22b8a8" stroke="#22b8a8" style="stroke-width:0">1.3</text>
<text x="673" y="512.65" font-size="5.7" fill="#22b8a8" stroke="#22b8a8" style="stroke-width:0">65</text>
<text x="673" y="518.25" font-size="5.7" fill="#22b8a8" stroke="#22b8a8" style="stroke-width:0">1.3</text>
<text x="373.8" y="458.4" font-size="13.7" text-anchor="middle" stroke="#1a1a1a" transform="rotate(-90 373.8 458.4)">(RNP hotspot)</text>
<text x="357.3" y="542.27" font-size="16.3" stroke="#1a1a1a">I</text>
<text x="395.5" y="538.44" font-size="12.9" stroke="#1a1a1a" textLength="253.5" lengthAdjust="spacingAndGlyphs"><tspan>inter-chr interaction (HiC): </tspan><tspan font-style="italic">chr2-181.65Mb</tspan></text>
<rect x="589" y="545" width="95.5" height="9.2" fill="#fdf0a4"/>
<text x="592" y="551.76" font-size="6" stroke="#1a1a1a" textLength="90" lengthAdjust="spacingAndGlyphs"><tspan font-weight="bold" fill="#4a3fa0" stroke="#4a3fa0">chr15-RBS-3</tspan><tspan>, chr16-111.5Mb</tspan></text>
<text x="396.7" y="568.66" font-size="13.5" stroke="#1a1a1a" textLength="58.8" lengthAdjust="spacingAndGlyphs">HiC loops</text>
<text x="428" y="579.46" font-size="9.6" stroke="#1a1a1a" textLength="27.5" lengthAdjust="spacingAndGlyphs">±20kb</text>
<text x="470.5" y="562.73" font-size="4.8" stroke="#1a1a1a" textLength="17.5" lengthAdjust="spacingAndGlyphs" style="stroke-width:.08px">Scale</text>
<text x="474" y="568.53" font-size="4.8" stroke="#1a1a1a" textLength="14" lengthAdjust="spacingAndGlyphs" style="stroke-width:.08px">chr2:</text>
<text x="521" y="562.93" font-size="4.8" stroke="#1a1a1a" textLength="15.2" lengthAdjust="spacingAndGlyphs" style="stroke-width:.08px">1 Mb</text>
<line x1="537" y1="561" x2="634" y2="561" stroke="#999" stroke-width="0.5"/>
<line x1="537" y1="559.2" x2="537" y2="562.8" stroke="#555" stroke-width="0.5"/>
<line x1="634" y1="559.2" x2="634" y2="562.8" stroke="#555" stroke-width="0.5"/>
<text x="636" y="562.93" font-size="4.8" stroke="#1a1a1a" textLength="15.5" lengthAdjust="spacingAndGlyphs" style="stroke-width:.08px">mm9</text>
<line x1="513" y1="564.6" x2="513" y2="568.6" stroke="#555" stroke-width="0.5"/>
<text x="522.7" y="568.67" font-size="5.2" stroke="#1a1a1a" textLength="38.8" lengthAdjust="spacingAndGlyphs" style="stroke-width:.08px">180,500,000|</text>
<text x="571.5" y="568.67" font-size="5.2" stroke="#1a1a1a" textLength="38.5" lengthAdjust="spacingAndGlyphs" style="stroke-width:.08px">181,000,000|</text>
<text x="620" y="568.67" font-size="5.2" stroke="#1a1a1a" textLength="39" lengthAdjust="spacingAndGlyphs" style="stroke-width:.08px">181,500,000|</text>
<rect x="611.2" y="558" width="1.8" height="11" fill="#ffef20"/>
<rect x="672" y="556" width="1.6" height="13.4" fill="#a09820"/>
<line x1="673.8" y1="556" x2="673.8" y2="577" stroke="#333" stroke-width="0.5"/>
<path d="M674 570 L600 571.6 L484 577" fill="none" stroke="#222" stroke-width="0.6"/>
<text x="464" y="581.73" font-size="4.8" stroke="#1a1a1a" textLength="17.7" lengthAdjust="spacingAndGlyphs" style="stroke-width:.08px">Scale</text>
<text x="467.5" y="587.73" font-size="4.8" stroke="#1a1a1a" textLength="14.2" lengthAdjust="spacingAndGlyphs" style="stroke-width:.08px">chr2:</text>
<text x="538" y="581.33" font-size="4.8" stroke="#1a1a1a" textLength="13.9" lengthAdjust="spacingAndGlyphs" style="stroke-width:.08px">5 kb</text>
<line x1="552.7" y1="579.4" x2="600" y2="579.4" stroke="#999" stroke-width="0.5"/>
<line x1="552.7" y1="577.6" x2="552.7" y2="581.2" stroke="#555" stroke-width="0.5"/>
<line x1="600" y1="577.6" x2="600" y2="581.2" stroke="#555" stroke-width="0.5"/>
<text x="602.7" y="581.33" font-size="4.8" stroke="#1a1a1a" textLength="16.3" lengthAdjust="spacingAndGlyphs" style="stroke-width:.08px">mm9</text>
<line x1="500" y1="584" x2="500" y2="588.6" stroke="#555" stroke-width="0.5"/>
<text x="506.7" y="588.07" font-size="5.2" stroke="#1a1a1a" textLength="34.8" lengthAdjust="spacingAndGlyphs" style="stroke-width:.08px">181,655,000|</text>
<text x="554.7" y="588.07" font-size="5.2" stroke="#1a1a1a" textLength="41.8" lengthAdjust="spacingAndGlyphs" style="stroke-width:.08px">181,660,000|</text>
<text x="602.7" y="588.07" font-size="5.2" stroke="#1a1a1a" textLength="42" lengthAdjust="spacingAndGlyphs" style="stroke-width:.08px">181,665,000|</text>
<line x1="673.5" y1="590" x2="673.5" y2="714" stroke="#999" stroke-width="0.6"/>
<line x1="484.5" y1="590" x2="484.5" y2="714" stroke="#fbe6e8" stroke-width="0.5"/>
<text x="440.6" y="602.17" font-size="13.8" text-anchor="end" fill="#ee3338" stroke="#ee3338">Sox2</text>
<text x="442" y="595.5" font-size="8.5" stroke="#1a1a1a"><tspan font-style="italic">Evf2</tspan><tspan font-style="italic" font-size="4.93" dy="-2.55">+/+</tspan></text>
<text x="442" y="608.5" font-size="8.5" stroke="#1a1a1a"><tspan font-style="italic">Evf2</tspan><tspan font-style="italic" font-size="4.93" dy="-2.55">TS/TS</tspan></text>
<path d="M521.4 598.2V595.2M522.6 598.2V591.2M523.6 598.2V594.2M524.6 598.2V591.7M525.6 598.2V596.2M526.8 598.2V597.2" stroke="#ff0000" stroke-width="0.9" fill="none"/>
<path d="M629.6 598.2V597.4M632.4 598.2V595.8M633.6 598.2V595M634.8 598.2V596.8" stroke="#ff0000" stroke-width="0.9" fill="none"/>
<path d="M522.8 609.2V603.8M523.8 609.2V606.2M524.8 609.2V607.6M526 609.2V608.2" stroke="#ff0000" stroke-width="0.9" fill="none"/>
<path d="M630 609.2V608.2M632.8 609.2V603.6M634 609.2V608" stroke="#ff0000" stroke-width="0.9" fill="none"/>
<text x="675" y="594.65" font-size="5.7" fill="#ee4a4a" stroke="#ee4a4a" style="stroke-width:0">380</text>
<text x="675" y="600.25" font-size="5.7" fill="#ee4a4a" stroke="#ee4a4a" style="stroke-width:0">1.3</text>
<text x="675" y="606.65" font-size="5.7" fill="#ee4a4a" stroke="#ee4a4a" style="stroke-width:0">380</text>
<text x="675" y="612.25" font-size="5.7" fill="#ee4a4a" stroke="#ee4a4a" style="stroke-width:0">1.3</text>
<text x="440.6" y="626.17" font-size="13.8" text-anchor="end" fill="#1fa03c" stroke="#1fa03c">Dlx</text>
<text x="442" y="618.7" font-size="8.5" stroke="#1a1a1a"><tspan font-style="italic">Evf2</tspan><tspan font-style="italic" font-size="4.93" dy="-2.55">+/+</tspan></text>
<text x="442" y="631.7" font-size="8.5" stroke="#1a1a1a"><tspan font-style="italic">Evf2</tspan><tspan font-style="italic" font-size="4.93" dy="-2.55">TS/TS</tspan></text>
<path d="M523 623V622M525.6 623V618M526.6 623V620M527.6 623V619.4M528.8 623V620.6" stroke="#0b7a0b" stroke-width="0.9" fill="none"/>
<path d="M629.6 623V622M632.4 623V619.4M633.6 623V622" stroke="#0b7a0b" stroke-width="0.9" fill="none"/>
<path d="M649 623V621M650.2 623V620.2M651.6 623V622M655.6 623V622.2M657.6 623V622.2" stroke="#0b7a0b" stroke-width="0.9" fill="none"/>
<path d="M522.6 634.6V628M523.6 634.6V627M524.6 634.6V629.6M525.6 634.6V627.4M526.6 634.6V630.6M527.6 634.6V626.6M528.6 634.6V632.6" stroke="#0b7a0b" stroke-width="0.9" fill="none"/>
<path d="M627.4 634.6V632M628.6 634.6V630.6M630.4 634.6V629M632.6 634.6V626.6M633.6 634.6V630.6M634.8 634.6V632.6" stroke="#0b7a0b" stroke-width="0.9" fill="none"/>
<path d="M649.6 634.6V633.8M655.6 634.6V633.8" stroke="#7fc97f" stroke-width="0.9" fill="none"/>
<text x="675" y="618.85" font-size="5.7" fill="#1f9a3a" stroke="#1f9a3a" style="stroke-width:0">100</text>
<text x="675" y="624.25" font-size="5.7" fill="#1f9a3a" stroke="#1f9a3a" style="stroke-width:0">1.3</text>
<text x="675" y="630.25" font-size="5.7" fill="#1f9a3a" stroke="#1f9a3a" style="stroke-width:0">100</text>
<text x="675" y="635.85" font-size="5.7" fill="#1f9a3a" stroke="#1f9a3a" style="stroke-width:0">1.3</text>
<text x="440.6" y="651.17" font-size="13.8" text-anchor="end" fill="#2b6cb4" stroke="#2b6cb4">Smarca4</text>
<text x="442" y="644.1" font-size="8.5" stroke="#1a1a1a"><tspan font-style="italic">Evf2</tspan><tspan font-style="italic" font-size="4.93" dy="-2.55">+/+</tspan></text>
<text x="442" y="656.9" font-size="8.5" stroke="#1a1a1a"><tspan font-style="italic">Evf2</tspan><tspan font-style="italic" font-size="4.93" dy="-2.55">TS/TS</tspan></text>
<path d="M520.6 648.4V647.4M522.8 648.4V647M524.2 648.4V646.2M525.4 648.4V647.4M527.2 648.4V647M532.6 648.4V647.2M533.6 648.4V646.8" stroke="#0000ee" stroke-width="0.9" fill="none"/>
<path d="M626.6 648.4V647M630.6 648.4V647.2M632.4 648.4V645M633.4 648.4V643.4M634.4 648.4V642.4M635.4 648.4V640" stroke="#0000ee" stroke-width="0.9" fill="none"/>
<path d="M649.6 648.4V647.2M650.6 648.4V647.6" stroke="#0000ee" stroke-width="0.9" fill="none"/>
<path d="M520.4 660.2V659.3M537.4 660.2V659.3" stroke="#5050f0" stroke-width="0.8" fill="none"/>
<text x="675" y="644.05" font-size="5.7" fill="#3a5fc8" stroke="#3a5fc8" style="stroke-width:0">100</text>
<text x="675" y="649.65" font-size="5.7" fill="#3a5fc8" stroke="#3a5fc8" style="stroke-width:0">1.3</text>
<text x="675" y="655.85" font-size="5.7" fill="#3a5fc8" stroke="#3a5fc8" style="stroke-width:0">100</text>
<text x="675" y="662.05" font-size="5.7" fill="#3a5fc8" stroke="#3a5fc8" style="stroke-width:0">1.3</text>
<text x="440.6" y="676.17" font-size="13.8" text-anchor="end" fill="#a550c8" stroke="#a550c8">Smarcc2</text>
<text x="442" y="669.7" font-size="8.5" stroke="#1a1a1a"><tspan font-style="italic">Evf2</tspan><tspan font-style="italic" font-size="4.93" dy="-2.55">+/+</tspan></text>
<text x="442" y="682.9" font-size="8.5" stroke="#1a1a1a"><tspan font-style="italic">Evf2</tspan><tspan font-style="italic" font-size="4.93" dy="-2.55">TS/TS</tspan></text>
<path d="M520.6 673.4V668.4M521.6 673.4V670.4M522.8 673.4V664.8M523.8 673.4V669.4M524.8 673.4V666.4M525.8 673.4V664M526.8 673.4V664.6M527.8 673.4V671.4" stroke="#8a2be2" stroke-width="0.9" fill="none"/>
<path d="M629.6 673.4V672.4M632.8 673.4V671.2M633.8 673.4V672.4" stroke="#8a2be2" stroke-width="0.9" fill="none"/>
<path d="M522.6 685.8V681.8M523.6 685.8V677.4M524.6 685.8V678.8M525.6 685.8V677.8M526.6 685.8V680.2M527.6 685.8V681.8M528.6 685.8V682.8M529.6 685.8V684.4" stroke="#8a2be2" stroke-width="0.9" fill="none"/>
<path d="M629.6 685.8V685M631.2 685.8V685M633 685.8V684.8" stroke="#8a2be2" stroke-width="0.9" fill="none"/>
<rect x="643" y="685.2" width="14.6" height="0.6" fill="#333"/>
<path d="M645.6 685.8V684.6M648 685.8V684.2M650.2 685.8V678.8M651.2 685.8V683.8M655 685.8V684.6" stroke="#8a2be2" stroke-width="0.9" fill="none"/>
<text x="675" y="669.05" font-size="5.7" fill="#b04fd0" stroke="#b04fd0" style="stroke-width:0">240</text>
<text x="675" y="675.05" font-size="5.7" fill="#b04fd0" stroke="#b04fd0" style="stroke-width:0">1.3</text>
<text x="675" y="681.05" font-size="5.7" fill="#b04fd0" stroke="#b04fd0" style="stroke-width:0">240</text>
<text x="675" y="687.05" font-size="5.7" fill="#b04fd0" stroke="#b04fd0" style="stroke-width:0">1.3</text>
<text x="440.6" y="702.57" font-size="13.8" text-anchor="end" fill="#22c0a0" stroke="#22c0a0">Nono</text>
<text x="442" y="695.9" font-size="8.5" stroke="#1a1a1a"><tspan font-style="italic">Evf2</tspan><tspan font-style="italic" font-size="4.93" dy="-2.55">+/+</tspan></text>
<text x="442" y="707.9" font-size="8.5" stroke="#1a1a1a"><tspan font-style="italic">Evf2</tspan><tspan font-style="italic" font-size="4.93" dy="-2.55">TS/TS</tspan></text>
<path d="M520.6 699.2V693.2M521.6 699.2V696.2M522.6 699.2V694.2M523.6 699.2V696.6M524.6 699.2V694.6M525.6 699.2V696.2M526.6 699.2V692M527.6 699.2V697.2" stroke="#1dbdbd" stroke-width="0.9" fill="none"/>
<rect x="626" y="698.6" width="8.6" height="0.6" fill="#6aa"/>
<path d="M628.6 699.2V696.2M629.6 699.2V694.6M631.6 699.2V697.2M633.2 699.2V694.2" stroke="#1dbdbd" stroke-width="0.9" fill="none"/>
<path d="M643.6 699.2V698M645.6 699.2V697.6M650.2 699.2V697.2M652.6 699.2V698.3M654.6 699.2V698.3M656.6 699.2V698.3" stroke="#1dbdbd" stroke-width="0.9" fill="none"/>
<path d="M523.6 710.8V709.2M524.6 710.8V708.6M525.6 710.8V707.8M526.6 710.8V707.4M527.6 710.8V708.2M528.6 710.8V709.8" stroke="#1dbdbd" stroke-width="0.9" fill="none"/>
<path d="M632.6 710.8V707.6" stroke="#1dbdbd" stroke-width="0.9" fill="none"/>
<text x="675" y="695.05" font-size="5.7" fill="#22b8a8" stroke="#22b8a8" style="stroke-width:0">300</text>
<text x="675" y="700.85" font-size="5.7" fill="#22b8a8" stroke="#22b8a8" style="stroke-width:0">1.3</text>
<text x="675" y="707.05" font-size="5.7" fill="#22b8a8" stroke="#22b8a8" style="stroke-width:0">300</text>
<text x="675" y="712.85" font-size="5.7" fill="#22b8a8" stroke="#22b8a8" style="stroke-width:0">1.3</text>
<text x="374.8" y="644" font-size="13.7" text-anchor="middle" stroke="#1a1a1a" transform="rotate(-90 374.8 644)">(RNP hotspot)</text>
<text x="357.3" y="739.27" font-size="16.3" stroke="#1a1a1a">J</text>
<text x="400" y="735.24" font-size="12.9" stroke="#1a1a1a" textLength="246.5" lengthAdjust="spacingAndGlyphs"><tspan>inter-chr interaction (HiC): </tspan><tspan font-style="italic">chr16-57.4MB</tspan></text>
<rect x="488.7" y="742.5" width="178.5" height="9.4" fill="#fdf0a4"/>
<text x="491.5" y="749.36" font-size="6" stroke="#1a1a1a" textLength="172.5" lengthAdjust="spacingAndGlyphs"><tspan font-weight="bold" fill="#4a3fa0" stroke="#4a3fa0">chr15-RBS-3</tspan><tspan>, chr6-3.15Mb, chr3-58.7Mb, chr9-123.4Mb</tspan></text>
<text x="395.5" y="763.66" font-size="13.5" stroke="#1a1a1a" textLength="58.2" lengthAdjust="spacingAndGlyphs">HiC loops</text>
<text x="426.7" y="774.46" font-size="9.6" stroke="#1a1a1a" textLength="27.3" lengthAdjust="spacingAndGlyphs">±20kb</text>
<text x="463.5" y="758.53" font-size="4.8" stroke="#1a1a1a" textLength="17" lengthAdjust="spacingAndGlyphs" style="stroke-width:.08px">Scale</text>
<text x="461.5" y="764.73" font-size="4.8" stroke="#1a1a1a" textLength="19" lengthAdjust="spacingAndGlyphs" style="stroke-width:.08px">chr16:</text>
<text x="513.5" y="758.13" font-size="4.8" stroke="#1a1a1a" textLength="15.2" lengthAdjust="spacingAndGlyphs" style="stroke-width:.08px">1 Mb</text>
<line x1="529.5" y1="756.2" x2="626.5" y2="756.2" stroke="#999" stroke-width="0.5"/>
<line x1="529.5" y1="754.4" x2="529.5" y2="758" stroke="#555" stroke-width="0.5"/>
<line x1="626.5" y1="754.4" x2="626.5" y2="758" stroke="#555" stroke-width="0.5"/>
<text x="629" y="758.13" font-size="4.8" stroke="#1a1a1a" textLength="15.7" lengthAdjust="spacingAndGlyphs" style="stroke-width:.08px">mm9</text>
<line x1="492" y1="760.6" x2="492" y2="765" stroke="#555" stroke-width="0.5"/>
<text x="505.5" y="764.87" font-size="5.2" stroke="#1a1a1a" textLength="35.5" lengthAdjust="spacingAndGlyphs" style="stroke-width:.08px">57,000,000|</text>
<text x="554" y="764.87" font-size="5.2" stroke="#1a1a1a" textLength="36" lengthAdjust="spacingAndGlyphs" style="stroke-width:.08px">57,500,000|</text>
<text x="602.7" y="764.87" font-size="5.2" stroke="#1a1a1a" textLength="35.3" lengthAdjust="spacingAndGlyphs" style="stroke-width:.08px">58,000,000|</text>
<rect x="577" y="753.7" width="1.8" height="11.8" fill="#8a8a20"/>
<rect x="577.4" y="753.7" width="0.8" height="11.8" fill="#dddd30"/>
<path d="M481.7 773.7 L578 765.6 L672.7 773.7" fill="none" stroke="#222" stroke-width="0.6"/>
<text x="463.5" y="778.73" font-size="4.8" stroke="#1a1a1a" textLength="17.5" lengthAdjust="spacingAndGlyphs" style="stroke-width:.08px">Scale</text>
<text x="461.5" y="785.53" font-size="4.8" stroke="#1a1a1a" textLength="19.5" lengthAdjust="spacingAndGlyphs" style="stroke-width:.08px">chr16:</text>
<text x="521.5" y="778.73" font-size="4.8" stroke="#1a1a1a" textLength="12.7" lengthAdjust="spacingAndGlyphs" style="stroke-width:.08px">1 kb</text>
<line x1="535" y1="776.8" x2="614.7" y2="776.8" stroke="#999" stroke-width="0.5"/>
<line x1="535" y1="775" x2="535" y2="778.6" stroke="#555" stroke-width="0.5"/>
<line x1="614.7" y1="775" x2="614.7" y2="778.6" stroke="#555" stroke-width="0.5"/>
<text x="617" y="778.73" font-size="4.8" stroke="#1a1a1a" textLength="16.5" lengthAdjust="spacingAndGlyphs" style="stroke-width:.08px">mm9</text>
<line x1="516.5" y1="781.6" x2="516.5" y2="786" stroke="#555" stroke-width="0.5"/>
<text x="518.5" y="785.67" font-size="5.2" stroke="#1a1a1a" textLength="38" lengthAdjust="spacingAndGlyphs" style="stroke-width:.08px">57,391,500|</text>
<text x="557" y="785.67" font-size="5.2" stroke="#1a1a1a" textLength="38" lengthAdjust="spacingAndGlyphs" style="stroke-width:.08px">57,392,000|</text>
<text x="596" y="785.67" font-size="5.2" stroke="#1a1a1a" textLength="39" lengthAdjust="spacingAndGlyphs" style="stroke-width:.08px">57,392,500|</text>
<line x1="671.5" y1="786" x2="671.5" y2="912" stroke="#999" stroke-width="0.6"/>
<line x1="481.5" y1="786" x2="481.5" y2="912" stroke="#fbe6e8" stroke-width="0.5"/>
<text x="438.8" y="799.57" font-size="13.8" text-anchor="end" fill="#ee3338" stroke="#ee3338">Sox2</text>
<text x="440.5" y="792.9" font-size="8.5" stroke="#1a1a1a"><tspan font-style="italic">Evf2</tspan><tspan font-style="italic" font-size="4.93" dy="-2.55">+/+</tspan></text>
<text x="440.5" y="804.9" font-size="8.5" stroke="#1a1a1a"><tspan font-style="italic">Evf2</tspan><tspan font-style="italic" font-size="4.93" dy="-2.55">TS/TS</tspan></text>
<path d="M567 796.8 L566.99 796.8 L567.54 796.8 L567.54 796.49 L568.08 796.49 L568.08 796.19 L568.62 796.19 L568.62 795.87 L569.17 795.87 L569.17 795.55 L569.71 795.55 L569.71 795.09 L570.25 795.09 L570.25 794.63 L570.79 794.63 L570.79 794.15 L571.33 794.15 L571.33 793.51 L571.87 793.51 L571.87 792.66 L572.41 792.66 L572.41 791.96 L572.96 791.96 L572.96 791.12 L573.5 791.12 L573.5 790.13 L574.04 790.13 L574.04 789.26 L574.58 789.26 L574.58 788 L575.12 788 L575.12 788.06 L575.66 788.06 L575.66 788.82 L576.2 788.82 L576.2 789.37 L576.74 789.37 L576.74 790.39 L577.29 790.39 L577.29 791.12 L577.83 791.12 L577.83 792.03 L578.37 792.03 L578.37 792.88 L578.91 792.88 L578.91 793.71 L579.45 793.71 L579.45 794.26 L579.99 794.26 L579.99 794.71 L580.53 794.71 L580.53 795.24 L581.08 795.24 L581.08 795.67 L581.62 795.67 L581.62 796.05 L582.16 796.05 L582.16 796.42 L582.7 796.42 L582.7 796.8 L582.7 796.8Z" fill="#ff0000"/>
<path d="M571.5 806.8 L571.49 806.8 L572.05 806.8 L572.05 806.26 L572.61 806.26 L572.61 805.73 L573.16 805.73 L573.16 805.19 L573.71 805.19 L573.71 804.52 L574.26 804.52 L574.26 803.84 L574.82 803.84 L574.82 803.09 L575.37 803.09 L575.37 802.52 L575.92 802.52 L575.92 801.94 L576.47 801.94 L576.47 801.38 L577.03 801.38 L577.03 801.55 L577.58 801.55 L577.58 802.29 L578.13 802.29 L578.13 802.92 L578.68 802.92 L578.68 803.59 L579.24 803.59 L579.24 804.06 L579.79 804.06 L579.79 804.68 L580.34 804.68 L580.34 805.19 L580.89 805.19 L580.89 805.73 L581.45 805.73 L581.45 806.25 L582 806.25 L582 806.8 L582 806.8Z" fill="#ff0000"/>
<text x="673" y="792.05" font-size="5.7" fill="#ee4a4a" stroke="#ee4a4a" style="stroke-width:0">1781</text>
<text x="673" y="798.05" font-size="5.7" fill="#ee4a4a" stroke="#ee4a4a" style="stroke-width:0">1.3</text>
<text x="673" y="804.05" font-size="5.7" fill="#ee4a4a" stroke="#ee4a4a" style="stroke-width:0">1781</text>
<text x="673" y="809.25" font-size="5.7" fill="#ee4a4a" stroke="#ee4a4a" style="stroke-width:0">1.3</text>
<text x="438.8" y="823.17" font-size="13.8" text-anchor="end" fill="#1fa03c" stroke="#1fa03c">Dlx</text>
<text x="440.5" y="816.5" font-size="8.5" stroke="#1a1a1a"><tspan font-style="italic">Evf2</tspan><tspan font-style="italic" font-size="4.93" dy="-2.55">+/+</tspan></text>
<text x="440.5" y="828.5" font-size="8.5" stroke="#1a1a1a"><tspan font-style="italic">Evf2</tspan><tspan font-style="italic" font-size="4.93" dy="-2.55">TS/TS</tspan></text>
<path d="M572 819.8 L571.99 819.8 L572.56 819.8 L572.56 818.77 L573.11 818.77 L573.11 817.75 L573.67 817.75 L573.67 816.52 L574.22 816.52 L574.22 815.02 L574.78 815.02 L574.78 813.62 L575.33 813.62 L575.33 811.93 L575.89 811.93 L575.89 810.25 L576.44 810.25 L576.44 809.43 L577 809.43 L577 810.63 L577.56 810.63 L577.56 812.06 L578.11 812.06 L578.11 813.47 L578.67 813.47 L578.67 815.24 L579.22 815.24 L579.22 816.73 L579.78 816.73 L579.78 817.6 L580.33 817.6 L580.33 818.4 L580.89 818.4 L580.89 818.99 L581.44 818.99 L581.44 819.39 L582 819.39 L582 819.8 L582 819.8Z" fill="#0b7a0b"/>
<path d="M572.7 832 L572.69 832 L573.26 832 L573.26 831.46 L573.82 831.46 L573.82 830.94 L574.38 830.94 L574.38 830.42 L574.95 830.42 L574.95 829.85 L575.51 829.85 L575.51 829.37 L576.07 829.37 L576.07 829.5 L576.63 829.5 L576.63 829.64 L577.19 829.64 L577.19 829.94 L577.75 829.94 L577.75 830.36 L578.32 830.36 L578.32 830.71 L578.88 830.71 L578.88 831.14 L579.44 831.14 L579.44 831.58 L580 831.58 L580 832 L580 832Z" fill="#0b7a0b"/>
<text x="673" y="815.05" font-size="5.7" fill="#1f9a3a" stroke="#1f9a3a" style="stroke-width:0">781</text>
<text x="673" y="820.85" font-size="5.7" fill="#1f9a3a" stroke="#1f9a3a" style="stroke-width:0">1.3</text>
<text x="673" y="827.05" font-size="5.7" fill="#1f9a3a" stroke="#1f9a3a" style="stroke-width:0">781</text>
<text x="673" y="833.05" font-size="5.7" fill="#1f9a3a" stroke="#1f9a3a" style="stroke-width:0">1.3</text>
<text x="438.8" y="849.17" font-size="13.8" text-anchor="end" fill="#2b6cb4" stroke="#2b6cb4">Smarca4</text>
<text x="440.5" y="841.1" font-size="8.5" stroke="#1a1a1a"><tspan font-style="italic">Evf2</tspan><tspan font-style="italic" font-size="4.93" dy="-2.55">+/+</tspan></text>
<text x="440.5" y="854.1" font-size="8.5" stroke="#1a1a1a"><tspan font-style="italic">Evf2</tspan><tspan font-style="italic" font-size="4.93" dy="-2.55">TS/TS</tspan></text>
<path d="M570 845.6 L569.99 845.6 L570.55 845.6 L570.55 845.04 L571.1 845.04 L571.1 844.5 L571.64 844.5 L571.64 843.91 L572.19 843.91 L572.19 843.4 L572.74 843.4 L572.74 842.71 L573.29 842.71 L573.29 842.07 L573.83 842.07 L573.83 841.22 L574.38 841.22 L574.38 840.26 L574.93 840.26 L574.93 838.35 L575.48 838.35 L575.48 836.52 L576.02 836.52 L576.02 836.38 L576.57 836.38 L576.57 838.28 L577.12 838.28 L577.12 839.96 L577.67 839.96 L577.67 840.9 L578.21 840.9 L578.21 841.96 L578.76 841.96 L578.76 842.8 L579.31 842.8 L579.31 843.6 L579.86 843.6 L579.86 844.32 L580.4 844.32 L580.4 844.83 L580.95 844.83 L580.95 845.22 L581.5 845.22 L581.5 845.6 L581.5 845.6Z" fill="#0000ee"/>
<rect x="569" y="845.1" width="12.5" height="0.5" fill="#113"/>
<path d="M573 857.2 L572.99 857.2 L573.57 857.2 L573.57 856.85 L574.13 856.85 L574.13 856.48 L574.7 856.48 L574.7 856.11 L575.27 856.11 L575.27 855.79 L575.83 855.79 L575.83 855.44 L576.4 855.44 L576.4 855.08 L576.97 855.08 L576.97 855.15 L577.53 855.15 L577.53 855.33 L578.1 855.33 L578.1 855.47 L578.67 855.47 L578.67 855.68 L579.23 855.68 L579.23 855.9 L579.8 855.9 L579.8 856.12 L580.37 856.12 L580.37 856.49 L580.93 856.49 L580.93 856.83 L581.5 856.83 L581.5 857.2 L581.5 857.2Z" fill="#0000ee"/>
<line x1="463" y1="836.4" x2="481" y2="836.4" stroke="#9a9af0" stroke-width="0.5" stroke-dasharray="1.5 1.2"/>
<line x1="470" y1="849.2" x2="481.5" y2="849.2" stroke="#9a9af0" stroke-width="0.5" stroke-dasharray="1.5 1.2"/>
<text x="673" y="841.25" font-size="5.7" fill="#3a5fc8" stroke="#3a5fc8" style="stroke-width:0">1150</text>
<text x="673" y="846.85" font-size="5.7" fill="#3a5fc8" stroke="#3a5fc8" style="stroke-width:0">1.3</text>
<text x="673" y="853.05" font-size="5.7" fill="#3a5fc8" stroke="#3a5fc8" style="stroke-width:0">1150</text>
<text x="673" y="859.05" font-size="5.7" fill="#3a5fc8" stroke="#3a5fc8" style="stroke-width:0">1.3</text>
<text x="438.8" y="874.17" font-size="13.8" text-anchor="end" fill="#a550c8" stroke="#a550c8">Smarcc2</text>
<text x="440.5" y="866.9" font-size="8.5" stroke="#1a1a1a"><tspan font-style="italic">Evf2</tspan><tspan font-style="italic" font-size="4.93" dy="-2.55">+/+</tspan></text>
<text x="440.5" y="879.7" font-size="8.5" stroke="#1a1a1a"><tspan font-style="italic">Evf2</tspan><tspan font-style="italic" font-size="4.93" dy="-2.55">TS/TS</tspan></text>
<path d="M563 870.6 L562.99 870.6 L563.55 870.6 L563.55 870.02 L564.09 870.02 L564.09 869.4 L564.64 869.4 L564.64 868.88 L565.18 868.88 L565.18 868.3 L565.73 868.3 L565.73 867.82 L566.27 867.82 L566.27 867.43 L566.82 867.43 L566.82 866.84 L567.36 866.84 L567.36 866.78 L567.91 866.78 L567.91 866.36 L568.45 866.36 L568.45 865.76 L569 865.76 L569 865.19 L569.55 865.19 L569.55 864.99 L570.09 864.99 L570.09 864.8 L570.64 864.8 L570.64 864.61 L571.18 864.61 L571.18 863.92 L571.73 863.92 L571.73 863.66 L572.27 863.66 L572.27 863.32 L572.82 863.32 L572.82 863.14 L573.36 863.14 L573.36 862.66 L573.91 862.66 L573.91 862.92 L574.45 862.92 L574.45 862.24 L575 862.24 L575 862.6 L575.55 862.6 L575.55 862.3 L576.09 862.3 L576.09 862.97 L576.64 862.97 L576.64 862.75 L577.18 862.75 L577.18 863.65 L577.73 863.65 L577.73 864.86 L578.27 864.86 L578.27 865.94 L578.82 865.94 L578.82 866.69 L579.36 866.69 L579.36 867.71 L579.91 867.71 L579.91 868.61 L580.45 868.61 L580.45 869.66 L581 869.66 L581 870.6 L581 870.6Z" fill="#8a2be2"/>
<path d="M566.5 883 L566.49 883 L567.04 883 L567.04 882.8 L567.59 882.8 L567.59 882.58 L568.13 882.58 L568.13 882.35 L568.68 882.35 L568.68 882.17 L569.22 882.17 L569.22 881.98 L569.76 881.98 L569.76 881.77 L570.31 881.77 L570.31 881.49 L570.85 881.49 L570.85 881.34 L571.4 881.34 L571.4 881.03 L571.94 881.03 L571.94 880.68 L572.49 880.68 L572.49 880.56 L573.03 880.56 L573.03 880.19 L573.57 880.19 L573.57 879.79 L574.12 879.79 L574.12 879.6 L574.66 879.6 L574.66 879.3 L575.21 879.3 L575.21 878.73 L575.75 878.73 L575.75 878.54 L576.29 878.54 L576.29 878.83 L576.84 878.83 L576.84 879.06 L577.38 879.06 L577.38 879.59 L577.93 879.59 L577.93 879.93 L578.47 879.93 L578.47 880.14 L579.01 880.14 L579.01 880.52 L579.56 880.52 L579.56 880.77 L580.1 880.77 L580.1 881.06 L580.65 881.06 L580.65 881.35 L581.19 881.35 L581.19 881.58 L581.74 881.58 L581.74 881.73 L582.28 881.73 L582.28 881.96 L582.82 881.96 L582.82 882.14 L583.37 882.14 L583.37 882.38 L583.91 882.38 L583.91 882.59 L584.46 882.59 L584.46 882.79 L585 882.79 L585 883 L585 883Z" fill="#8a2be2"/>
<rect x="558" y="882.8" width="28" height="0.5" fill="#c090f8"/>
<rect x="558" y="886" width="28" height="0.5" fill="#b070f0"/>
<text x="673" y="866.05" font-size="5.7" fill="#b04fd0" stroke="#b04fd0" style="stroke-width:0">5500</text>
<text x="673" y="872.05" font-size="5.7" fill="#b04fd0" stroke="#b04fd0" style="stroke-width:0">1.3</text>
<text x="673" y="878.05" font-size="5.7" fill="#b04fd0" stroke="#b04fd0" style="stroke-width:0">5500</text>
<text x="673" y="884.05" font-size="5.7" fill="#b04fd0" stroke="#b04fd0" style="stroke-width:0">1.3</text>
<text x="438.8" y="899.17" font-size="13.8" text-anchor="end" fill="#22c0a0" stroke="#22c0a0">Nono</text>
<text x="440.5" y="891.9" font-size="8.5" stroke="#1a1a1a"><tspan font-style="italic">Evf2</tspan><tspan font-style="italic" font-size="4.93" dy="-2.55">+/+</tspan></text>
<text x="440.5" y="904.1" font-size="8.5" stroke="#1a1a1a"><tspan font-style="italic">Evf2</tspan><tspan font-style="italic" font-size="4.93" dy="-2.55">TS/TS</tspan></text>
<path d="M568 897.2 L567.99 897.2 L568.55 897.2 L568.55 896.6 L569.1 896.6 L569.1 895.99 L569.64 895.99 L569.64 895.4 L570.19 895.4 L570.19 895.18 L570.74 895.18 L570.74 894.8 L571.29 894.8 L571.29 894.52 L571.83 894.52 L571.83 894.16 L572.38 894.16 L572.38 893.68 L572.93 893.68 L572.93 893.37 L573.48 893.37 L573.48 892.78 L574.02 892.78 L574.02 892.31 L574.57 892.31 L574.57 891.95 L575.12 891.95 L575.12 890.57 L575.67 890.57 L575.67 889.8 L576.21 889.8 L576.21 888.28 L576.76 888.28 L576.76 890.37 L577.31 890.37 L577.31 892.56 L577.86 892.56 L577.86 894.47 L578.4 894.47 L578.4 895.46 L578.95 895.46 L578.95 896.34 L579.5 896.34 L579.5 897.2 L579.5 897.2Z" fill="#1dbdbd"/>
<text x="673" y="892.05" font-size="5.7" fill="#22b8a8" stroke="#22b8a8" style="stroke-width:0">130</text>
<text x="673" y="898.05" font-size="5.7" fill="#22b8a8" stroke="#22b8a8" style="stroke-width:0">1.3</text>
<text x="673" y="904.05" font-size="5.7" fill="#22b8a8" stroke="#22b8a8" style="stroke-width:0">130</text>
<text x="673" y="910.05" font-size="5.7" fill="#22b8a8" stroke="#22b8a8" style="stroke-width:0">1.3</text>
<text x="373.7" y="842.4" font-size="13.7" text-anchor="middle" stroke="#1a1a1a" transform="rotate(-90 373.7 842.4)">(RNP hotspot)</text>
</svg>
</body></html>
